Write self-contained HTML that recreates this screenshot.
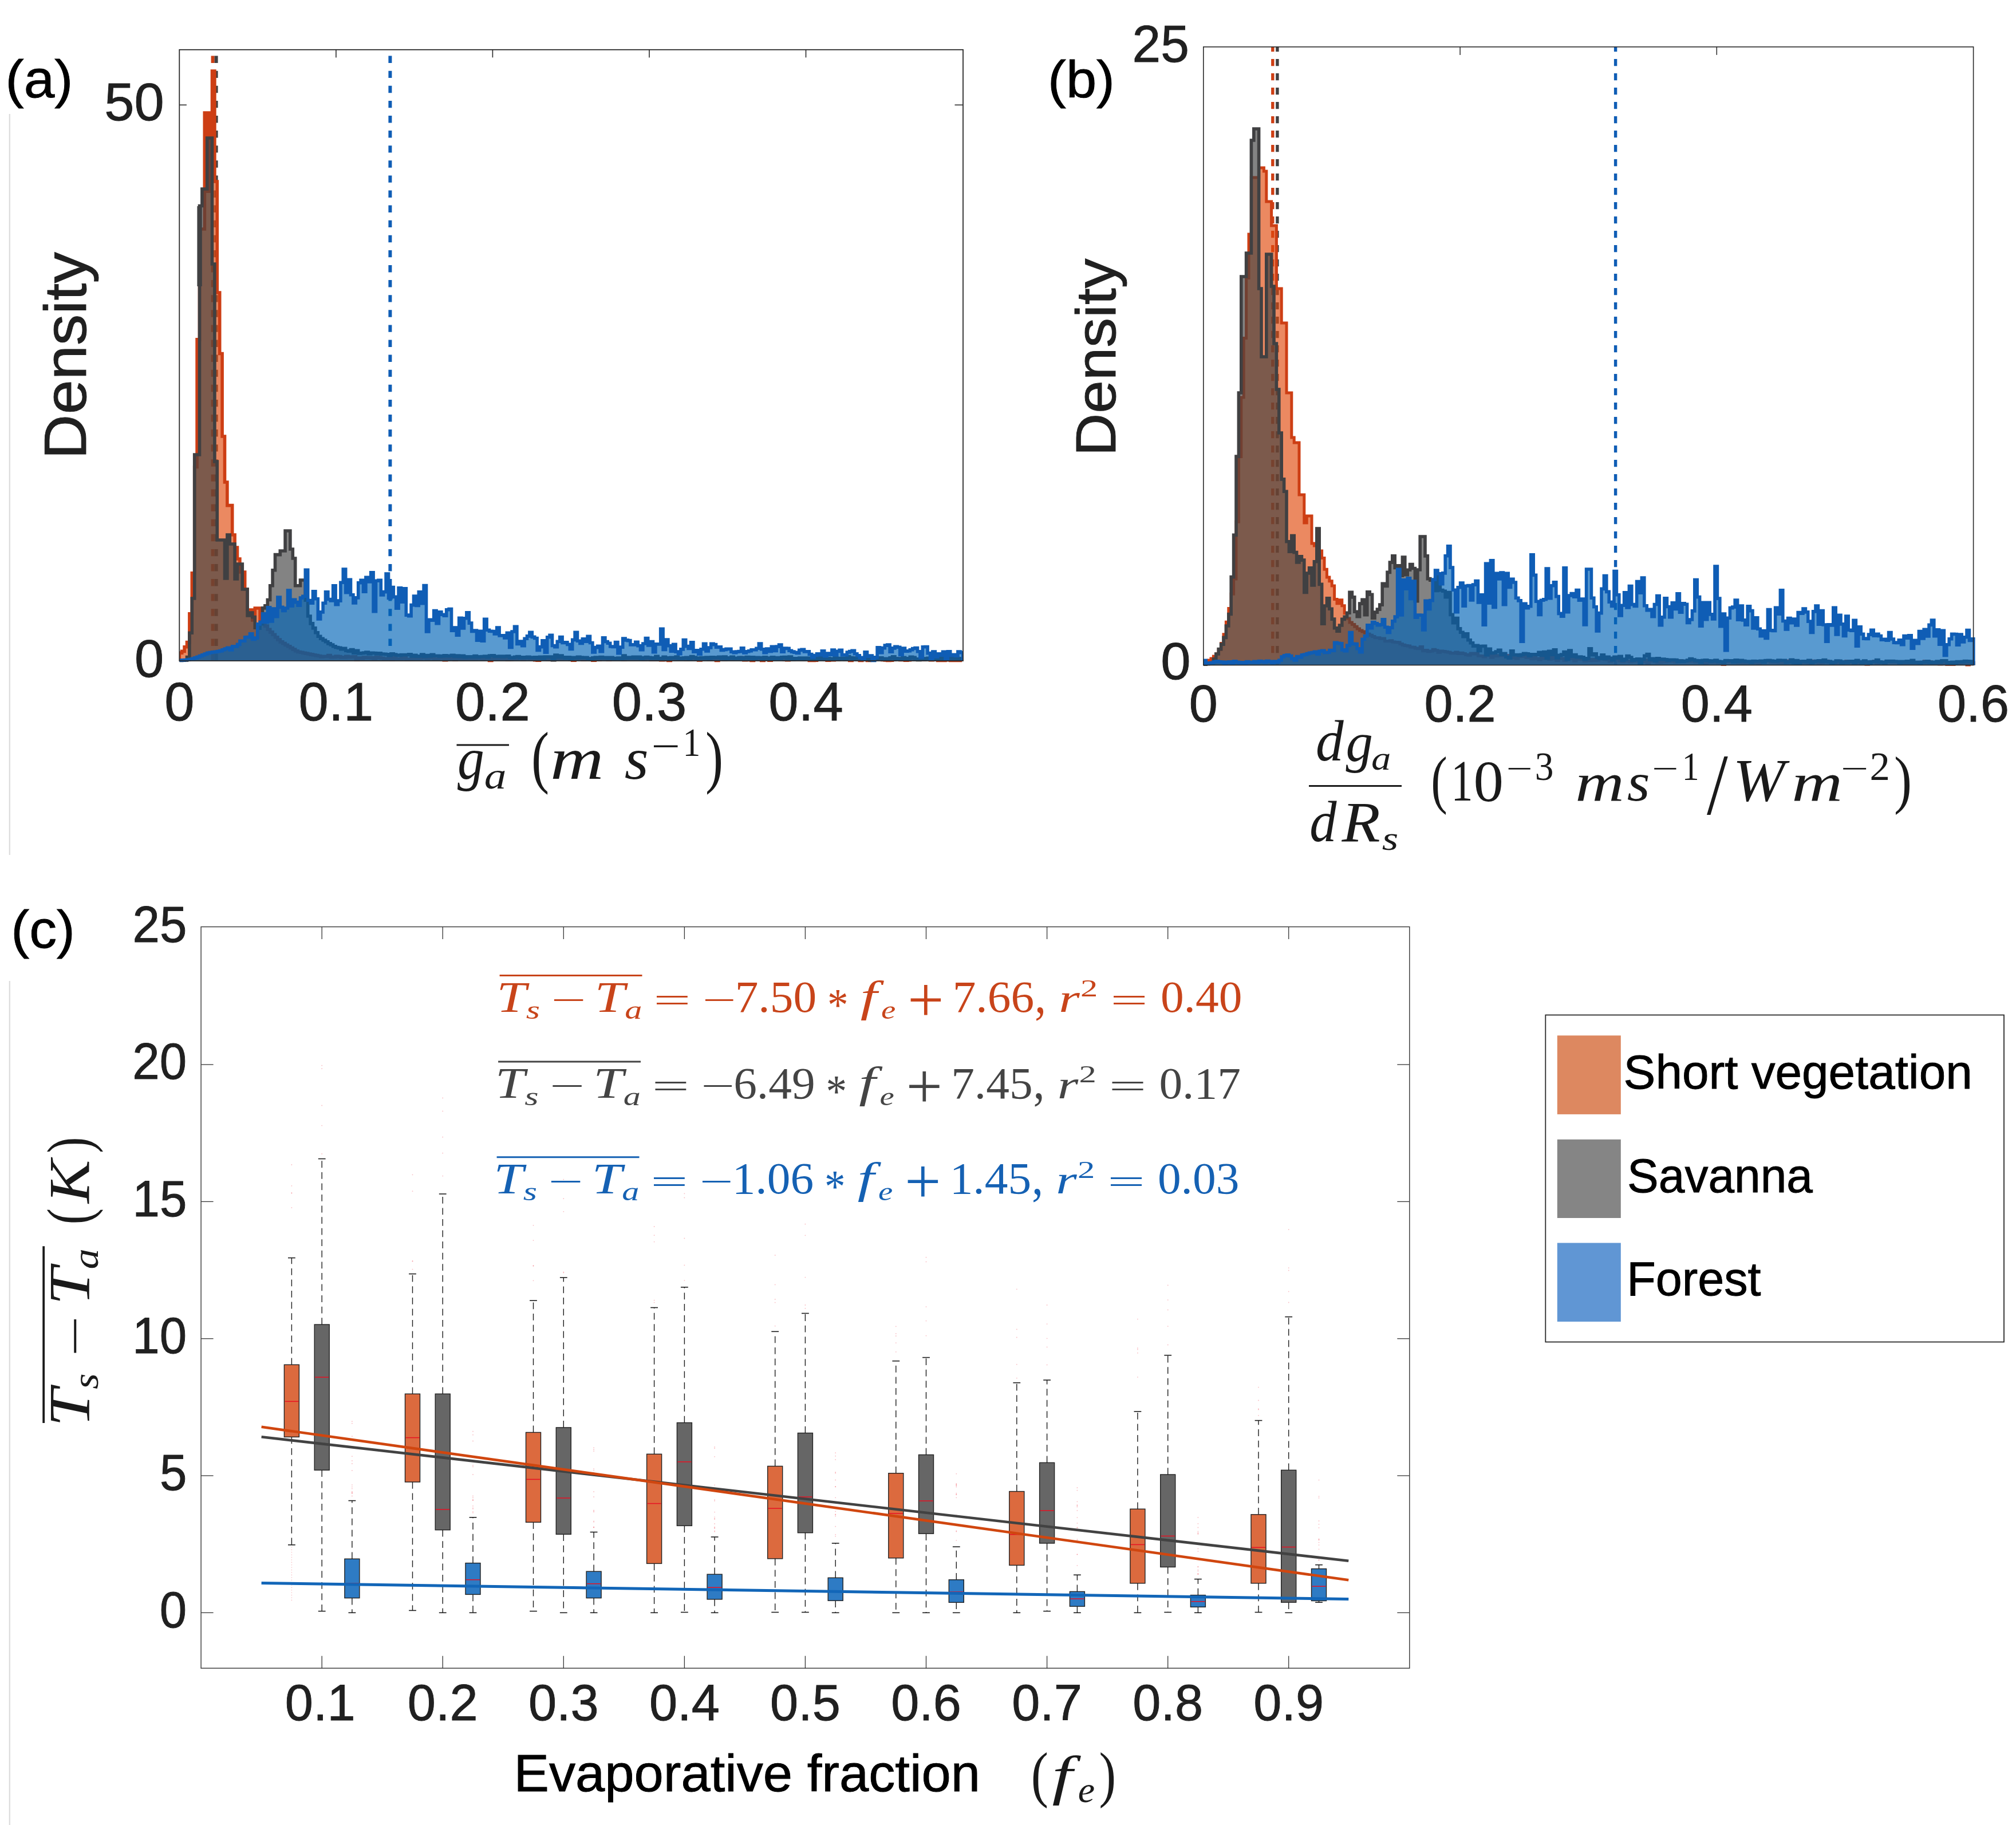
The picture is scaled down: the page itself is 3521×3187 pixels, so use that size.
<!DOCTYPE html>
<html><head><meta charset="utf-8"><title>Figure</title>
<style>
html,body{margin:0;padding:0;background:#fff;}
body{width:3521px;height:3187px;overflow:hidden;}
svg{display:block;}
text{white-space:pre;}
</style></head>
<body>
<svg width="3521" height="3187" viewBox="0 0 3521 3187">
<rect x="0" y="0" width="3521" height="3187" fill="#ffffff"/>
<line x1="16.8" y1="199.0" x2="16.8" y2="1493.0" stroke="#dcdcdc" stroke-width="2.2" />
<line x1="16.8" y1="1713.0" x2="16.8" y2="3187.0" stroke="#dcdcdc" stroke-width="2.2" />
<g id="panel-a">
<clipPath id="clipA"><rect x="313.3" y="86.8" width="1368.7" height="1073.2"/></clipPath>
<g clip-path="url(#clipA)">
<line x1="371.6" y1="1154.0" x2="371.6" y2="66.8" stroke="#CD3E14" stroke-width="6" stroke-dasharray="12.4 13.700000000000001" stroke-dashoffset="0"/>
<line x1="377.6" y1="1154.0" x2="377.6" y2="66.8" stroke="#404042" stroke-width="6" stroke-dasharray="12.4 13.700000000000001" stroke-dashoffset="0"/>
<line x1="681.4" y1="1154.0" x2="681.4" y2="66.8" stroke="#0F5DB5" stroke-width="6" stroke-dasharray="12.4 13.700000000000001" stroke-dashoffset="0"/>
<path d="M313.3,1154.0L313.3,1140.1L317.7,1140.1L317.7,1137.4L322.1,1137.4L322.1,1129.8L326.5,1129.8L326.5,1121.6L330.9,1121.6L330.9,1071.8L335.3,1071.8L335.3,1000.8L339.7,1000.8L339.7,815.5L344.1,815.5L344.1,592.7L348.5,592.7L348.5,400.0L352.9,400.0L352.9,400.0L357.3,400.0L357.3,197.0L361.7,197.0L361.7,197.0L366.1,197.0L366.1,197.0L370.5,197.0L370.5,124.0L374.9,124.0L374.9,317.0L379.3,317.0L379.3,511.0L383.7,511.0L383.7,617.5L388.1,617.5L388.1,762.0L392.5,762.0L392.5,842.0L396.9,842.0L396.9,882.6L401.3,882.6L401.3,882.6L405.7,882.6L405.7,934.0L410.1,934.0L410.1,956.0L414.5,956.0L414.5,976.0L418.9,976.0L418.9,999.0L423.3,999.0L423.3,999.0L427.7,999.0L427.7,1029.0L432.1,1029.0L432.1,1065.0L436.5,1065.0L436.5,1065.0L440.9,1065.0L440.9,1083.0L445.3,1083.0L445.3,1062.0L449.7,1062.0L449.7,1062.0L454.1,1062.0L454.1,1083.0L458.5,1083.0L458.5,1083.0L462.9,1083.0L462.9,1093.1L467.3,1093.1L467.3,1099.3L471.7,1099.3L471.7,1103.9L476.1,1103.9L476.1,1108.3L480.5,1108.3L480.5,1112.7L484.9,1112.7L484.9,1117.1L489.3,1117.1L489.3,1120.9L493.7,1120.9L493.7,1123.5L498.1,1123.5L498.1,1126.2L502.5,1126.2L502.5,1128.8L506.9,1128.8L506.9,1131.5L511.3,1131.5L511.3,1134.1L515.7,1134.1L515.7,1136.7L520.1,1136.7L520.1,1138.5L524.5,1138.5L524.5,1139.3L528.9,1139.3L528.9,1140.2L533.3,1140.2L533.3,1141.1L537.7,1141.1L537.7,1142.0L542.1,1142.0L542.1,1142.9L546.5,1142.9L546.5,1143.7L550.9,1143.7L550.9,1144.6L555.3,1144.6L555.3,1145.5L559.7,1145.5L559.7,1146.8L564.1,1146.8L564.1,1146.2L568.5,1146.2L568.5,1146.2L572.9,1146.2L572.9,1144.6L577.3,1144.6L577.3,1147.4L581.7,1147.4L581.7,1147.3L586.1,1147.3L586.1,1146.0L590.5,1146.0L590.5,1146.6L594.9,1146.6L594.9,1147.8L599.3,1147.8L599.3,1147.8L603.7,1147.8L603.7,1146.4L608.1,1146.4L608.1,1147.3L612.5,1147.3L612.5,1147.0L616.9,1147.0L616.9,1146.7L621.3,1146.7L621.3,1152.0L625.7,1152.0L625.7,1149.0L630.1,1149.0L630.1,1149.6L634.5,1149.6L634.5,1148.0L638.9,1148.0L638.9,1148.3L643.3,1148.3L643.3,1148.2L647.7,1148.2L647.7,1148.6L652.1,1148.6L652.1,1150.2L656.5,1150.2L656.5,1147.5L660.9,1147.5L660.9,1148.3L665.3,1148.3L665.3,1149.2L669.7,1149.2L669.7,1151.1L674.1,1151.1L674.1,1150.4L678.5,1150.4L678.5,1148.0L682.9,1148.0L682.9,1151.4L687.3,1151.4L687.3,1148.6L691.7,1148.6L691.7,1150.7L696.1,1150.7L696.1,1150.8L700.5,1150.8L700.5,1149.6L704.9,1149.6L704.9,1148.6L709.3,1148.6L709.3,1151.4L713.7,1151.4L713.7,1151.2L718.1,1151.2L718.1,1150.7L722.5,1150.7L722.5,1150.0L726.9,1150.0L726.9,1150.4L731.3,1150.4L731.3,1149.8L735.7,1149.8L735.7,1148.2L740.1,1148.2L740.1,1148.7L744.5,1148.7L744.5,1150.7L748.9,1150.7L748.9,1148.4L753.3,1148.4L753.3,1148.7L757.7,1148.7L757.7,1151.1L762.1,1151.1L762.1,1151.0L766.5,1151.0L766.5,1148.6L770.9,1148.6L770.9,1149.2L775.3,1149.2L775.3,1152.7L779.7,1152.7L779.7,1151.1L784.1,1151.1L784.1,1150.7L788.5,1150.7L788.5,1149.0L792.9,1149.0L792.9,1152.3L797.3,1152.3L797.3,1149.5L801.7,1149.5L801.7,1150.3L806.1,1150.3L806.1,1149.4L810.5,1149.4L810.5,1151.3L814.9,1151.3L814.9,1150.8L819.3,1150.8L819.3,1149.8L823.7,1149.8L823.7,1150.5L828.1,1150.5L828.1,1151.2L832.5,1151.2L832.5,1149.6L836.9,1149.6L836.9,1148.7L841.3,1148.7L841.3,1151.1L845.7,1151.1L845.7,1148.7L850.1,1148.7L850.1,1149.8L854.5,1149.8L854.5,1153.5L858.9,1153.5L858.9,1150.6L863.3,1150.6L863.3,1151.1L867.7,1151.1L867.7,1149.0L872.1,1149.0L872.1,1150.3L876.5,1150.3L876.5,1150.5L880.9,1150.5L880.9,1149.3L885.3,1149.3L885.3,1151.9L889.7,1151.9L889.7,1151.7L894.1,1151.7L894.1,1150.0L898.5,1150.0L898.5,1150.7L902.9,1150.7L902.9,1149.5L907.3,1149.5L907.3,1149.5L911.7,1149.5L911.7,1151.5L916.1,1151.5L916.1,1149.4L920.5,1149.4L920.5,1149.2L924.9,1149.2L924.9,1150.9L929.3,1150.9L929.3,1150.9L933.7,1150.9L933.7,1152.7L938.1,1152.7L938.1,1153.2L942.5,1153.2L942.5,1149.0L946.9,1149.0L946.9,1150.7L951.3,1150.7L951.3,1148.5L955.7,1148.5L955.7,1151.8L960.1,1151.8L960.1,1151.9L964.5,1151.9L964.5,1150.0L968.9,1150.0L968.9,1148.4L973.3,1148.4L973.3,1150.2L977.7,1150.2L977.7,1150.1L982.1,1150.1L982.1,1149.6L986.5,1149.6L986.5,1149.7L990.9,1149.7L990.9,1149.4L995.3,1149.4L995.3,1151.7L999.7,1151.7L999.7,1153.3L1004.1,1153.3L1004.1,1149.9L1008.5,1149.9L1008.5,1150.2L1012.9,1150.2L1012.9,1150.9L1017.3,1150.9L1017.3,1152.3L1021.7,1152.3L1021.7,1151.6L1026.1,1151.6L1026.1,1151.1L1030.5,1151.1L1030.5,1150.0L1034.9,1150.0L1034.9,1153.2L1039.3,1153.2L1039.3,1150.9L1043.7,1150.9L1043.7,1152.1L1048.1,1152.1L1048.1,1149.2L1052.5,1149.2L1052.5,1151.0L1056.9,1151.0L1056.9,1150.2L1061.3,1150.2L1061.3,1152.2L1065.7,1152.2L1065.7,1149.4L1070.1,1149.4L1070.1,1151.3L1074.5,1151.3L1074.5,1151.2L1078.9,1151.2L1078.9,1149.9L1083.3,1149.9L1083.3,1149.9L1087.7,1149.9L1087.7,1151.8L1092.1,1151.8L1092.1,1150.6L1096.5,1150.6L1096.5,1150.2L1100.9,1150.2L1100.9,1150.7L1105.3,1150.7L1105.3,1150.0L1109.7,1150.0L1109.7,1151.3L1114.1,1151.3L1114.1,1149.8L1118.5,1149.8L1118.5,1150.9L1122.9,1150.9L1122.9,1151.5L1127.3,1151.5L1127.3,1150.4L1131.7,1150.4L1131.7,1149.5L1136.1,1149.5L1136.1,1152.2L1140.5,1152.2L1140.5,1150.1L1144.9,1150.1L1144.9,1152.1L1149.3,1152.1L1149.3,1152.2L1153.7,1152.2L1153.7,1152.7L1158.1,1152.7L1158.1,1152.5L1162.5,1152.5L1162.5,1150.0L1166.9,1150.0L1166.9,1153.4L1171.3,1153.4L1171.3,1150.7L1175.7,1150.7L1175.7,1150.5L1180.1,1150.5L1180.1,1151.4L1184.5,1151.4L1184.5,1151.0L1188.9,1151.0L1188.9,1150.5L1193.3,1150.5L1193.3,1150.9L1197.7,1150.9L1197.7,1151.6L1202.1,1151.6L1202.1,1150.2L1206.5,1150.2L1206.5,1150.9L1210.9,1150.9L1210.9,1150.5L1215.3,1150.5L1215.3,1151.2L1219.7,1151.2L1219.7,1152.9L1224.1,1152.9L1224.1,1151.1L1228.5,1151.1L1228.5,1150.8L1232.9,1150.8L1232.9,1150.9L1237.3,1150.9L1237.3,1151.7L1241.7,1151.7L1241.7,1151.4L1246.1,1151.4L1246.1,1149.2L1250.5,1149.2L1250.5,1153.5L1254.9,1153.5L1254.9,1148.4L1259.3,1148.4L1259.3,1150.0L1263.7,1150.0L1263.7,1151.8L1268.1,1151.8L1268.1,1150.0L1272.5,1150.0L1272.5,1151.3L1276.9,1151.3L1276.9,1151.3L1281.3,1151.3L1281.3,1150.6L1285.7,1150.6L1285.7,1150.0L1290.1,1150.0L1290.1,1151.0L1294.5,1151.0L1294.5,1148.3L1298.9,1148.3L1298.9,1152.6L1303.3,1152.6L1303.3,1150.1L1307.7,1150.1L1307.7,1152.5L1312.1,1152.5L1312.1,1153.5L1316.5,1153.5L1316.5,1151.4L1320.9,1151.4L1320.9,1149.6L1325.3,1149.6L1325.3,1152.3L1329.7,1152.3L1329.7,1153.4L1334.1,1153.4L1334.1,1149.9L1338.5,1149.9L1338.5,1151.1L1342.9,1151.1L1342.9,1153.3L1347.3,1153.3L1347.3,1150.3L1351.7,1150.3L1351.7,1149.5L1356.1,1149.5L1356.1,1150.0L1360.5,1150.0L1360.5,1151.0L1364.9,1151.0L1364.9,1148.5L1369.3,1148.5L1369.3,1152.2L1373.7,1152.2L1373.7,1152.7L1378.1,1152.7L1378.1,1149.7L1382.5,1149.7L1382.5,1151.4L1386.9,1151.4L1386.9,1151.1L1391.3,1151.1L1391.3,1151.4L1395.7,1151.4L1395.7,1151.5L1400.1,1151.5L1400.1,1150.2L1404.5,1150.2L1404.5,1151.8L1408.9,1151.8L1408.9,1151.1L1413.3,1151.1L1413.3,1153.4L1417.7,1153.4L1417.7,1153.5L1422.1,1153.5L1422.1,1153.1L1426.5,1153.1L1426.5,1150.0L1430.9,1150.0L1430.9,1150.7L1435.3,1150.7L1435.3,1150.9L1439.7,1150.9L1439.7,1151.8L1444.1,1151.8L1444.1,1153.2L1448.5,1153.2L1448.5,1151.5L1452.9,1151.5L1452.9,1152.8L1457.3,1152.8L1457.3,1150.8L1461.7,1150.8L1461.7,1151.9L1466.1,1151.9L1466.1,1149.9L1470.5,1149.9L1470.5,1150.5L1474.9,1150.5L1474.9,1151.6L1479.3,1151.6L1479.3,1151.2L1483.7,1151.2L1483.7,1153.5L1488.1,1153.5L1488.1,1150.0L1492.5,1150.0L1492.5,1148.7L1496.9,1148.7L1496.9,1151.8L1501.3,1151.8L1501.3,1153.5L1505.7,1153.5L1505.7,1151.6L1510.1,1151.6L1510.1,1150.2L1514.5,1150.2L1514.5,1153.5L1518.9,1153.5L1518.9,1151.0L1523.3,1151.0L1523.3,1150.4L1527.7,1150.4L1527.7,1150.6L1532.1,1150.6L1532.1,1150.3L1536.5,1150.3L1536.5,1151.2L1540.9,1151.2L1540.9,1152.4L1545.3,1152.4L1545.3,1152.9L1549.7,1152.9L1549.7,1153.5L1554.1,1153.5L1554.1,1153.2L1558.5,1153.2L1558.5,1152.3L1562.9,1152.3L1562.9,1149.8L1567.3,1149.8L1567.3,1150.1L1571.7,1150.1L1571.7,1152.4L1576.1,1152.4L1576.1,1151.0L1580.5,1151.0L1580.5,1153.2L1584.9,1153.2L1584.9,1152.7L1589.3,1152.7L1589.3,1151.8L1593.7,1151.8L1593.7,1148.5L1598.1,1148.5L1598.1,1151.4L1602.5,1151.4L1602.5,1151.7L1606.9,1151.7L1606.9,1152.3L1611.3,1152.3L1611.3,1152.3L1615.7,1152.3L1615.7,1150.3L1620.1,1150.3L1620.1,1150.9L1624.5,1150.9L1624.5,1152.8L1628.9,1152.8L1628.9,1150.9L1633.3,1150.9L1633.3,1152.0L1637.7,1152.0L1637.7,1153.5L1642.1,1153.5L1642.1,1151.3L1646.5,1151.3L1646.5,1153.5L1650.9,1153.5L1650.9,1152.8L1655.3,1152.8L1655.3,1151.5L1659.7,1151.5L1659.7,1153.5L1664.1,1153.5L1664.1,1153.5L1668.5,1153.5L1668.5,1152.0L1672.9,1152.0L1672.9,1153.5L1677.3,1153.5L1677.3,1150.0L1681.7,1150.0L1681.7,1154.0Z" fill="#E04A0C" fill-opacity="0.65" stroke="none"/>
<path d="M313.3,1154.0L313.3,1140.1L317.7,1140.1L317.7,1137.4L322.1,1137.4L322.1,1129.8L326.5,1129.8L326.5,1121.6L330.9,1121.6L330.9,1071.8L335.3,1071.8L335.3,1000.8L339.7,1000.8L339.7,815.5L344.1,815.5L344.1,592.7L348.5,592.7L348.5,400.0L352.9,400.0L352.9,400.0L357.3,400.0L357.3,197.0L361.7,197.0L361.7,197.0L366.1,197.0L366.1,197.0L370.5,197.0L370.5,124.0L374.9,124.0L374.9,317.0L379.3,317.0L379.3,511.0L383.7,511.0L383.7,617.5L388.1,617.5L388.1,762.0L392.5,762.0L392.5,842.0L396.9,842.0L396.9,882.6L401.3,882.6L401.3,882.6L405.7,882.6L405.7,934.0L410.1,934.0L410.1,956.0L414.5,956.0L414.5,976.0L418.9,976.0L418.9,999.0L423.3,999.0L423.3,999.0L427.7,999.0L427.7,1029.0L432.1,1029.0L432.1,1065.0L436.5,1065.0L436.5,1065.0L440.9,1065.0L440.9,1083.0L445.3,1083.0L445.3,1062.0L449.7,1062.0L449.7,1062.0L454.1,1062.0L454.1,1083.0L458.5,1083.0L458.5,1083.0L462.9,1083.0L462.9,1093.1L467.3,1093.1L467.3,1099.3L471.7,1099.3L471.7,1103.9L476.1,1103.9L476.1,1108.3L480.5,1108.3L480.5,1112.7L484.9,1112.7L484.9,1117.1L489.3,1117.1L489.3,1120.9L493.7,1120.9L493.7,1123.5L498.1,1123.5L498.1,1126.2L502.5,1126.2L502.5,1128.8L506.9,1128.8L506.9,1131.5L511.3,1131.5L511.3,1134.1L515.7,1134.1L515.7,1136.7L520.1,1136.7L520.1,1138.5L524.5,1138.5L524.5,1139.3L528.9,1139.3L528.9,1140.2L533.3,1140.2L533.3,1141.1L537.7,1141.1L537.7,1142.0L542.1,1142.0L542.1,1142.9L546.5,1142.9L546.5,1143.7L550.9,1143.7L550.9,1144.6L555.3,1144.6L555.3,1145.5L559.7,1145.5L559.7,1146.8L564.1,1146.8L564.1,1146.2L568.5,1146.2L568.5,1146.2L572.9,1146.2L572.9,1144.6L577.3,1144.6L577.3,1147.4L581.7,1147.4L581.7,1147.3L586.1,1147.3L586.1,1146.0L590.5,1146.0L590.5,1146.6L594.9,1146.6L594.9,1147.8L599.3,1147.8L599.3,1147.8L603.7,1147.8L603.7,1146.4L608.1,1146.4L608.1,1147.3L612.5,1147.3L612.5,1147.0L616.9,1147.0L616.9,1146.7L621.3,1146.7L621.3,1152.0L625.7,1152.0L625.7,1149.0L630.1,1149.0L630.1,1149.6L634.5,1149.6L634.5,1148.0L638.9,1148.0L638.9,1148.3L643.3,1148.3L643.3,1148.2L647.7,1148.2L647.7,1148.6L652.1,1148.6L652.1,1150.2L656.5,1150.2L656.5,1147.5L660.9,1147.5L660.9,1148.3L665.3,1148.3L665.3,1149.2L669.7,1149.2L669.7,1151.1L674.1,1151.1L674.1,1150.4L678.5,1150.4L678.5,1148.0L682.9,1148.0L682.9,1151.4L687.3,1151.4L687.3,1148.6L691.7,1148.6L691.7,1150.7L696.1,1150.7L696.1,1150.8L700.5,1150.8L700.5,1149.6L704.9,1149.6L704.9,1148.6L709.3,1148.6L709.3,1151.4L713.7,1151.4L713.7,1151.2L718.1,1151.2L718.1,1150.7L722.5,1150.7L722.5,1150.0L726.9,1150.0L726.9,1150.4L731.3,1150.4L731.3,1149.8L735.7,1149.8L735.7,1148.2L740.1,1148.2L740.1,1148.7L744.5,1148.7L744.5,1150.7L748.9,1150.7L748.9,1148.4L753.3,1148.4L753.3,1148.7L757.7,1148.7L757.7,1151.1L762.1,1151.1L762.1,1151.0L766.5,1151.0L766.5,1148.6L770.9,1148.6L770.9,1149.2L775.3,1149.2L775.3,1152.7L779.7,1152.7L779.7,1151.1L784.1,1151.1L784.1,1150.7L788.5,1150.7L788.5,1149.0L792.9,1149.0L792.9,1152.3L797.3,1152.3L797.3,1149.5L801.7,1149.5L801.7,1150.3L806.1,1150.3L806.1,1149.4L810.5,1149.4L810.5,1151.3L814.9,1151.3L814.9,1150.8L819.3,1150.8L819.3,1149.8L823.7,1149.8L823.7,1150.5L828.1,1150.5L828.1,1151.2L832.5,1151.2L832.5,1149.6L836.9,1149.6L836.9,1148.7L841.3,1148.7L841.3,1151.1L845.7,1151.1L845.7,1148.7L850.1,1148.7L850.1,1149.8L854.5,1149.8L854.5,1153.5L858.9,1153.5L858.9,1150.6L863.3,1150.6L863.3,1151.1L867.7,1151.1L867.7,1149.0L872.1,1149.0L872.1,1150.3L876.5,1150.3L876.5,1150.5L880.9,1150.5L880.9,1149.3L885.3,1149.3L885.3,1151.9L889.7,1151.9L889.7,1151.7L894.1,1151.7L894.1,1150.0L898.5,1150.0L898.5,1150.7L902.9,1150.7L902.9,1149.5L907.3,1149.5L907.3,1149.5L911.7,1149.5L911.7,1151.5L916.1,1151.5L916.1,1149.4L920.5,1149.4L920.5,1149.2L924.9,1149.2L924.9,1150.9L929.3,1150.9L929.3,1150.9L933.7,1150.9L933.7,1152.7L938.1,1152.7L938.1,1153.2L942.5,1153.2L942.5,1149.0L946.9,1149.0L946.9,1150.7L951.3,1150.7L951.3,1148.5L955.7,1148.5L955.7,1151.8L960.1,1151.8L960.1,1151.9L964.5,1151.9L964.5,1150.0L968.9,1150.0L968.9,1148.4L973.3,1148.4L973.3,1150.2L977.7,1150.2L977.7,1150.1L982.1,1150.1L982.1,1149.6L986.5,1149.6L986.5,1149.7L990.9,1149.7L990.9,1149.4L995.3,1149.4L995.3,1151.7L999.7,1151.7L999.7,1153.3L1004.1,1153.3L1004.1,1149.9L1008.5,1149.9L1008.5,1150.2L1012.9,1150.2L1012.9,1150.9L1017.3,1150.9L1017.3,1152.3L1021.7,1152.3L1021.7,1151.6L1026.1,1151.6L1026.1,1151.1L1030.5,1151.1L1030.5,1150.0L1034.9,1150.0L1034.9,1153.2L1039.3,1153.2L1039.3,1150.9L1043.7,1150.9L1043.7,1152.1L1048.1,1152.1L1048.1,1149.2L1052.5,1149.2L1052.5,1151.0L1056.9,1151.0L1056.9,1150.2L1061.3,1150.2L1061.3,1152.2L1065.7,1152.2L1065.7,1149.4L1070.1,1149.4L1070.1,1151.3L1074.5,1151.3L1074.5,1151.2L1078.9,1151.2L1078.9,1149.9L1083.3,1149.9L1083.3,1149.9L1087.7,1149.9L1087.7,1151.8L1092.1,1151.8L1092.1,1150.6L1096.5,1150.6L1096.5,1150.2L1100.9,1150.2L1100.9,1150.7L1105.3,1150.7L1105.3,1150.0L1109.7,1150.0L1109.7,1151.3L1114.1,1151.3L1114.1,1149.8L1118.5,1149.8L1118.5,1150.9L1122.9,1150.9L1122.9,1151.5L1127.3,1151.5L1127.3,1150.4L1131.7,1150.4L1131.7,1149.5L1136.1,1149.5L1136.1,1152.2L1140.5,1152.2L1140.5,1150.1L1144.9,1150.1L1144.9,1152.1L1149.3,1152.1L1149.3,1152.2L1153.7,1152.2L1153.7,1152.7L1158.1,1152.7L1158.1,1152.5L1162.5,1152.5L1162.5,1150.0L1166.9,1150.0L1166.9,1153.4L1171.3,1153.4L1171.3,1150.7L1175.7,1150.7L1175.7,1150.5L1180.1,1150.5L1180.1,1151.4L1184.5,1151.4L1184.5,1151.0L1188.9,1151.0L1188.9,1150.5L1193.3,1150.5L1193.3,1150.9L1197.7,1150.9L1197.7,1151.6L1202.1,1151.6L1202.1,1150.2L1206.5,1150.2L1206.5,1150.9L1210.9,1150.9L1210.9,1150.5L1215.3,1150.5L1215.3,1151.2L1219.7,1151.2L1219.7,1152.9L1224.1,1152.9L1224.1,1151.1L1228.5,1151.1L1228.5,1150.8L1232.9,1150.8L1232.9,1150.9L1237.3,1150.9L1237.3,1151.7L1241.7,1151.7L1241.7,1151.4L1246.1,1151.4L1246.1,1149.2L1250.5,1149.2L1250.5,1153.5L1254.9,1153.5L1254.9,1148.4L1259.3,1148.4L1259.3,1150.0L1263.7,1150.0L1263.7,1151.8L1268.1,1151.8L1268.1,1150.0L1272.5,1150.0L1272.5,1151.3L1276.9,1151.3L1276.9,1151.3L1281.3,1151.3L1281.3,1150.6L1285.7,1150.6L1285.7,1150.0L1290.1,1150.0L1290.1,1151.0L1294.5,1151.0L1294.5,1148.3L1298.9,1148.3L1298.9,1152.6L1303.3,1152.6L1303.3,1150.1L1307.7,1150.1L1307.7,1152.5L1312.1,1152.5L1312.1,1153.5L1316.5,1153.5L1316.5,1151.4L1320.9,1151.4L1320.9,1149.6L1325.3,1149.6L1325.3,1152.3L1329.7,1152.3L1329.7,1153.4L1334.1,1153.4L1334.1,1149.9L1338.5,1149.9L1338.5,1151.1L1342.9,1151.1L1342.9,1153.3L1347.3,1153.3L1347.3,1150.3L1351.7,1150.3L1351.7,1149.5L1356.1,1149.5L1356.1,1150.0L1360.5,1150.0L1360.5,1151.0L1364.9,1151.0L1364.9,1148.5L1369.3,1148.5L1369.3,1152.2L1373.7,1152.2L1373.7,1152.7L1378.1,1152.7L1378.1,1149.7L1382.5,1149.7L1382.5,1151.4L1386.9,1151.4L1386.9,1151.1L1391.3,1151.1L1391.3,1151.4L1395.7,1151.4L1395.7,1151.5L1400.1,1151.5L1400.1,1150.2L1404.5,1150.2L1404.5,1151.8L1408.9,1151.8L1408.9,1151.1L1413.3,1151.1L1413.3,1153.4L1417.7,1153.4L1417.7,1153.5L1422.1,1153.5L1422.1,1153.1L1426.5,1153.1L1426.5,1150.0L1430.9,1150.0L1430.9,1150.7L1435.3,1150.7L1435.3,1150.9L1439.7,1150.9L1439.7,1151.8L1444.1,1151.8L1444.1,1153.2L1448.5,1153.2L1448.5,1151.5L1452.9,1151.5L1452.9,1152.8L1457.3,1152.8L1457.3,1150.8L1461.7,1150.8L1461.7,1151.9L1466.1,1151.9L1466.1,1149.9L1470.5,1149.9L1470.5,1150.5L1474.9,1150.5L1474.9,1151.6L1479.3,1151.6L1479.3,1151.2L1483.7,1151.2L1483.7,1153.5L1488.1,1153.5L1488.1,1150.0L1492.5,1150.0L1492.5,1148.7L1496.9,1148.7L1496.9,1151.8L1501.3,1151.8L1501.3,1153.5L1505.7,1153.5L1505.7,1151.6L1510.1,1151.6L1510.1,1150.2L1514.5,1150.2L1514.5,1153.5L1518.9,1153.5L1518.9,1151.0L1523.3,1151.0L1523.3,1150.4L1527.7,1150.4L1527.7,1150.6L1532.1,1150.6L1532.1,1150.3L1536.5,1150.3L1536.5,1151.2L1540.9,1151.2L1540.9,1152.4L1545.3,1152.4L1545.3,1152.9L1549.7,1152.9L1549.7,1153.5L1554.1,1153.5L1554.1,1153.2L1558.5,1153.2L1558.5,1152.3L1562.9,1152.3L1562.9,1149.8L1567.3,1149.8L1567.3,1150.1L1571.7,1150.1L1571.7,1152.4L1576.1,1152.4L1576.1,1151.0L1580.5,1151.0L1580.5,1153.2L1584.9,1153.2L1584.9,1152.7L1589.3,1152.7L1589.3,1151.8L1593.7,1151.8L1593.7,1148.5L1598.1,1148.5L1598.1,1151.4L1602.5,1151.4L1602.5,1151.7L1606.9,1151.7L1606.9,1152.3L1611.3,1152.3L1611.3,1152.3L1615.7,1152.3L1615.7,1150.3L1620.1,1150.3L1620.1,1150.9L1624.5,1150.9L1624.5,1152.8L1628.9,1152.8L1628.9,1150.9L1633.3,1150.9L1633.3,1152.0L1637.7,1152.0L1637.7,1153.5L1642.1,1153.5L1642.1,1151.3L1646.5,1151.3L1646.5,1153.5L1650.9,1153.5L1650.9,1152.8L1655.3,1152.8L1655.3,1151.5L1659.7,1151.5L1659.7,1153.5L1664.1,1153.5L1664.1,1153.5L1668.5,1153.5L1668.5,1152.0L1672.9,1152.0L1672.9,1153.5L1677.3,1153.5L1677.3,1150.0L1681.7,1150.0L1681.7,1154.0" fill="none" stroke="#CD3E14" stroke-width="5.6" stroke-linejoin="miter"/>
<rect x="355" y="197" width="15" height="140" fill="#CD3E14"/>
<rect x="368" y="125" width="9" height="190" fill="#CD3E14"/>
<path d="M313.3,1154.0L313.3,1153.4L317.7,1153.4L317.7,1153.2L322.1,1153.2L322.1,1153.0L326.5,1153.0L326.5,1147.5L330.9,1147.5L330.9,1105.3L335.3,1105.3L335.3,1045.0L339.7,1045.0L339.7,794.0L344.1,794.0L344.1,794.0L348.5,794.0L348.5,359.5L352.9,359.5L352.9,330.0L357.3,330.0L357.3,330.0L361.7,330.0L361.7,241.0L366.1,241.0L366.1,241.0L370.5,241.0L370.5,461.0L374.9,461.0L374.9,806.0L379.3,806.0L379.3,943.0L383.7,943.0L383.7,943.0L388.1,943.0L388.1,943.0L392.5,943.0L392.5,1010.0L396.9,1010.0L396.9,934.0L401.3,934.0L401.3,950.0L405.7,950.0L405.7,950.0L410.1,950.0L410.1,1011.0L414.5,1011.0L414.5,985.0L418.9,985.0L418.9,985.0L423.3,985.0L423.3,1029.0L427.7,1029.0L427.7,1029.0L432.1,1029.0L432.1,1075.0L436.5,1075.0L436.5,1070.0L440.9,1070.0L440.9,1077.6L445.3,1077.6L445.3,1096.1L449.7,1096.1L449.7,1097.2L454.1,1097.2L454.1,1089.8L458.5,1089.8L458.5,1061.9L462.9,1061.9L462.9,1057.7L467.3,1057.7L467.3,1047.5L471.7,1047.5L471.7,1022.8L476.1,1022.8L476.1,995.7L480.5,995.7L480.5,968.6L484.9,968.6L484.9,968.6L489.3,968.6L489.3,962.0L493.7,962.0L493.7,962.0L498.1,962.0L498.1,927.0L502.5,927.0L502.5,927.0L506.9,927.0L506.9,959.0L511.3,959.0L511.3,975.0L515.7,975.0L515.7,1022.7L520.1,1022.7L520.1,1022.7L524.5,1022.7L524.5,1013.0L528.9,1013.0L528.9,1013.0L533.3,1013.0L533.3,1048.2L537.7,1048.2L537.7,1076.0L542.1,1076.0L542.1,1088.9L546.5,1088.9L546.5,1096.9L550.9,1096.9L550.9,1104.8L555.3,1104.8L555.3,1111.2L559.7,1111.2L559.7,1115.2L564.1,1115.2L564.1,1118.0L568.5,1118.0L568.5,1120.8L572.9,1120.8L572.9,1123.9L577.3,1123.9L577.3,1126.0L581.7,1126.0L581.7,1128.8L586.1,1128.8L586.1,1130.5L590.5,1130.5L590.5,1131.4L594.9,1131.4L594.9,1133.7L599.3,1133.7L599.3,1132.4L603.7,1132.4L603.7,1136.2L608.1,1136.2L608.1,1137.2L612.5,1137.2L612.5,1134.5L616.9,1134.5L616.9,1140.1L621.3,1140.1L621.3,1136.4L625.7,1136.4L625.7,1141.0L630.1,1141.0L630.1,1140.5L634.5,1140.5L634.5,1140.0L638.9,1140.0L638.9,1139.0L643.3,1139.0L643.3,1141.7L647.7,1141.7L647.7,1140.2L652.1,1140.2L652.1,1140.5L656.5,1140.5L656.5,1141.8L660.9,1141.8L660.9,1140.9L665.3,1140.9L665.3,1142.1L669.7,1142.1L669.7,1142.3L674.1,1142.3L674.1,1142.8L678.5,1142.8L678.5,1144.8L682.9,1144.8L682.9,1141.8L687.3,1141.8L687.3,1143.0L691.7,1143.0L691.7,1144.0L696.1,1144.0L696.1,1144.5L700.5,1144.5L700.5,1143.5L704.9,1143.5L704.9,1143.8L709.3,1143.8L709.3,1143.5L713.7,1143.5L713.7,1142.7L718.1,1142.7L718.1,1145.9L722.5,1145.9L722.5,1144.2L726.9,1144.2L726.9,1146.1L731.3,1146.1L731.3,1145.8L735.7,1145.8L735.7,1143.1L740.1,1143.1L740.1,1146.4L744.5,1146.4L744.5,1144.6L748.9,1144.6L748.9,1146.0L753.3,1146.0L753.3,1143.4L757.7,1143.4L757.7,1145.3L762.1,1145.3L762.1,1145.2L766.5,1145.2L766.5,1146.3L770.9,1146.3L770.9,1145.6L775.3,1145.6L775.3,1144.8L779.7,1144.8L779.7,1145.6L784.1,1145.6L784.1,1145.3L788.5,1145.3L788.5,1144.3L792.9,1144.3L792.9,1146.5L797.3,1146.5L797.3,1145.1L801.7,1145.1L801.7,1146.7L806.1,1146.7L806.1,1145.2L810.5,1145.2L810.5,1147.5L814.9,1147.5L814.9,1146.9L819.3,1146.9L819.3,1146.8L823.7,1146.8L823.7,1147.2L828.1,1147.2L828.1,1145.5L832.5,1145.5L832.5,1147.2L836.9,1147.2L836.9,1146.8L841.3,1146.8L841.3,1146.5L845.7,1146.5L845.7,1146.0L850.1,1146.0L850.1,1147.5L854.5,1147.5L854.5,1145.0L858.9,1145.0L858.9,1144.8L863.3,1144.8L863.3,1146.5L867.7,1146.5L867.7,1146.4L872.1,1146.4L872.1,1146.1L876.5,1146.1L876.5,1147.0L880.9,1147.0L880.9,1146.1L885.3,1146.1L885.3,1145.8L889.7,1145.8L889.7,1148.2L894.1,1148.2L894.1,1148.2L898.5,1148.2L898.5,1147.3L902.9,1147.3L902.9,1146.6L907.3,1146.6L907.3,1148.4L911.7,1148.4L911.7,1147.9L916.1,1147.9L916.1,1148.1L920.5,1148.1L920.5,1147.4L924.9,1147.4L924.9,1148.2L929.3,1148.2L929.3,1148.1L933.7,1148.1L933.7,1147.9L938.1,1147.9L938.1,1148.6L942.5,1148.6L942.5,1147.4L946.9,1147.4L946.9,1149.8L951.3,1149.8L951.3,1147.1L955.7,1147.1L955.7,1147.3L960.1,1147.3L960.1,1147.0L964.5,1147.0L964.5,1152.7L968.9,1152.7L968.9,1144.0L973.3,1144.0L973.3,1147.4L977.7,1147.4L977.7,1145.1L982.1,1145.1L982.1,1147.8L986.5,1147.8L986.5,1149.1L990.9,1149.1L990.9,1147.9L995.3,1147.9L995.3,1150.1L999.7,1150.1L999.7,1148.2L1004.1,1148.2L1004.1,1148.7L1008.5,1148.7L1008.5,1147.3L1012.9,1147.3L1012.9,1148.1L1017.3,1148.1L1017.3,1148.2L1021.7,1148.2L1021.7,1148.3L1026.1,1148.3L1026.1,1150.3L1030.5,1150.3L1030.5,1152.0L1034.9,1152.0L1034.9,1148.9L1039.3,1148.9L1039.3,1148.0L1043.7,1148.0L1043.7,1148.7L1048.1,1148.7L1048.1,1147.5L1052.5,1147.5L1052.5,1148.5L1056.9,1148.5L1056.9,1148.2L1061.3,1148.2L1061.3,1149.1L1065.7,1149.1L1065.7,1148.3L1070.1,1148.3L1070.1,1149.9L1074.5,1149.9L1074.5,1149.5L1078.9,1149.5L1078.9,1149.1L1083.3,1149.1L1083.3,1150.8L1087.7,1150.8L1087.7,1145.0L1092.1,1145.0L1092.1,1149.0L1096.5,1149.0L1096.5,1148.1L1100.9,1148.1L1100.9,1148.8L1105.3,1148.8L1105.3,1147.3L1109.7,1147.3L1109.7,1148.6L1114.1,1148.6L1114.1,1147.3L1118.5,1147.3L1118.5,1150.1L1122.9,1150.1L1122.9,1148.5L1127.3,1148.5L1127.3,1147.6L1131.7,1147.6L1131.7,1148.3L1136.1,1148.3L1136.1,1149.1L1140.5,1149.1L1140.5,1148.9L1144.9,1148.9L1144.9,1146.2L1149.3,1146.2L1149.3,1149.5L1153.7,1149.5L1153.7,1149.8L1158.1,1149.8L1158.1,1147.2L1162.5,1147.2L1162.5,1148.8L1166.9,1148.8L1166.9,1149.6L1171.3,1149.6L1171.3,1148.3L1175.7,1148.3L1175.7,1148.4L1180.1,1148.4L1180.1,1147.1L1184.5,1147.1L1184.5,1149.4L1188.9,1149.4L1188.9,1150.0L1193.3,1150.0L1193.3,1148.7L1197.7,1148.7L1197.7,1148.3L1202.1,1148.3L1202.1,1151.0L1206.5,1151.0L1206.5,1146.6L1210.9,1146.6L1210.9,1148.0L1215.3,1148.0L1215.3,1149.7L1219.7,1149.7L1219.7,1149.0L1224.1,1149.0L1224.1,1148.5L1228.5,1148.5L1228.5,1148.9L1232.9,1148.9L1232.9,1148.0L1237.3,1148.0L1237.3,1149.7L1241.7,1149.7L1241.7,1147.8L1246.1,1147.8L1246.1,1148.2L1250.5,1148.2L1250.5,1148.1L1254.9,1148.1L1254.9,1147.4L1259.3,1147.4L1259.3,1149.4L1263.7,1149.4L1263.7,1147.1L1268.1,1147.1L1268.1,1149.9L1272.5,1149.9L1272.5,1148.9L1276.9,1148.9L1276.9,1147.3L1281.3,1147.3L1281.3,1149.4L1285.7,1149.4L1285.7,1149.4L1290.1,1149.4L1290.1,1148.3L1294.5,1148.3L1294.5,1150.0L1298.9,1150.0L1298.9,1148.8L1303.3,1148.8L1303.3,1147.6L1307.7,1147.6L1307.7,1149.6L1312.1,1149.6L1312.1,1147.7L1316.5,1147.7L1316.5,1149.9L1320.9,1149.9L1320.9,1148.3L1325.3,1148.3L1325.3,1148.5L1329.7,1148.5L1329.7,1150.7L1334.1,1150.7L1334.1,1147.8L1338.5,1147.8L1338.5,1149.0L1342.9,1149.0L1342.9,1150.5L1347.3,1150.5L1347.3,1147.8L1351.7,1147.8L1351.7,1150.3L1356.1,1150.3L1356.1,1148.5L1360.5,1148.5L1360.5,1150.1L1364.9,1150.1L1364.9,1147.8L1369.3,1147.8L1369.3,1147.6L1373.7,1147.6L1373.7,1149.4L1378.1,1149.4L1378.1,1147.0L1382.5,1147.0L1382.5,1151.7L1386.9,1151.7L1386.9,1149.7L1391.3,1149.7L1391.3,1150.0L1395.7,1150.0L1395.7,1149.1L1400.1,1149.1L1400.1,1151.4L1404.5,1151.4L1404.5,1149.1L1408.9,1149.1L1408.9,1149.4L1413.3,1149.4L1413.3,1150.0L1417.7,1150.0L1417.7,1150.5L1422.1,1150.5L1422.1,1149.2L1426.5,1149.2L1426.5,1151.2L1430.9,1151.2L1430.9,1148.4L1435.3,1148.4L1435.3,1149.9L1439.7,1149.9L1439.7,1148.9L1444.1,1148.9L1444.1,1149.5L1448.5,1149.5L1448.5,1150.3L1452.9,1150.3L1452.9,1150.9L1457.3,1150.9L1457.3,1148.9L1461.7,1148.9L1461.7,1149.5L1466.1,1149.5L1466.1,1150.7L1470.5,1150.7L1470.5,1149.2L1474.9,1149.2L1474.9,1150.7L1479.3,1150.7L1479.3,1146.5L1483.7,1146.5L1483.7,1148.5L1488.1,1148.5L1488.1,1150.2L1492.5,1150.2L1492.5,1149.3L1496.9,1149.3L1496.9,1148.3L1501.3,1148.3L1501.3,1148.7L1505.7,1148.7L1505.7,1151.3L1510.1,1151.3L1510.1,1149.7L1514.5,1149.7L1514.5,1150.5L1518.9,1150.5L1518.9,1152.9L1523.3,1152.9L1523.3,1150.2L1527.7,1150.2L1527.7,1149.9L1532.1,1149.9L1532.1,1149.1L1536.5,1149.1L1536.5,1148.9L1540.9,1148.9L1540.9,1151.3L1545.3,1151.3L1545.3,1150.2L1549.7,1150.2L1549.7,1150.9L1554.1,1150.9L1554.1,1148.7L1558.5,1148.7L1558.5,1146.7L1562.9,1146.7L1562.9,1150.1L1567.3,1150.1L1567.3,1150.2L1571.7,1150.2L1571.7,1150.4L1576.1,1150.4L1576.1,1148.3L1580.5,1148.3L1580.5,1149.9L1584.9,1149.9L1584.9,1151.1L1589.3,1151.1L1589.3,1147.3L1593.7,1147.3L1593.7,1148.3L1598.1,1148.3L1598.1,1150.7L1602.5,1150.7L1602.5,1152.4L1606.9,1152.4L1606.9,1149.7L1611.3,1149.7L1611.3,1150.7L1615.7,1150.7L1615.7,1150.1L1620.1,1150.1L1620.1,1149.2L1624.5,1149.2L1624.5,1149.5L1628.9,1149.5L1628.9,1148.6L1633.3,1148.6L1633.3,1151.1L1637.7,1151.1L1637.7,1149.6L1642.1,1149.6L1642.1,1150.4L1646.5,1150.4L1646.5,1149.4L1650.9,1149.4L1650.9,1150.5L1655.3,1150.5L1655.3,1148.0L1659.7,1148.0L1659.7,1149.8L1664.1,1149.8L1664.1,1149.6L1668.5,1149.6L1668.5,1148.7L1672.9,1148.7L1672.9,1150.5L1677.3,1150.5L1677.3,1150.1L1681.7,1150.1L1681.7,1154.0Z" fill="#404040" fill-opacity="0.65" stroke="none"/>
<path d="M313.3,1154.0L313.3,1153.4L317.7,1153.4L317.7,1153.2L322.1,1153.2L322.1,1153.0L326.5,1153.0L326.5,1147.5L330.9,1147.5L330.9,1105.3L335.3,1105.3L335.3,1045.0L339.7,1045.0L339.7,794.0L344.1,794.0L344.1,794.0L348.5,794.0L348.5,359.5L352.9,359.5L352.9,330.0L357.3,330.0L357.3,330.0L361.7,330.0L361.7,241.0L366.1,241.0L366.1,241.0L370.5,241.0L370.5,461.0L374.9,461.0L374.9,806.0L379.3,806.0L379.3,943.0L383.7,943.0L383.7,943.0L388.1,943.0L388.1,943.0L392.5,943.0L392.5,1010.0L396.9,1010.0L396.9,934.0L401.3,934.0L401.3,950.0L405.7,950.0L405.7,950.0L410.1,950.0L410.1,1011.0L414.5,1011.0L414.5,985.0L418.9,985.0L418.9,985.0L423.3,985.0L423.3,1029.0L427.7,1029.0L427.7,1029.0L432.1,1029.0L432.1,1075.0L436.5,1075.0L436.5,1070.0L440.9,1070.0L440.9,1077.6L445.3,1077.6L445.3,1096.1L449.7,1096.1L449.7,1097.2L454.1,1097.2L454.1,1089.8L458.5,1089.8L458.5,1061.9L462.9,1061.9L462.9,1057.7L467.3,1057.7L467.3,1047.5L471.7,1047.5L471.7,1022.8L476.1,1022.8L476.1,995.7L480.5,995.7L480.5,968.6L484.9,968.6L484.9,968.6L489.3,968.6L489.3,962.0L493.7,962.0L493.7,962.0L498.1,962.0L498.1,927.0L502.5,927.0L502.5,927.0L506.9,927.0L506.9,959.0L511.3,959.0L511.3,975.0L515.7,975.0L515.7,1022.7L520.1,1022.7L520.1,1022.7L524.5,1022.7L524.5,1013.0L528.9,1013.0L528.9,1013.0L533.3,1013.0L533.3,1048.2L537.7,1048.2L537.7,1076.0L542.1,1076.0L542.1,1088.9L546.5,1088.9L546.5,1096.9L550.9,1096.9L550.9,1104.8L555.3,1104.8L555.3,1111.2L559.7,1111.2L559.7,1115.2L564.1,1115.2L564.1,1118.0L568.5,1118.0L568.5,1120.8L572.9,1120.8L572.9,1123.9L577.3,1123.9L577.3,1126.0L581.7,1126.0L581.7,1128.8L586.1,1128.8L586.1,1130.5L590.5,1130.5L590.5,1131.4L594.9,1131.4L594.9,1133.7L599.3,1133.7L599.3,1132.4L603.7,1132.4L603.7,1136.2L608.1,1136.2L608.1,1137.2L612.5,1137.2L612.5,1134.5L616.9,1134.5L616.9,1140.1L621.3,1140.1L621.3,1136.4L625.7,1136.4L625.7,1141.0L630.1,1141.0L630.1,1140.5L634.5,1140.5L634.5,1140.0L638.9,1140.0L638.9,1139.0L643.3,1139.0L643.3,1141.7L647.7,1141.7L647.7,1140.2L652.1,1140.2L652.1,1140.5L656.5,1140.5L656.5,1141.8L660.9,1141.8L660.9,1140.9L665.3,1140.9L665.3,1142.1L669.7,1142.1L669.7,1142.3L674.1,1142.3L674.1,1142.8L678.5,1142.8L678.5,1144.8L682.9,1144.8L682.9,1141.8L687.3,1141.8L687.3,1143.0L691.7,1143.0L691.7,1144.0L696.1,1144.0L696.1,1144.5L700.5,1144.5L700.5,1143.5L704.9,1143.5L704.9,1143.8L709.3,1143.8L709.3,1143.5L713.7,1143.5L713.7,1142.7L718.1,1142.7L718.1,1145.9L722.5,1145.9L722.5,1144.2L726.9,1144.2L726.9,1146.1L731.3,1146.1L731.3,1145.8L735.7,1145.8L735.7,1143.1L740.1,1143.1L740.1,1146.4L744.5,1146.4L744.5,1144.6L748.9,1144.6L748.9,1146.0L753.3,1146.0L753.3,1143.4L757.7,1143.4L757.7,1145.3L762.1,1145.3L762.1,1145.2L766.5,1145.2L766.5,1146.3L770.9,1146.3L770.9,1145.6L775.3,1145.6L775.3,1144.8L779.7,1144.8L779.7,1145.6L784.1,1145.6L784.1,1145.3L788.5,1145.3L788.5,1144.3L792.9,1144.3L792.9,1146.5L797.3,1146.5L797.3,1145.1L801.7,1145.1L801.7,1146.7L806.1,1146.7L806.1,1145.2L810.5,1145.2L810.5,1147.5L814.9,1147.5L814.9,1146.9L819.3,1146.9L819.3,1146.8L823.7,1146.8L823.7,1147.2L828.1,1147.2L828.1,1145.5L832.5,1145.5L832.5,1147.2L836.9,1147.2L836.9,1146.8L841.3,1146.8L841.3,1146.5L845.7,1146.5L845.7,1146.0L850.1,1146.0L850.1,1147.5L854.5,1147.5L854.5,1145.0L858.9,1145.0L858.9,1144.8L863.3,1144.8L863.3,1146.5L867.7,1146.5L867.7,1146.4L872.1,1146.4L872.1,1146.1L876.5,1146.1L876.5,1147.0L880.9,1147.0L880.9,1146.1L885.3,1146.1L885.3,1145.8L889.7,1145.8L889.7,1148.2L894.1,1148.2L894.1,1148.2L898.5,1148.2L898.5,1147.3L902.9,1147.3L902.9,1146.6L907.3,1146.6L907.3,1148.4L911.7,1148.4L911.7,1147.9L916.1,1147.9L916.1,1148.1L920.5,1148.1L920.5,1147.4L924.9,1147.4L924.9,1148.2L929.3,1148.2L929.3,1148.1L933.7,1148.1L933.7,1147.9L938.1,1147.9L938.1,1148.6L942.5,1148.6L942.5,1147.4L946.9,1147.4L946.9,1149.8L951.3,1149.8L951.3,1147.1L955.7,1147.1L955.7,1147.3L960.1,1147.3L960.1,1147.0L964.5,1147.0L964.5,1152.7L968.9,1152.7L968.9,1144.0L973.3,1144.0L973.3,1147.4L977.7,1147.4L977.7,1145.1L982.1,1145.1L982.1,1147.8L986.5,1147.8L986.5,1149.1L990.9,1149.1L990.9,1147.9L995.3,1147.9L995.3,1150.1L999.7,1150.1L999.7,1148.2L1004.1,1148.2L1004.1,1148.7L1008.5,1148.7L1008.5,1147.3L1012.9,1147.3L1012.9,1148.1L1017.3,1148.1L1017.3,1148.2L1021.7,1148.2L1021.7,1148.3L1026.1,1148.3L1026.1,1150.3L1030.5,1150.3L1030.5,1152.0L1034.9,1152.0L1034.9,1148.9L1039.3,1148.9L1039.3,1148.0L1043.7,1148.0L1043.7,1148.7L1048.1,1148.7L1048.1,1147.5L1052.5,1147.5L1052.5,1148.5L1056.9,1148.5L1056.9,1148.2L1061.3,1148.2L1061.3,1149.1L1065.7,1149.1L1065.7,1148.3L1070.1,1148.3L1070.1,1149.9L1074.5,1149.9L1074.5,1149.5L1078.9,1149.5L1078.9,1149.1L1083.3,1149.1L1083.3,1150.8L1087.7,1150.8L1087.7,1145.0L1092.1,1145.0L1092.1,1149.0L1096.5,1149.0L1096.5,1148.1L1100.9,1148.1L1100.9,1148.8L1105.3,1148.8L1105.3,1147.3L1109.7,1147.3L1109.7,1148.6L1114.1,1148.6L1114.1,1147.3L1118.5,1147.3L1118.5,1150.1L1122.9,1150.1L1122.9,1148.5L1127.3,1148.5L1127.3,1147.6L1131.7,1147.6L1131.7,1148.3L1136.1,1148.3L1136.1,1149.1L1140.5,1149.1L1140.5,1148.9L1144.9,1148.9L1144.9,1146.2L1149.3,1146.2L1149.3,1149.5L1153.7,1149.5L1153.7,1149.8L1158.1,1149.8L1158.1,1147.2L1162.5,1147.2L1162.5,1148.8L1166.9,1148.8L1166.9,1149.6L1171.3,1149.6L1171.3,1148.3L1175.7,1148.3L1175.7,1148.4L1180.1,1148.4L1180.1,1147.1L1184.5,1147.1L1184.5,1149.4L1188.9,1149.4L1188.9,1150.0L1193.3,1150.0L1193.3,1148.7L1197.7,1148.7L1197.7,1148.3L1202.1,1148.3L1202.1,1151.0L1206.5,1151.0L1206.5,1146.6L1210.9,1146.6L1210.9,1148.0L1215.3,1148.0L1215.3,1149.7L1219.7,1149.7L1219.7,1149.0L1224.1,1149.0L1224.1,1148.5L1228.5,1148.5L1228.5,1148.9L1232.9,1148.9L1232.9,1148.0L1237.3,1148.0L1237.3,1149.7L1241.7,1149.7L1241.7,1147.8L1246.1,1147.8L1246.1,1148.2L1250.5,1148.2L1250.5,1148.1L1254.9,1148.1L1254.9,1147.4L1259.3,1147.4L1259.3,1149.4L1263.7,1149.4L1263.7,1147.1L1268.1,1147.1L1268.1,1149.9L1272.5,1149.9L1272.5,1148.9L1276.9,1148.9L1276.9,1147.3L1281.3,1147.3L1281.3,1149.4L1285.7,1149.4L1285.7,1149.4L1290.1,1149.4L1290.1,1148.3L1294.5,1148.3L1294.5,1150.0L1298.9,1150.0L1298.9,1148.8L1303.3,1148.8L1303.3,1147.6L1307.7,1147.6L1307.7,1149.6L1312.1,1149.6L1312.1,1147.7L1316.5,1147.7L1316.5,1149.9L1320.9,1149.9L1320.9,1148.3L1325.3,1148.3L1325.3,1148.5L1329.7,1148.5L1329.7,1150.7L1334.1,1150.7L1334.1,1147.8L1338.5,1147.8L1338.5,1149.0L1342.9,1149.0L1342.9,1150.5L1347.3,1150.5L1347.3,1147.8L1351.7,1147.8L1351.7,1150.3L1356.1,1150.3L1356.1,1148.5L1360.5,1148.5L1360.5,1150.1L1364.9,1150.1L1364.9,1147.8L1369.3,1147.8L1369.3,1147.6L1373.7,1147.6L1373.7,1149.4L1378.1,1149.4L1378.1,1147.0L1382.5,1147.0L1382.5,1151.7L1386.9,1151.7L1386.9,1149.7L1391.3,1149.7L1391.3,1150.0L1395.7,1150.0L1395.7,1149.1L1400.1,1149.1L1400.1,1151.4L1404.5,1151.4L1404.5,1149.1L1408.9,1149.1L1408.9,1149.4L1413.3,1149.4L1413.3,1150.0L1417.7,1150.0L1417.7,1150.5L1422.1,1150.5L1422.1,1149.2L1426.5,1149.2L1426.5,1151.2L1430.9,1151.2L1430.9,1148.4L1435.3,1148.4L1435.3,1149.9L1439.7,1149.9L1439.7,1148.9L1444.1,1148.9L1444.1,1149.5L1448.5,1149.5L1448.5,1150.3L1452.9,1150.3L1452.9,1150.9L1457.3,1150.9L1457.3,1148.9L1461.7,1148.9L1461.7,1149.5L1466.1,1149.5L1466.1,1150.7L1470.5,1150.7L1470.5,1149.2L1474.9,1149.2L1474.9,1150.7L1479.3,1150.7L1479.3,1146.5L1483.7,1146.5L1483.7,1148.5L1488.1,1148.5L1488.1,1150.2L1492.5,1150.2L1492.5,1149.3L1496.9,1149.3L1496.9,1148.3L1501.3,1148.3L1501.3,1148.7L1505.7,1148.7L1505.7,1151.3L1510.1,1151.3L1510.1,1149.7L1514.5,1149.7L1514.5,1150.5L1518.9,1150.5L1518.9,1152.9L1523.3,1152.9L1523.3,1150.2L1527.7,1150.2L1527.7,1149.9L1532.1,1149.9L1532.1,1149.1L1536.5,1149.1L1536.5,1148.9L1540.9,1148.9L1540.9,1151.3L1545.3,1151.3L1545.3,1150.2L1549.7,1150.2L1549.7,1150.9L1554.1,1150.9L1554.1,1148.7L1558.5,1148.7L1558.5,1146.7L1562.9,1146.7L1562.9,1150.1L1567.3,1150.1L1567.3,1150.2L1571.7,1150.2L1571.7,1150.4L1576.1,1150.4L1576.1,1148.3L1580.5,1148.3L1580.5,1149.9L1584.9,1149.9L1584.9,1151.1L1589.3,1151.1L1589.3,1147.3L1593.7,1147.3L1593.7,1148.3L1598.1,1148.3L1598.1,1150.7L1602.5,1150.7L1602.5,1152.4L1606.9,1152.4L1606.9,1149.7L1611.3,1149.7L1611.3,1150.7L1615.7,1150.7L1615.7,1150.1L1620.1,1150.1L1620.1,1149.2L1624.5,1149.2L1624.5,1149.5L1628.9,1149.5L1628.9,1148.6L1633.3,1148.6L1633.3,1151.1L1637.7,1151.1L1637.7,1149.6L1642.1,1149.6L1642.1,1150.4L1646.5,1150.4L1646.5,1149.4L1650.9,1149.4L1650.9,1150.5L1655.3,1150.5L1655.3,1148.0L1659.7,1148.0L1659.7,1149.8L1664.1,1149.8L1664.1,1149.6L1668.5,1149.6L1668.5,1148.7L1672.9,1148.7L1672.9,1150.5L1677.3,1150.5L1677.3,1150.1L1681.7,1150.1L1681.7,1154.0" fill="none" stroke="#404042" stroke-width="5.6" stroke-linejoin="miter"/>
<rect x="344.4" y="360" width="8.4" height="140" fill="#404042"/>
<path d="M313.3,1154.0L313.3,1153.3L317.7,1153.3L317.7,1152.9L322.1,1152.9L322.1,1152.5L326.5,1152.5L326.5,1152.1L330.9,1152.1L330.9,1151.3L335.3,1151.3L335.3,1150.2L339.7,1150.2L339.7,1148.9L344.1,1148.9L344.1,1147.2L348.5,1147.2L348.5,1145.5L352.9,1145.5L352.9,1143.8L357.3,1143.8L357.3,1142.1L361.7,1142.1L361.7,1140.4L366.1,1140.4L366.1,1139.5L370.5,1139.5L370.5,1138.8L374.9,1138.8L374.9,1138.2L379.3,1138.2L379.3,1137.5L383.7,1137.5L383.7,1136.6L388.1,1136.6L388.1,1134.8L392.5,1134.8L392.5,1133.0L396.9,1133.0L396.9,1131.2L401.3,1131.2L401.3,1135.0L405.7,1135.0L405.7,1128.9L410.1,1128.9L410.1,1129.0L414.5,1129.0L414.5,1125.4L418.9,1125.4L418.9,1119.2L423.3,1119.2L423.3,1119.2L427.7,1119.2L427.7,1112.7L432.1,1112.7L432.1,1112.5L436.5,1112.5L436.5,1106.7L440.9,1106.7L440.9,1116.4L445.3,1116.4L445.3,1114.1L449.7,1114.1L449.7,1089.9L454.1,1089.9L454.1,1086.3L458.5,1086.3L458.5,1071.9L462.9,1071.9L462.9,1086.5L467.3,1086.5L467.3,1060.7L471.7,1060.7L471.7,1085.0L476.1,1085.0L476.1,1063.1L480.5,1063.1L480.5,1076.6L484.9,1076.6L484.9,1043.0L489.3,1043.0L489.3,1060.4L493.7,1060.4L493.7,1066.5L498.1,1066.5L498.1,1062.0L502.5,1062.0L502.5,1031.0L506.9,1031.0L506.9,1058.2L511.3,1058.2L511.3,1047.3L515.7,1047.3L515.7,1051.6L520.1,1051.6L520.1,1057.2L524.5,1057.2L524.5,1044.1L528.9,1044.1L528.9,1041.3L533.3,1041.3L533.3,995.4L537.7,995.4L537.7,1048.5L542.1,1048.5L542.1,1053.3L546.5,1053.3L546.5,1032.9L550.9,1032.9L550.9,1045.8L555.3,1045.8L555.3,1080.9L559.7,1080.9L559.7,1068.9L564.1,1068.9L564.1,1053.3L568.5,1053.3L568.5,1033.7L572.9,1033.7L572.9,1046.5L577.3,1046.5L577.3,1049.0L581.7,1049.0L581.7,1022.9L586.1,1022.9L586.1,1055.8L590.5,1055.8L590.5,1049.1L594.9,1049.1L594.9,1017.3L599.3,1017.3L599.3,994.0L603.7,994.0L603.7,1034.6L608.1,1034.6L608.1,1012.2L612.5,1012.2L612.5,1038.8L616.9,1038.8L616.9,1053.0L621.3,1053.0L621.3,1043.9L625.7,1043.9L625.7,1017.8L630.1,1017.8L630.1,1013.3L634.5,1013.3L634.5,1033.3L638.9,1033.3L638.9,1008.3L643.3,1008.3L643.3,1016.0L647.7,1016.0L647.7,999.7L652.1,999.7L652.1,1067.7L656.5,1067.7L656.5,1014.3L660.9,1014.3L660.9,1013.2L665.3,1013.2L665.3,1038.9L669.7,1038.9L669.7,1033.6L674.1,1033.6L674.1,1002.0L678.5,1002.0L678.5,1044.4L682.9,1044.4L682.9,1025.6L687.3,1025.6L687.3,1042.4L691.7,1042.4L691.7,1062.1L696.1,1062.1L696.1,1026.8L700.5,1026.8L700.5,1051.1L704.9,1051.1L704.9,1027.9L709.3,1027.9L709.3,1074.1L713.7,1074.1L713.7,1075.6L718.1,1075.6L718.1,1056.6L722.5,1056.6L722.5,1041.0L726.9,1041.0L726.9,1057.5L731.3,1057.5L731.3,1033.7L735.7,1033.7L735.7,1053.8L740.1,1053.8L740.1,1022.6L744.5,1022.6L744.5,1102.9L748.9,1102.9L748.9,1082.2L753.3,1082.2L753.3,1083.2L757.7,1083.2L757.7,1066.5L762.1,1066.5L762.1,1088.8L766.5,1088.8L766.5,1068.8L770.9,1068.8L770.9,1073.2L775.3,1073.2L775.3,1075.1L779.7,1075.1L779.7,1064.8L784.1,1064.8L784.1,1063.6L788.5,1063.6L788.5,1101.2L792.9,1101.2L792.9,1096.0L797.3,1096.0L797.3,1109.2L801.7,1109.2L801.7,1079.3L806.1,1079.3L806.1,1096.9L810.5,1096.9L810.5,1079.7L814.9,1079.7L814.9,1069.9L819.3,1069.9L819.3,1088.1L823.7,1088.1L823.7,1102.5L828.1,1102.5L828.1,1101.1L832.5,1101.1L832.5,1118.3L836.9,1118.3L836.9,1102.4L841.3,1102.4L841.3,1119.2L845.7,1119.2L845.7,1081.3L850.1,1081.3L850.1,1100.2L854.5,1100.2L854.5,1102.2L858.9,1102.2L858.9,1102.5L863.3,1102.5L863.3,1106.9L867.7,1106.9L867.7,1096.1L872.1,1096.1L872.1,1109.9L876.5,1109.9L876.5,1109.9L880.9,1109.9L880.9,1114.0L885.3,1114.0L885.3,1105.3L889.7,1105.3L889.7,1130.4L894.1,1130.4L894.1,1103.0L898.5,1103.0L898.5,1094.2L902.9,1094.2L902.9,1124.4L907.3,1124.4L907.3,1120.1L911.7,1120.1L911.7,1127.7L916.1,1127.7L916.1,1115.3L920.5,1115.3L920.5,1110.9L924.9,1110.9L924.9,1104.3L929.3,1104.3L929.3,1112.4L933.7,1112.4L933.7,1114.5L938.1,1114.5L938.1,1135.4L942.5,1135.4L942.5,1129.6L946.9,1129.6L946.9,1118.8L951.3,1118.8L951.3,1139.1L955.7,1139.1L955.7,1112.7L960.1,1112.7L960.1,1109.4L964.5,1109.4L964.5,1127.5L968.9,1127.5L968.9,1129.6L973.3,1129.6L973.3,1120.2L977.7,1120.2L977.7,1112.5L982.1,1112.5L982.1,1122.5L986.5,1122.5L986.5,1121.9L990.9,1121.9L990.9,1125.4L995.3,1125.4L995.3,1133.4L999.7,1133.4L999.7,1117.4L1004.1,1117.4L1004.1,1104.3L1008.5,1104.3L1008.5,1119.3L1012.9,1119.3L1012.9,1123.5L1017.3,1123.5L1017.3,1115.9L1021.7,1115.9L1021.7,1120.1L1026.1,1120.1L1026.1,1111.2L1030.5,1111.2L1030.5,1122.5L1034.9,1122.5L1034.9,1139.0L1039.3,1139.0L1039.3,1130.6L1043.7,1130.6L1043.7,1128.4L1048.1,1128.4L1048.1,1137.6L1052.5,1137.6L1052.5,1113.7L1056.9,1113.7L1056.9,1120.5L1061.3,1120.5L1061.3,1123.2L1065.7,1123.2L1065.7,1129.0L1070.1,1129.0L1070.1,1129.5L1074.5,1129.5L1074.5,1121.5L1078.9,1121.5L1078.9,1140.6L1083.3,1140.6L1083.3,1130.1L1087.7,1130.1L1087.7,1115.1L1092.1,1115.1L1092.1,1117.9L1096.5,1117.9L1096.5,1118.6L1100.9,1118.6L1100.9,1125.9L1105.3,1125.9L1105.3,1125.9L1109.7,1125.9L1109.7,1121.2L1114.1,1121.2L1114.1,1127.6L1118.5,1127.6L1118.5,1134.6L1122.9,1134.6L1122.9,1124.0L1127.3,1124.0L1127.3,1114.5L1131.7,1114.5L1131.7,1127.0L1136.1,1127.0L1136.1,1120.6L1140.5,1120.6L1140.5,1138.7L1144.9,1138.7L1144.9,1124.7L1149.3,1124.7L1149.3,1124.9L1153.7,1124.9L1153.7,1098.2L1158.1,1098.2L1158.1,1134.4L1162.5,1134.4L1162.5,1117.0L1166.9,1117.0L1166.9,1127.6L1171.3,1127.6L1171.3,1137.2L1175.7,1137.2L1175.7,1125.2L1180.1,1125.2L1180.1,1138.1L1184.5,1138.1L1184.5,1141.8L1188.9,1141.8L1188.9,1133.9L1193.3,1133.9L1193.3,1117.6L1197.7,1117.6L1197.7,1128.6L1202.1,1128.6L1202.1,1132.4L1206.5,1132.4L1206.5,1121.8L1210.9,1121.8L1210.9,1138.1L1215.3,1138.1L1215.3,1135.7L1219.7,1135.7L1219.7,1142.2L1224.1,1142.2L1224.1,1133.7L1228.5,1133.7L1228.5,1124.3L1232.9,1124.3L1232.9,1136.9L1237.3,1136.9L1237.3,1131.0L1241.7,1131.0L1241.7,1124.3L1246.1,1124.3L1246.1,1125.6L1250.5,1125.6L1250.5,1130.2L1254.9,1130.2L1254.9,1129.7L1259.3,1129.7L1259.3,1135.4L1263.7,1135.4L1263.7,1134.4L1268.1,1134.4L1268.1,1133.4L1272.5,1133.4L1272.5,1133.4L1276.9,1133.4L1276.9,1138.3L1281.3,1138.3L1281.3,1139.7L1285.7,1139.7L1285.7,1138.1L1290.1,1138.1L1290.1,1137.6L1294.5,1137.6L1294.5,1131.8L1298.9,1131.8L1298.9,1139.9L1303.3,1139.9L1303.3,1137.8L1307.7,1137.8L1307.7,1136.7L1312.1,1136.7L1312.1,1134.8L1316.5,1134.8L1316.5,1134.8L1320.9,1134.8L1320.9,1132.2L1325.3,1132.2L1325.3,1124.1L1329.7,1124.1L1329.7,1133.8L1334.1,1133.8L1334.1,1139.7L1338.5,1139.7L1338.5,1133.0L1342.9,1133.0L1342.9,1137.4L1347.3,1137.4L1347.3,1129.3L1351.7,1129.3L1351.7,1136.4L1356.1,1136.4L1356.1,1129.1L1360.5,1129.1L1360.5,1126.0L1364.9,1126.0L1364.9,1138.1L1369.3,1138.1L1369.3,1132.0L1373.7,1132.0L1373.7,1132.4L1378.1,1132.4L1378.1,1136.3L1382.5,1136.3L1382.5,1138.1L1386.9,1138.1L1386.9,1139.2L1391.3,1139.2L1391.3,1140.5L1395.7,1140.5L1395.7,1135.4L1400.1,1135.4L1400.1,1134.4L1404.5,1134.4L1404.5,1138.0L1408.9,1138.0L1408.9,1137.7L1413.3,1137.7L1413.3,1142.6L1417.7,1142.6L1417.7,1147.7L1422.1,1147.7L1422.1,1144.5L1426.5,1144.5L1426.5,1141.8L1430.9,1141.8L1430.9,1143.8L1435.3,1143.8L1435.3,1136.9L1439.7,1136.9L1439.7,1145.6L1444.1,1145.6L1444.1,1141.1L1448.5,1141.1L1448.5,1143.3L1452.9,1143.3L1452.9,1135.1L1457.3,1135.1L1457.3,1144.0L1461.7,1144.0L1461.7,1137.4L1466.1,1137.4L1466.1,1135.2L1470.5,1135.2L1470.5,1143.6L1474.9,1143.6L1474.9,1143.6L1479.3,1143.6L1479.3,1139.0L1483.7,1139.0L1483.7,1137.6L1488.1,1137.6L1488.1,1136.2L1492.5,1136.2L1492.5,1141.7L1496.9,1141.7L1496.9,1144.7L1501.3,1144.7L1501.3,1148.3L1505.7,1148.3L1505.7,1151.8L1510.1,1151.8L1510.1,1138.7L1514.5,1138.7L1514.5,1146.3L1518.9,1146.3L1518.9,1145.0L1523.3,1145.0L1523.3,1153.5L1527.7,1153.5L1527.7,1147.9L1532.1,1147.9L1532.1,1130.7L1536.5,1130.7L1536.5,1139.8L1540.9,1139.8L1540.9,1131.6L1545.3,1131.6L1545.3,1127.1L1549.7,1127.1L1549.7,1126.0L1554.1,1126.0L1554.1,1138.2L1558.5,1138.2L1558.5,1131.9L1562.9,1131.9L1562.9,1129.3L1567.3,1129.3L1567.3,1130.2L1571.7,1130.2L1571.7,1143.4L1576.1,1143.4L1576.1,1132.0L1580.5,1132.0L1580.5,1137.2L1584.9,1137.2L1584.9,1136.8L1589.3,1136.8L1589.3,1134.8L1593.7,1134.8L1593.7,1132.5L1598.1,1132.5L1598.1,1131.6L1602.5,1131.6L1602.5,1137.8L1606.9,1137.8L1606.9,1147.8L1611.3,1147.8L1611.3,1129.8L1615.7,1129.8L1615.7,1129.6L1620.1,1129.6L1620.1,1140.6L1624.5,1140.6L1624.5,1150.2L1628.9,1150.2L1628.9,1138.0L1633.3,1138.0L1633.3,1147.1L1637.7,1147.1L1637.7,1141.8L1642.1,1141.8L1642.1,1144.2L1646.5,1144.2L1646.5,1138.3L1650.9,1138.3L1650.9,1150.1L1655.3,1150.1L1655.3,1137.9L1659.7,1137.9L1659.7,1144.5L1664.1,1144.5L1664.1,1143.4L1668.5,1143.4L1668.5,1145.3L1672.9,1145.3L1672.9,1138.0L1677.3,1138.0L1677.3,1139.6L1681.7,1139.6L1681.7,1154.0Z" fill="#0064B7" fill-opacity="0.65" stroke="none"/>
<path d="M313.3,1154.0L313.3,1153.3L317.7,1153.3L317.7,1152.9L322.1,1152.9L322.1,1152.5L326.5,1152.5L326.5,1152.1L330.9,1152.1L330.9,1151.3L335.3,1151.3L335.3,1150.2L339.7,1150.2L339.7,1148.9L344.1,1148.9L344.1,1147.2L348.5,1147.2L348.5,1145.5L352.9,1145.5L352.9,1143.8L357.3,1143.8L357.3,1142.1L361.7,1142.1L361.7,1140.4L366.1,1140.4L366.1,1139.5L370.5,1139.5L370.5,1138.8L374.9,1138.8L374.9,1138.2L379.3,1138.2L379.3,1137.5L383.7,1137.5L383.7,1136.6L388.1,1136.6L388.1,1134.8L392.5,1134.8L392.5,1133.0L396.9,1133.0L396.9,1131.2L401.3,1131.2L401.3,1135.0L405.7,1135.0L405.7,1128.9L410.1,1128.9L410.1,1129.0L414.5,1129.0L414.5,1125.4L418.9,1125.4L418.9,1119.2L423.3,1119.2L423.3,1119.2L427.7,1119.2L427.7,1112.7L432.1,1112.7L432.1,1112.5L436.5,1112.5L436.5,1106.7L440.9,1106.7L440.9,1116.4L445.3,1116.4L445.3,1114.1L449.7,1114.1L449.7,1089.9L454.1,1089.9L454.1,1086.3L458.5,1086.3L458.5,1071.9L462.9,1071.9L462.9,1086.5L467.3,1086.5L467.3,1060.7L471.7,1060.7L471.7,1085.0L476.1,1085.0L476.1,1063.1L480.5,1063.1L480.5,1076.6L484.9,1076.6L484.9,1043.0L489.3,1043.0L489.3,1060.4L493.7,1060.4L493.7,1066.5L498.1,1066.5L498.1,1062.0L502.5,1062.0L502.5,1031.0L506.9,1031.0L506.9,1058.2L511.3,1058.2L511.3,1047.3L515.7,1047.3L515.7,1051.6L520.1,1051.6L520.1,1057.2L524.5,1057.2L524.5,1044.1L528.9,1044.1L528.9,1041.3L533.3,1041.3L533.3,995.4L537.7,995.4L537.7,1048.5L542.1,1048.5L542.1,1053.3L546.5,1053.3L546.5,1032.9L550.9,1032.9L550.9,1045.8L555.3,1045.8L555.3,1080.9L559.7,1080.9L559.7,1068.9L564.1,1068.9L564.1,1053.3L568.5,1053.3L568.5,1033.7L572.9,1033.7L572.9,1046.5L577.3,1046.5L577.3,1049.0L581.7,1049.0L581.7,1022.9L586.1,1022.9L586.1,1055.8L590.5,1055.8L590.5,1049.1L594.9,1049.1L594.9,1017.3L599.3,1017.3L599.3,994.0L603.7,994.0L603.7,1034.6L608.1,1034.6L608.1,1012.2L612.5,1012.2L612.5,1038.8L616.9,1038.8L616.9,1053.0L621.3,1053.0L621.3,1043.9L625.7,1043.9L625.7,1017.8L630.1,1017.8L630.1,1013.3L634.5,1013.3L634.5,1033.3L638.9,1033.3L638.9,1008.3L643.3,1008.3L643.3,1016.0L647.7,1016.0L647.7,999.7L652.1,999.7L652.1,1067.7L656.5,1067.7L656.5,1014.3L660.9,1014.3L660.9,1013.2L665.3,1013.2L665.3,1038.9L669.7,1038.9L669.7,1033.6L674.1,1033.6L674.1,1002.0L678.5,1002.0L678.5,1044.4L682.9,1044.4L682.9,1025.6L687.3,1025.6L687.3,1042.4L691.7,1042.4L691.7,1062.1L696.1,1062.1L696.1,1026.8L700.5,1026.8L700.5,1051.1L704.9,1051.1L704.9,1027.9L709.3,1027.9L709.3,1074.1L713.7,1074.1L713.7,1075.6L718.1,1075.6L718.1,1056.6L722.5,1056.6L722.5,1041.0L726.9,1041.0L726.9,1057.5L731.3,1057.5L731.3,1033.7L735.7,1033.7L735.7,1053.8L740.1,1053.8L740.1,1022.6L744.5,1022.6L744.5,1102.9L748.9,1102.9L748.9,1082.2L753.3,1082.2L753.3,1083.2L757.7,1083.2L757.7,1066.5L762.1,1066.5L762.1,1088.8L766.5,1088.8L766.5,1068.8L770.9,1068.8L770.9,1073.2L775.3,1073.2L775.3,1075.1L779.7,1075.1L779.7,1064.8L784.1,1064.8L784.1,1063.6L788.5,1063.6L788.5,1101.2L792.9,1101.2L792.9,1096.0L797.3,1096.0L797.3,1109.2L801.7,1109.2L801.7,1079.3L806.1,1079.3L806.1,1096.9L810.5,1096.9L810.5,1079.7L814.9,1079.7L814.9,1069.9L819.3,1069.9L819.3,1088.1L823.7,1088.1L823.7,1102.5L828.1,1102.5L828.1,1101.1L832.5,1101.1L832.5,1118.3L836.9,1118.3L836.9,1102.4L841.3,1102.4L841.3,1119.2L845.7,1119.2L845.7,1081.3L850.1,1081.3L850.1,1100.2L854.5,1100.2L854.5,1102.2L858.9,1102.2L858.9,1102.5L863.3,1102.5L863.3,1106.9L867.7,1106.9L867.7,1096.1L872.1,1096.1L872.1,1109.9L876.5,1109.9L876.5,1109.9L880.9,1109.9L880.9,1114.0L885.3,1114.0L885.3,1105.3L889.7,1105.3L889.7,1130.4L894.1,1130.4L894.1,1103.0L898.5,1103.0L898.5,1094.2L902.9,1094.2L902.9,1124.4L907.3,1124.4L907.3,1120.1L911.7,1120.1L911.7,1127.7L916.1,1127.7L916.1,1115.3L920.5,1115.3L920.5,1110.9L924.9,1110.9L924.9,1104.3L929.3,1104.3L929.3,1112.4L933.7,1112.4L933.7,1114.5L938.1,1114.5L938.1,1135.4L942.5,1135.4L942.5,1129.6L946.9,1129.6L946.9,1118.8L951.3,1118.8L951.3,1139.1L955.7,1139.1L955.7,1112.7L960.1,1112.7L960.1,1109.4L964.5,1109.4L964.5,1127.5L968.9,1127.5L968.9,1129.6L973.3,1129.6L973.3,1120.2L977.7,1120.2L977.7,1112.5L982.1,1112.5L982.1,1122.5L986.5,1122.5L986.5,1121.9L990.9,1121.9L990.9,1125.4L995.3,1125.4L995.3,1133.4L999.7,1133.4L999.7,1117.4L1004.1,1117.4L1004.1,1104.3L1008.5,1104.3L1008.5,1119.3L1012.9,1119.3L1012.9,1123.5L1017.3,1123.5L1017.3,1115.9L1021.7,1115.9L1021.7,1120.1L1026.1,1120.1L1026.1,1111.2L1030.5,1111.2L1030.5,1122.5L1034.9,1122.5L1034.9,1139.0L1039.3,1139.0L1039.3,1130.6L1043.7,1130.6L1043.7,1128.4L1048.1,1128.4L1048.1,1137.6L1052.5,1137.6L1052.5,1113.7L1056.9,1113.7L1056.9,1120.5L1061.3,1120.5L1061.3,1123.2L1065.7,1123.2L1065.7,1129.0L1070.1,1129.0L1070.1,1129.5L1074.5,1129.5L1074.5,1121.5L1078.9,1121.5L1078.9,1140.6L1083.3,1140.6L1083.3,1130.1L1087.7,1130.1L1087.7,1115.1L1092.1,1115.1L1092.1,1117.9L1096.5,1117.9L1096.5,1118.6L1100.9,1118.6L1100.9,1125.9L1105.3,1125.9L1105.3,1125.9L1109.7,1125.9L1109.7,1121.2L1114.1,1121.2L1114.1,1127.6L1118.5,1127.6L1118.5,1134.6L1122.9,1134.6L1122.9,1124.0L1127.3,1124.0L1127.3,1114.5L1131.7,1114.5L1131.7,1127.0L1136.1,1127.0L1136.1,1120.6L1140.5,1120.6L1140.5,1138.7L1144.9,1138.7L1144.9,1124.7L1149.3,1124.7L1149.3,1124.9L1153.7,1124.9L1153.7,1098.2L1158.1,1098.2L1158.1,1134.4L1162.5,1134.4L1162.5,1117.0L1166.9,1117.0L1166.9,1127.6L1171.3,1127.6L1171.3,1137.2L1175.7,1137.2L1175.7,1125.2L1180.1,1125.2L1180.1,1138.1L1184.5,1138.1L1184.5,1141.8L1188.9,1141.8L1188.9,1133.9L1193.3,1133.9L1193.3,1117.6L1197.7,1117.6L1197.7,1128.6L1202.1,1128.6L1202.1,1132.4L1206.5,1132.4L1206.5,1121.8L1210.9,1121.8L1210.9,1138.1L1215.3,1138.1L1215.3,1135.7L1219.7,1135.7L1219.7,1142.2L1224.1,1142.2L1224.1,1133.7L1228.5,1133.7L1228.5,1124.3L1232.9,1124.3L1232.9,1136.9L1237.3,1136.9L1237.3,1131.0L1241.7,1131.0L1241.7,1124.3L1246.1,1124.3L1246.1,1125.6L1250.5,1125.6L1250.5,1130.2L1254.9,1130.2L1254.9,1129.7L1259.3,1129.7L1259.3,1135.4L1263.7,1135.4L1263.7,1134.4L1268.1,1134.4L1268.1,1133.4L1272.5,1133.4L1272.5,1133.4L1276.9,1133.4L1276.9,1138.3L1281.3,1138.3L1281.3,1139.7L1285.7,1139.7L1285.7,1138.1L1290.1,1138.1L1290.1,1137.6L1294.5,1137.6L1294.5,1131.8L1298.9,1131.8L1298.9,1139.9L1303.3,1139.9L1303.3,1137.8L1307.7,1137.8L1307.7,1136.7L1312.1,1136.7L1312.1,1134.8L1316.5,1134.8L1316.5,1134.8L1320.9,1134.8L1320.9,1132.2L1325.3,1132.2L1325.3,1124.1L1329.7,1124.1L1329.7,1133.8L1334.1,1133.8L1334.1,1139.7L1338.5,1139.7L1338.5,1133.0L1342.9,1133.0L1342.9,1137.4L1347.3,1137.4L1347.3,1129.3L1351.7,1129.3L1351.7,1136.4L1356.1,1136.4L1356.1,1129.1L1360.5,1129.1L1360.5,1126.0L1364.9,1126.0L1364.9,1138.1L1369.3,1138.1L1369.3,1132.0L1373.7,1132.0L1373.7,1132.4L1378.1,1132.4L1378.1,1136.3L1382.5,1136.3L1382.5,1138.1L1386.9,1138.1L1386.9,1139.2L1391.3,1139.2L1391.3,1140.5L1395.7,1140.5L1395.7,1135.4L1400.1,1135.4L1400.1,1134.4L1404.5,1134.4L1404.5,1138.0L1408.9,1138.0L1408.9,1137.7L1413.3,1137.7L1413.3,1142.6L1417.7,1142.6L1417.7,1147.7L1422.1,1147.7L1422.1,1144.5L1426.5,1144.5L1426.5,1141.8L1430.9,1141.8L1430.9,1143.8L1435.3,1143.8L1435.3,1136.9L1439.7,1136.9L1439.7,1145.6L1444.1,1145.6L1444.1,1141.1L1448.5,1141.1L1448.5,1143.3L1452.9,1143.3L1452.9,1135.1L1457.3,1135.1L1457.3,1144.0L1461.7,1144.0L1461.7,1137.4L1466.1,1137.4L1466.1,1135.2L1470.5,1135.2L1470.5,1143.6L1474.9,1143.6L1474.9,1143.6L1479.3,1143.6L1479.3,1139.0L1483.7,1139.0L1483.7,1137.6L1488.1,1137.6L1488.1,1136.2L1492.5,1136.2L1492.5,1141.7L1496.9,1141.7L1496.9,1144.7L1501.3,1144.7L1501.3,1148.3L1505.7,1148.3L1505.7,1151.8L1510.1,1151.8L1510.1,1138.7L1514.5,1138.7L1514.5,1146.3L1518.9,1146.3L1518.9,1145.0L1523.3,1145.0L1523.3,1153.5L1527.7,1153.5L1527.7,1147.9L1532.1,1147.9L1532.1,1130.7L1536.5,1130.7L1536.5,1139.8L1540.9,1139.8L1540.9,1131.6L1545.3,1131.6L1545.3,1127.1L1549.7,1127.1L1549.7,1126.0L1554.1,1126.0L1554.1,1138.2L1558.5,1138.2L1558.5,1131.9L1562.9,1131.9L1562.9,1129.3L1567.3,1129.3L1567.3,1130.2L1571.7,1130.2L1571.7,1143.4L1576.1,1143.4L1576.1,1132.0L1580.5,1132.0L1580.5,1137.2L1584.9,1137.2L1584.9,1136.8L1589.3,1136.8L1589.3,1134.8L1593.7,1134.8L1593.7,1132.5L1598.1,1132.5L1598.1,1131.6L1602.5,1131.6L1602.5,1137.8L1606.9,1137.8L1606.9,1147.8L1611.3,1147.8L1611.3,1129.8L1615.7,1129.8L1615.7,1129.6L1620.1,1129.6L1620.1,1140.6L1624.5,1140.6L1624.5,1150.2L1628.9,1150.2L1628.9,1138.0L1633.3,1138.0L1633.3,1147.1L1637.7,1147.1L1637.7,1141.8L1642.1,1141.8L1642.1,1144.2L1646.5,1144.2L1646.5,1138.3L1650.9,1138.3L1650.9,1150.1L1655.3,1150.1L1655.3,1137.9L1659.7,1137.9L1659.7,1144.5L1664.1,1144.5L1664.1,1143.4L1668.5,1143.4L1668.5,1145.3L1672.9,1145.3L1672.9,1138.0L1677.3,1138.0L1677.3,1139.6L1681.7,1139.6L1681.7,1154.0" fill="none" stroke="#0F5DB5" stroke-width="5.6" stroke-linejoin="miter"/>
</g>
<rect x="313.3" y="86.8" width="1368.7" height="1067.2" fill="none" stroke="#2a2a2a" stroke-width="1.8"/>
<line x1="586.9" y1="86.8" x2="586.9" y2="100.4" stroke="#2a2a2a" stroke-width="1.6" />
<line x1="860.4" y1="86.8" x2="860.4" y2="100.4" stroke="#2a2a2a" stroke-width="1.6" />
<line x1="1134.0" y1="86.8" x2="1134.0" y2="100.4" stroke="#2a2a2a" stroke-width="1.6" />
<line x1="1407.5" y1="86.8" x2="1407.5" y2="100.4" stroke="#2a2a2a" stroke-width="1.6" />
<line x1="313.3" y1="183.3" x2="325.9" y2="183.3" stroke="#2a2a2a" stroke-width="1.6" />
<line x1="1682.0" y1="183.3" x2="1667.5" y2="183.3" stroke="#2a2a2a" stroke-width="1.6" />
<text transform="translate(15.60,170.00) scale(1.0369,1.0000)" x="-5.77" y="0" fill="#000" stroke="#000" stroke-width="0.9" style='font-family:"Liberation Sans", sans-serif;font-size:93px;font-kerning:none;'>(a)</text>
<text transform="translate(186.00,209.50) scale(1.0205,1.0000)" x="-3.68" y="0" fill="#202020" stroke="#202020" stroke-width="0.9" style='font-family:"Liberation Sans", sans-serif;font-size:92px;font-kerning:none;'>50</text>
<text transform="translate(238.50,1182.00) scale(1.0005,1.0000)" x="-3.59" y="0" fill="#202020" stroke="#202020" stroke-width="0.9" style='font-family:"Liberation Sans", sans-serif;font-size:92px;font-kerning:none;'>0</text>
<text transform="translate(290.83,1257.50) scale(1.0000,1.0000)" x="-3.67" y="0" fill="#202020" stroke="#202020" stroke-width="0.9" style='font-family:"Liberation Sans", sans-serif;font-size:94px;font-kerning:none;'>0</text>
<text transform="translate(525.19,1257.50) scale(1.0000,1.0000)" x="-3.67" y="0" fill="#202020" stroke="#202020" stroke-width="0.9" style='font-family:"Liberation Sans", sans-serif;font-size:94px;font-kerning:none;'>0.1</text>
<text transform="translate(798.74,1257.50) scale(1.0000,1.0000)" x="-3.67" y="0" fill="#202020" stroke="#202020" stroke-width="0.9" style='font-family:"Liberation Sans", sans-serif;font-size:94px;font-kerning:none;'>0.2</text>
<text transform="translate(1072.29,1257.50) scale(1.0000,1.0000)" x="-3.67" y="0" fill="#202020" stroke="#202020" stroke-width="0.9" style='font-family:"Liberation Sans", sans-serif;font-size:94px;font-kerning:none;'>0.3</text>
<text transform="translate(1345.84,1257.50) scale(1.0000,1.0000)" x="-3.67" y="0" fill="#202020" stroke="#202020" stroke-width="0.9" style='font-family:"Liberation Sans", sans-serif;font-size:94px;font-kerning:none;'>0.4</text>
<text transform="translate(150,793) rotate(-90) translate(0.00,0.00) scale(1.0427,1.0000)" x="-8.53" y="0" fill="#202020" stroke="#202020" stroke-width="0.9" style='font-family:"Liberation Sans", sans-serif;font-size:104px;font-kerning:none;'>Density</text>
<line x1="797.5" y1="1301.0" x2="889.0" y2="1301.0" stroke="#1a1a1a" stroke-width="3" />
<text transform="translate(799.00,1360.00) scale(0.8998,1.0000)" x="-0.05" y="0" fill="#1a1a1a" style='font-family:"Liberation Serif", serif;font-size:104px;font-kerning:none;font-style:italic;'>g</text>
<text transform="translate(848.00,1376.50) scale(1.1733,1.0000)" x="-1.97" y="0" fill="#1a1a1a" style='font-family:"Liberation Serif", serif;font-size:66px;font-kerning:none;font-style:italic;'>a</text>
<text transform="translate(932.00,1362.00) scale(0.7787,1.0000)" x="-5.27" y="0" fill="#1a1a1a" style='font-family:"Liberation Serif", serif;font-size:120px;font-kerning:none;'>(</text>
<text transform="translate(965.60,1360.00) scale(1.2436,1.0000)" x="-3.76" y="0" fill="#1a1a1a" style='font-family:"Liberation Serif", serif;font-size:104px;font-kerning:none;font-style:italic;'>m</text>
<text transform="translate(1092.00,1360.00) scale(1.0373,1.0000)" x="-1.27" y="0" fill="#1a1a1a" style='font-family:"Liberation Serif", serif;font-size:104px;font-kerning:none;font-style:italic;'>s</text>
<text transform="translate(1142.00,1327.57) scale(1.2081,1.0000)" x="-3.69" y="0" fill="#1a1a1a" style='font-family:"Liberation Serif", serif;font-size:74px;font-kerning:none;'>−</text>
<text transform="translate(1198.00,1319.70) scale(0.8933,1.0000)" x="-6.06" y="0" fill="#1a1a1a" style='font-family:"Liberation Serif", serif;font-size:69px;font-kerning:none;'>1</text>
<text transform="translate(1235.00,1362.00) scale(0.7787,1.0000)" x="-3.87" y="0" fill="#1a1a1a" style='font-family:"Liberation Serif", serif;font-size:120px;font-kerning:none;'>)</text>
</g>
<g id="panel-b">
<clipPath id="clipB"><rect x="2101.8" y="81.9" width="1347.7999999999997" height="1085.6"/></clipPath>
<g clip-path="url(#clipB)">
<line x1="2222.8" y1="78.1" x2="2222.8" y2="1161.5" stroke="#CD3E14" stroke-width="5.4" stroke-dasharray="12.2 12.8"/>
<line x1="2230.9" y1="78.1" x2="2230.9" y2="1161.5" stroke="#404042" stroke-width="5.4" stroke-dasharray="12.2 12.8"/>
<line x1="2821.6" y1="78.1" x2="2821.6" y2="1161.5" stroke="#0F5DB5" stroke-width="5.4" stroke-dasharray="12.2 12.8"/>
<path d="M2101.8,1161.5L2101.8,1157.1L2106.2,1157.1L2106.2,1155.0L2110.6,1155.0L2110.6,1153.0L2115.0,1153.0L2115.0,1150.0L2119.4,1150.0L2119.4,1145.9L2123.8,1145.9L2123.8,1141.8L2128.2,1141.8L2128.2,1134.2L2132.6,1134.2L2132.6,1123.6L2137.0,1123.6L2137.0,1107.7L2141.4,1107.7L2141.4,1086.3L2145.8,1086.3L2145.8,1062.5L2150.2,1062.5L2150.2,1037.2L2154.6,1037.2L2154.6,1011.1L2159.0,1011.1L2159.0,911.3L2163.4,911.3L2163.4,797.6L2167.8,797.6L2167.8,694.1L2172.2,694.1L2172.2,590.4L2176.6,590.4L2176.6,485.4L2181.0,485.4L2181.0,409.0L2185.4,409.0L2185.4,310.0L2189.8,310.0L2189.8,310.0L2194.2,310.0L2194.2,310.0L2198.6,310.0L2198.6,293.0L2203.0,293.0L2203.0,293.0L2207.4,293.0L2207.4,299.0L2211.8,299.0L2211.8,352.0L2216.2,352.0L2216.2,352.0L2220.6,352.0L2220.6,394.0L2225.0,394.0L2225.0,394.0L2229.4,394.0L2229.4,504.0L2233.8,504.0L2233.8,504.0L2238.2,504.0L2238.2,564.0L2242.6,564.0L2242.6,564.0L2247.0,564.0L2247.0,686.0L2251.4,686.0L2251.4,686.0L2255.8,686.0L2255.8,764.0L2260.2,764.0L2260.2,773.0L2264.6,773.0L2264.6,773.0L2269.0,773.0L2269.0,864.0L2273.4,864.0L2273.4,864.0L2277.8,864.0L2277.8,913.0L2282.2,913.0L2282.2,901.0L2286.6,901.0L2286.6,901.0L2291.0,901.0L2291.0,949.0L2295.4,949.0L2295.4,953.0L2299.8,953.0L2299.8,957.9L2304.2,957.9L2304.2,962.0L2308.6,962.0L2308.6,974.4L2313.0,974.4L2313.0,994.3L2317.4,994.3L2317.4,1008.0L2321.8,1008.0L2321.8,1014.8L2326.2,1014.8L2326.2,1023.1L2330.6,1023.1L2330.6,1046.4L2335.0,1046.4L2335.0,1053.8L2339.4,1053.8L2339.4,1047.8L2343.8,1047.8L2343.8,1057.8L2348.2,1057.8L2348.2,1070.8L2352.6,1070.8L2352.6,1080.1L2357.0,1080.1L2357.0,1087.0L2361.4,1087.0L2361.4,1090.6L2365.8,1090.6L2365.8,1094.2L2370.2,1094.2L2370.2,1097.9L2374.6,1097.9L2374.6,1100.9L2379.0,1100.9L2379.0,1103.0L2383.4,1103.0L2383.4,1105.1L2387.8,1105.1L2387.8,1107.2L2392.2,1107.2L2392.2,1109.3L2396.6,1109.3L2396.6,1111.4L2401.0,1111.4L2401.0,1113.7L2405.4,1113.7L2405.4,1113.8L2409.8,1113.8L2409.8,1115.2L2414.2,1115.2L2414.2,1115.1L2418.6,1115.1L2418.6,1119.4L2423.0,1119.4L2423.0,1119.8L2427.4,1119.8L2427.4,1118.7L2431.8,1118.7L2431.8,1120.9L2436.2,1120.9L2436.2,1121.4L2440.6,1121.4L2440.6,1121.7L2445.0,1121.7L2445.0,1124.5L2449.4,1124.5L2449.4,1126.3L2453.8,1126.3L2453.8,1127.4L2458.2,1127.4L2458.2,1128.0L2462.6,1128.0L2462.6,1129.9L2467.0,1129.9L2467.0,1130.3L2471.4,1130.3L2471.4,1131.9L2475.8,1131.9L2475.8,1132.8L2480.2,1132.8L2480.2,1129.5L2484.6,1129.5L2484.6,1136.8L2489.0,1136.8L2489.0,1135.4L2493.4,1135.4L2493.4,1137.7L2497.8,1137.7L2497.8,1136.9L2502.2,1136.9L2502.2,1134.2L2506.6,1134.2L2506.6,1135.7L2511.0,1135.7L2511.0,1139.3L2515.4,1139.3L2515.4,1137.1L2519.8,1137.1L2519.8,1137.6L2524.2,1137.6L2524.2,1138.3L2528.6,1138.3L2528.6,1139.1L2533.0,1139.1L2533.0,1140.4L2537.4,1140.4L2537.4,1140.7L2541.8,1140.7L2541.8,1139.0L2546.2,1139.0L2546.2,1141.4L2550.6,1141.4L2550.6,1140.3L2555.0,1140.3L2555.0,1141.4L2559.4,1141.4L2559.4,1143.2L2563.8,1143.2L2563.8,1144.3L2568.2,1144.3L2568.2,1140.9L2572.6,1140.9L2572.6,1141.9L2577.0,1141.9L2577.0,1141.1L2581.4,1141.1L2581.4,1145.2L2585.8,1145.2L2585.8,1145.4L2590.2,1145.4L2590.2,1146.9L2594.6,1146.9L2594.6,1144.6L2599.0,1144.6L2599.0,1141.7L2603.4,1141.7L2603.4,1148.0L2607.8,1148.0L2607.8,1144.2L2612.2,1144.2L2612.2,1145.7L2616.6,1145.7L2616.6,1144.8L2621.0,1144.8L2621.0,1144.7L2625.4,1144.7L2625.4,1144.1L2629.8,1144.1L2629.8,1147.5L2634.2,1147.5L2634.2,1144.6L2638.6,1144.6L2638.6,1147.7L2643.0,1147.7L2643.0,1148.7L2647.4,1148.7L2647.4,1149.9L2651.8,1149.9L2651.8,1146.7L2656.2,1146.7L2656.2,1146.6L2660.6,1146.6L2660.6,1146.3L2665.0,1146.3L2665.0,1148.6L2669.4,1148.6L2669.4,1147.1L2673.8,1147.1L2673.8,1150.7L2678.2,1150.7L2678.2,1148.2L2682.6,1148.2L2682.6,1150.1L2687.0,1150.1L2687.0,1152.1L2691.4,1152.1L2691.4,1149.1L2695.8,1149.1L2695.8,1150.0L2700.2,1150.0L2700.2,1148.0L2704.6,1148.0L2704.6,1151.6L2709.0,1151.6L2709.0,1148.4L2713.4,1148.4L2713.4,1150.3L2717.8,1150.3L2717.8,1153.5L2722.2,1153.5L2722.2,1149.7L2726.6,1149.7L2726.6,1150.0L2731.0,1150.0L2731.0,1153.5L2735.4,1153.5L2735.4,1150.4L2739.8,1150.4L2739.8,1149.6L2744.2,1149.6L2744.2,1150.2L2748.6,1150.2L2748.6,1154.0L2753.0,1154.0L2753.0,1149.4L2757.4,1149.4L2757.4,1151.3L2761.8,1151.3L2761.8,1151.6L2766.2,1151.6L2766.2,1154.2L2770.6,1154.2L2770.6,1151.0L2775.0,1151.0L2775.0,1153.8L2779.4,1153.8L2779.4,1151.6L2783.8,1151.6L2783.8,1153.4L2788.2,1153.4L2788.2,1152.9L2792.6,1152.9L2792.6,1150.4L2797.0,1150.4L2797.0,1150.8L2801.4,1150.8L2801.4,1151.8L2805.8,1151.8L2805.8,1152.1L2810.2,1152.1L2810.2,1155.1L2814.6,1155.1L2814.6,1152.8L2819.0,1152.8L2819.0,1150.3L2823.4,1150.3L2823.4,1151.0L2827.8,1151.0L2827.8,1154.1L2832.2,1154.1L2832.2,1155.6L2836.6,1155.6L2836.6,1153.0L2841.0,1153.0L2841.0,1154.5L2845.4,1154.5L2845.4,1155.8L2849.8,1155.8L2849.8,1154.2L2854.2,1154.2L2854.2,1154.8L2858.6,1154.8L2858.6,1154.0L2863.0,1154.0L2863.0,1152.2L2867.4,1152.2L2867.4,1155.5L2871.8,1155.5L2871.8,1152.8L2876.2,1152.8L2876.2,1159.1L2880.6,1159.1L2880.6,1152.3L2885.0,1152.3L2885.0,1154.6L2889.4,1154.6L2889.4,1155.0L2893.8,1155.0L2893.8,1156.9L2898.2,1156.9L2898.2,1156.6L2902.6,1156.6L2902.6,1153.3L2907.0,1153.3L2907.0,1155.8L2911.4,1155.8L2911.4,1153.2L2915.8,1153.2L2915.8,1155.1L2920.2,1155.1L2920.2,1154.1L2924.6,1154.1L2924.6,1156.1L2929.0,1156.1L2929.0,1154.4L2933.4,1154.4L2933.4,1153.5L2937.8,1153.5L2937.8,1155.0L2942.2,1155.0L2942.2,1155.0L2946.6,1155.0L2946.6,1153.1L2951.0,1153.1L2951.0,1154.9L2955.4,1154.9L2955.4,1153.7L2959.8,1153.7L2959.8,1156.1L2964.2,1156.1L2964.2,1154.6L2968.6,1154.6L2968.6,1154.6L2973.0,1154.6L2973.0,1155.1L2977.4,1155.1L2977.4,1157.9L2981.8,1157.9L2981.8,1156.8L2986.2,1156.8L2986.2,1154.9L2990.6,1154.9L2990.6,1156.6L2995.0,1156.6L2995.0,1154.7L2999.4,1154.7L2999.4,1157.3L3003.8,1157.3L3003.8,1156.2L3008.2,1156.2L3008.2,1160.3L3012.6,1160.3L3012.6,1153.4L3017.0,1153.4L3017.0,1155.6L3021.4,1155.6L3021.4,1154.7L3025.8,1154.7L3025.8,1155.7L3030.2,1155.7L3030.2,1155.1L3034.6,1155.1L3034.6,1157.3L3039.0,1157.3L3039.0,1155.0L3043.4,1155.0L3043.4,1157.4L3047.8,1157.4L3047.8,1157.2L3052.2,1157.2L3052.2,1157.3L3056.6,1157.3L3056.6,1155.9L3061.0,1155.9L3061.0,1157.4L3065.4,1157.4L3065.4,1155.0L3069.8,1155.0L3069.8,1159.3L3074.2,1159.3L3074.2,1155.5L3078.6,1155.5L3078.6,1156.4L3083.0,1156.4L3083.0,1154.3L3087.4,1154.3L3087.4,1153.8L3091.8,1153.8L3091.8,1156.4L3096.2,1156.4L3096.2,1155.1L3100.6,1155.1L3100.6,1156.4L3105.0,1156.4L3105.0,1157.2L3109.4,1157.2L3109.4,1157.0L3113.8,1157.0L3113.8,1157.3L3118.2,1157.3L3118.2,1154.0L3122.6,1154.0L3122.6,1155.4L3127.0,1155.4L3127.0,1152.7L3131.4,1152.7L3131.4,1156.6L3135.8,1156.6L3135.8,1158.3L3140.2,1158.3L3140.2,1154.9L3144.6,1154.9L3144.6,1156.7L3149.0,1156.7L3149.0,1157.3L3153.4,1157.3L3153.4,1155.4L3157.8,1155.4L3157.8,1158.2L3162.2,1158.2L3162.2,1156.0L3166.6,1156.0L3166.6,1154.3L3171.0,1154.3L3171.0,1156.2L3175.4,1156.2L3175.4,1158.2L3179.8,1158.2L3179.8,1157.6L3184.2,1157.6L3184.2,1155.2L3188.6,1155.2L3188.6,1154.3L3193.0,1154.3L3193.0,1156.5L3197.4,1156.5L3197.4,1156.2L3201.8,1156.2L3201.8,1158.7L3206.2,1158.7L3206.2,1158.7L3210.6,1158.7L3210.6,1157.4L3215.0,1157.4L3215.0,1156.9L3219.4,1156.9L3219.4,1156.1L3223.8,1156.1L3223.8,1154.6L3228.2,1154.6L3228.2,1156.7L3232.6,1156.7L3232.6,1154.8L3237.0,1154.8L3237.0,1159.3L3241.4,1159.3L3241.4,1158.2L3245.8,1158.2L3245.8,1155.6L3250.2,1155.6L3250.2,1156.9L3254.6,1156.9L3254.6,1155.9L3259.0,1155.9L3259.0,1160.1L3263.4,1160.1L3263.4,1157.0L3267.8,1157.0L3267.8,1155.6L3272.2,1155.6L3272.2,1154.4L3276.6,1154.4L3276.6,1159.4L3281.0,1159.4L3281.0,1156.4L3285.4,1156.4L3285.4,1156.0L3289.8,1156.0L3289.8,1159.2L3294.2,1159.2L3294.2,1155.5L3298.6,1155.5L3298.6,1156.1L3303.0,1156.1L3303.0,1156.5L3307.4,1156.5L3307.4,1156.5L3311.8,1156.5L3311.8,1156.2L3316.2,1156.2L3316.2,1158.3L3320.6,1158.3L3320.6,1156.9L3325.0,1156.9L3325.0,1159.4L3329.4,1159.4L3329.4,1156.3L3333.8,1156.3L3333.8,1158.7L3338.2,1158.7L3338.2,1157.9L3342.6,1157.9L3342.6,1157.9L3347.0,1157.9L3347.0,1156.2L3351.4,1156.2L3351.4,1157.8L3355.8,1157.8L3355.8,1156.8L3360.2,1156.8L3360.2,1154.6L3364.6,1154.6L3364.6,1157.3L3369.0,1157.3L3369.0,1155.4L3373.4,1155.4L3373.4,1159.0L3377.8,1159.0L3377.8,1157.9L3382.2,1157.9L3382.2,1156.5L3386.6,1156.5L3386.6,1159.7L3391.0,1159.7L3391.0,1155.5L3395.4,1155.5L3395.4,1159.6L3399.8,1159.6L3399.8,1160.3L3404.2,1160.3L3404.2,1158.0L3408.6,1158.0L3408.6,1160.2L3413.0,1160.2L3413.0,1157.1L3417.4,1157.1L3417.4,1156.5L3421.8,1156.5L3421.8,1158.2L3426.2,1158.2L3426.2,1155.3L3430.6,1155.3L3430.6,1157.2L3435.0,1157.2L3435.0,1160.9L3439.4,1160.9L3439.4,1156.2L3443.8,1156.2L3443.8,1158.2L3448.2,1158.2L3448.2,1161.5Z" fill="#E04A0C" fill-opacity="0.65" stroke="none"/>
<path d="M2101.8,1161.5L2101.8,1157.1L2106.2,1157.1L2106.2,1155.0L2110.6,1155.0L2110.6,1153.0L2115.0,1153.0L2115.0,1150.0L2119.4,1150.0L2119.4,1145.9L2123.8,1145.9L2123.8,1141.8L2128.2,1141.8L2128.2,1134.2L2132.6,1134.2L2132.6,1123.6L2137.0,1123.6L2137.0,1107.7L2141.4,1107.7L2141.4,1086.3L2145.8,1086.3L2145.8,1062.5L2150.2,1062.5L2150.2,1037.2L2154.6,1037.2L2154.6,1011.1L2159.0,1011.1L2159.0,911.3L2163.4,911.3L2163.4,797.6L2167.8,797.6L2167.8,694.1L2172.2,694.1L2172.2,590.4L2176.6,590.4L2176.6,485.4L2181.0,485.4L2181.0,409.0L2185.4,409.0L2185.4,310.0L2189.8,310.0L2189.8,310.0L2194.2,310.0L2194.2,310.0L2198.6,310.0L2198.6,293.0L2203.0,293.0L2203.0,293.0L2207.4,293.0L2207.4,299.0L2211.8,299.0L2211.8,352.0L2216.2,352.0L2216.2,352.0L2220.6,352.0L2220.6,394.0L2225.0,394.0L2225.0,394.0L2229.4,394.0L2229.4,504.0L2233.8,504.0L2233.8,504.0L2238.2,504.0L2238.2,564.0L2242.6,564.0L2242.6,564.0L2247.0,564.0L2247.0,686.0L2251.4,686.0L2251.4,686.0L2255.8,686.0L2255.8,764.0L2260.2,764.0L2260.2,773.0L2264.6,773.0L2264.6,773.0L2269.0,773.0L2269.0,864.0L2273.4,864.0L2273.4,864.0L2277.8,864.0L2277.8,913.0L2282.2,913.0L2282.2,901.0L2286.6,901.0L2286.6,901.0L2291.0,901.0L2291.0,949.0L2295.4,949.0L2295.4,953.0L2299.8,953.0L2299.8,957.9L2304.2,957.9L2304.2,962.0L2308.6,962.0L2308.6,974.4L2313.0,974.4L2313.0,994.3L2317.4,994.3L2317.4,1008.0L2321.8,1008.0L2321.8,1014.8L2326.2,1014.8L2326.2,1023.1L2330.6,1023.1L2330.6,1046.4L2335.0,1046.4L2335.0,1053.8L2339.4,1053.8L2339.4,1047.8L2343.8,1047.8L2343.8,1057.8L2348.2,1057.8L2348.2,1070.8L2352.6,1070.8L2352.6,1080.1L2357.0,1080.1L2357.0,1087.0L2361.4,1087.0L2361.4,1090.6L2365.8,1090.6L2365.8,1094.2L2370.2,1094.2L2370.2,1097.9L2374.6,1097.9L2374.6,1100.9L2379.0,1100.9L2379.0,1103.0L2383.4,1103.0L2383.4,1105.1L2387.8,1105.1L2387.8,1107.2L2392.2,1107.2L2392.2,1109.3L2396.6,1109.3L2396.6,1111.4L2401.0,1111.4L2401.0,1113.7L2405.4,1113.7L2405.4,1113.8L2409.8,1113.8L2409.8,1115.2L2414.2,1115.2L2414.2,1115.1L2418.6,1115.1L2418.6,1119.4L2423.0,1119.4L2423.0,1119.8L2427.4,1119.8L2427.4,1118.7L2431.8,1118.7L2431.8,1120.9L2436.2,1120.9L2436.2,1121.4L2440.6,1121.4L2440.6,1121.7L2445.0,1121.7L2445.0,1124.5L2449.4,1124.5L2449.4,1126.3L2453.8,1126.3L2453.8,1127.4L2458.2,1127.4L2458.2,1128.0L2462.6,1128.0L2462.6,1129.9L2467.0,1129.9L2467.0,1130.3L2471.4,1130.3L2471.4,1131.9L2475.8,1131.9L2475.8,1132.8L2480.2,1132.8L2480.2,1129.5L2484.6,1129.5L2484.6,1136.8L2489.0,1136.8L2489.0,1135.4L2493.4,1135.4L2493.4,1137.7L2497.8,1137.7L2497.8,1136.9L2502.2,1136.9L2502.2,1134.2L2506.6,1134.2L2506.6,1135.7L2511.0,1135.7L2511.0,1139.3L2515.4,1139.3L2515.4,1137.1L2519.8,1137.1L2519.8,1137.6L2524.2,1137.6L2524.2,1138.3L2528.6,1138.3L2528.6,1139.1L2533.0,1139.1L2533.0,1140.4L2537.4,1140.4L2537.4,1140.7L2541.8,1140.7L2541.8,1139.0L2546.2,1139.0L2546.2,1141.4L2550.6,1141.4L2550.6,1140.3L2555.0,1140.3L2555.0,1141.4L2559.4,1141.4L2559.4,1143.2L2563.8,1143.2L2563.8,1144.3L2568.2,1144.3L2568.2,1140.9L2572.6,1140.9L2572.6,1141.9L2577.0,1141.9L2577.0,1141.1L2581.4,1141.1L2581.4,1145.2L2585.8,1145.2L2585.8,1145.4L2590.2,1145.4L2590.2,1146.9L2594.6,1146.9L2594.6,1144.6L2599.0,1144.6L2599.0,1141.7L2603.4,1141.7L2603.4,1148.0L2607.8,1148.0L2607.8,1144.2L2612.2,1144.2L2612.2,1145.7L2616.6,1145.7L2616.6,1144.8L2621.0,1144.8L2621.0,1144.7L2625.4,1144.7L2625.4,1144.1L2629.8,1144.1L2629.8,1147.5L2634.2,1147.5L2634.2,1144.6L2638.6,1144.6L2638.6,1147.7L2643.0,1147.7L2643.0,1148.7L2647.4,1148.7L2647.4,1149.9L2651.8,1149.9L2651.8,1146.7L2656.2,1146.7L2656.2,1146.6L2660.6,1146.6L2660.6,1146.3L2665.0,1146.3L2665.0,1148.6L2669.4,1148.6L2669.4,1147.1L2673.8,1147.1L2673.8,1150.7L2678.2,1150.7L2678.2,1148.2L2682.6,1148.2L2682.6,1150.1L2687.0,1150.1L2687.0,1152.1L2691.4,1152.1L2691.4,1149.1L2695.8,1149.1L2695.8,1150.0L2700.2,1150.0L2700.2,1148.0L2704.6,1148.0L2704.6,1151.6L2709.0,1151.6L2709.0,1148.4L2713.4,1148.4L2713.4,1150.3L2717.8,1150.3L2717.8,1153.5L2722.2,1153.5L2722.2,1149.7L2726.6,1149.7L2726.6,1150.0L2731.0,1150.0L2731.0,1153.5L2735.4,1153.5L2735.4,1150.4L2739.8,1150.4L2739.8,1149.6L2744.2,1149.6L2744.2,1150.2L2748.6,1150.2L2748.6,1154.0L2753.0,1154.0L2753.0,1149.4L2757.4,1149.4L2757.4,1151.3L2761.8,1151.3L2761.8,1151.6L2766.2,1151.6L2766.2,1154.2L2770.6,1154.2L2770.6,1151.0L2775.0,1151.0L2775.0,1153.8L2779.4,1153.8L2779.4,1151.6L2783.8,1151.6L2783.8,1153.4L2788.2,1153.4L2788.2,1152.9L2792.6,1152.9L2792.6,1150.4L2797.0,1150.4L2797.0,1150.8L2801.4,1150.8L2801.4,1151.8L2805.8,1151.8L2805.8,1152.1L2810.2,1152.1L2810.2,1155.1L2814.6,1155.1L2814.6,1152.8L2819.0,1152.8L2819.0,1150.3L2823.4,1150.3L2823.4,1151.0L2827.8,1151.0L2827.8,1154.1L2832.2,1154.1L2832.2,1155.6L2836.6,1155.6L2836.6,1153.0L2841.0,1153.0L2841.0,1154.5L2845.4,1154.5L2845.4,1155.8L2849.8,1155.8L2849.8,1154.2L2854.2,1154.2L2854.2,1154.8L2858.6,1154.8L2858.6,1154.0L2863.0,1154.0L2863.0,1152.2L2867.4,1152.2L2867.4,1155.5L2871.8,1155.5L2871.8,1152.8L2876.2,1152.8L2876.2,1159.1L2880.6,1159.1L2880.6,1152.3L2885.0,1152.3L2885.0,1154.6L2889.4,1154.6L2889.4,1155.0L2893.8,1155.0L2893.8,1156.9L2898.2,1156.9L2898.2,1156.6L2902.6,1156.6L2902.6,1153.3L2907.0,1153.3L2907.0,1155.8L2911.4,1155.8L2911.4,1153.2L2915.8,1153.2L2915.8,1155.1L2920.2,1155.1L2920.2,1154.1L2924.6,1154.1L2924.6,1156.1L2929.0,1156.1L2929.0,1154.4L2933.4,1154.4L2933.4,1153.5L2937.8,1153.5L2937.8,1155.0L2942.2,1155.0L2942.2,1155.0L2946.6,1155.0L2946.6,1153.1L2951.0,1153.1L2951.0,1154.9L2955.4,1154.9L2955.4,1153.7L2959.8,1153.7L2959.8,1156.1L2964.2,1156.1L2964.2,1154.6L2968.6,1154.6L2968.6,1154.6L2973.0,1154.6L2973.0,1155.1L2977.4,1155.1L2977.4,1157.9L2981.8,1157.9L2981.8,1156.8L2986.2,1156.8L2986.2,1154.9L2990.6,1154.9L2990.6,1156.6L2995.0,1156.6L2995.0,1154.7L2999.4,1154.7L2999.4,1157.3L3003.8,1157.3L3003.8,1156.2L3008.2,1156.2L3008.2,1160.3L3012.6,1160.3L3012.6,1153.4L3017.0,1153.4L3017.0,1155.6L3021.4,1155.6L3021.4,1154.7L3025.8,1154.7L3025.8,1155.7L3030.2,1155.7L3030.2,1155.1L3034.6,1155.1L3034.6,1157.3L3039.0,1157.3L3039.0,1155.0L3043.4,1155.0L3043.4,1157.4L3047.8,1157.4L3047.8,1157.2L3052.2,1157.2L3052.2,1157.3L3056.6,1157.3L3056.6,1155.9L3061.0,1155.9L3061.0,1157.4L3065.4,1157.4L3065.4,1155.0L3069.8,1155.0L3069.8,1159.3L3074.2,1159.3L3074.2,1155.5L3078.6,1155.5L3078.6,1156.4L3083.0,1156.4L3083.0,1154.3L3087.4,1154.3L3087.4,1153.8L3091.8,1153.8L3091.8,1156.4L3096.2,1156.4L3096.2,1155.1L3100.6,1155.1L3100.6,1156.4L3105.0,1156.4L3105.0,1157.2L3109.4,1157.2L3109.4,1157.0L3113.8,1157.0L3113.8,1157.3L3118.2,1157.3L3118.2,1154.0L3122.6,1154.0L3122.6,1155.4L3127.0,1155.4L3127.0,1152.7L3131.4,1152.7L3131.4,1156.6L3135.8,1156.6L3135.8,1158.3L3140.2,1158.3L3140.2,1154.9L3144.6,1154.9L3144.6,1156.7L3149.0,1156.7L3149.0,1157.3L3153.4,1157.3L3153.4,1155.4L3157.8,1155.4L3157.8,1158.2L3162.2,1158.2L3162.2,1156.0L3166.6,1156.0L3166.6,1154.3L3171.0,1154.3L3171.0,1156.2L3175.4,1156.2L3175.4,1158.2L3179.8,1158.2L3179.8,1157.6L3184.2,1157.6L3184.2,1155.2L3188.6,1155.2L3188.6,1154.3L3193.0,1154.3L3193.0,1156.5L3197.4,1156.5L3197.4,1156.2L3201.8,1156.2L3201.8,1158.7L3206.2,1158.7L3206.2,1158.7L3210.6,1158.7L3210.6,1157.4L3215.0,1157.4L3215.0,1156.9L3219.4,1156.9L3219.4,1156.1L3223.8,1156.1L3223.8,1154.6L3228.2,1154.6L3228.2,1156.7L3232.6,1156.7L3232.6,1154.8L3237.0,1154.8L3237.0,1159.3L3241.4,1159.3L3241.4,1158.2L3245.8,1158.2L3245.8,1155.6L3250.2,1155.6L3250.2,1156.9L3254.6,1156.9L3254.6,1155.9L3259.0,1155.9L3259.0,1160.1L3263.4,1160.1L3263.4,1157.0L3267.8,1157.0L3267.8,1155.6L3272.2,1155.6L3272.2,1154.4L3276.6,1154.4L3276.6,1159.4L3281.0,1159.4L3281.0,1156.4L3285.4,1156.4L3285.4,1156.0L3289.8,1156.0L3289.8,1159.2L3294.2,1159.2L3294.2,1155.5L3298.6,1155.5L3298.6,1156.1L3303.0,1156.1L3303.0,1156.5L3307.4,1156.5L3307.4,1156.5L3311.8,1156.5L3311.8,1156.2L3316.2,1156.2L3316.2,1158.3L3320.6,1158.3L3320.6,1156.9L3325.0,1156.9L3325.0,1159.4L3329.4,1159.4L3329.4,1156.3L3333.8,1156.3L3333.8,1158.7L3338.2,1158.7L3338.2,1157.9L3342.6,1157.9L3342.6,1157.9L3347.0,1157.9L3347.0,1156.2L3351.4,1156.2L3351.4,1157.8L3355.8,1157.8L3355.8,1156.8L3360.2,1156.8L3360.2,1154.6L3364.6,1154.6L3364.6,1157.3L3369.0,1157.3L3369.0,1155.4L3373.4,1155.4L3373.4,1159.0L3377.8,1159.0L3377.8,1157.9L3382.2,1157.9L3382.2,1156.5L3386.6,1156.5L3386.6,1159.7L3391.0,1159.7L3391.0,1155.5L3395.4,1155.5L3395.4,1159.6L3399.8,1159.6L3399.8,1160.3L3404.2,1160.3L3404.2,1158.0L3408.6,1158.0L3408.6,1160.2L3413.0,1160.2L3413.0,1157.1L3417.4,1157.1L3417.4,1156.5L3421.8,1156.5L3421.8,1158.2L3426.2,1158.2L3426.2,1155.3L3430.6,1155.3L3430.6,1157.2L3435.0,1157.2L3435.0,1160.9L3439.4,1160.9L3439.4,1156.2L3443.8,1156.2L3443.8,1158.2L3448.2,1158.2L3448.2,1161.5" fill="none" stroke="#CD3E14" stroke-width="5.0" stroke-linejoin="miter"/>
<path d="M2101.8,1161.5L2101.8,1160.2L2106.2,1160.2L2106.2,1159.5L2110.6,1159.5L2110.6,1158.8L2115.0,1158.8L2115.0,1158.1L2119.4,1158.1L2119.4,1150.8L2123.8,1150.8L2123.8,1142.0L2128.2,1142.0L2128.2,1133.5L2132.6,1133.5L2132.6,1125.1L2137.0,1125.1L2137.0,1113.4L2141.4,1113.4L2141.4,1093.0L2145.8,1093.0L2145.8,1072.5L2150.2,1072.5L2150.2,1007.6L2154.6,1007.6L2154.6,934.4L2159.0,934.4L2159.0,797.1L2163.4,797.1L2163.4,686.0L2167.8,686.0L2167.8,483.0L2172.2,483.0L2172.2,483.0L2176.6,483.0L2176.6,442.0L2181.0,442.0L2181.0,442.0L2185.4,442.0L2185.4,245.0L2189.8,245.0L2189.8,225.0L2194.2,225.0L2194.2,225.0L2198.6,225.0L2198.6,504.0L2203.0,504.0L2203.0,623.0L2207.4,623.0L2207.4,623.0L2211.8,623.0L2211.8,444.0L2216.2,444.0L2216.2,444.0L2220.6,444.0L2220.6,500.0L2225.0,500.0L2225.0,600.0L2229.4,600.0L2229.4,680.0L2233.8,680.0L2233.8,756.0L2238.2,756.0L2238.2,836.9L2242.6,836.9L2242.6,858.2L2247.0,858.2L2247.0,945.8L2251.4,945.8L2251.4,963.3L2255.8,963.3L2255.8,935.6L2260.2,935.6L2260.2,964.6L2264.6,964.6L2264.6,982.0L2269.0,982.0L2269.0,971.7L2273.4,971.7L2273.4,978.1L2277.8,978.1L2277.8,1034.4L2282.2,1034.4L2282.2,1001.0L2286.6,1001.0L2286.6,991.9L2291.0,991.9L2291.0,1022.0L2295.4,1022.0L2295.4,980.8L2299.8,980.8L2299.8,923.0L2304.2,923.0L2304.2,1020.4L2308.6,1020.4L2308.6,1089.3L2313.0,1089.3L2313.0,1058.0L2317.4,1058.0L2317.4,1044.7L2321.8,1044.7L2321.8,1063.2L2326.2,1063.2L2326.2,1081.1L2330.6,1081.1L2330.6,1096.7L2335.0,1096.7L2335.0,1102.3L2339.4,1102.3L2339.4,1092.0L2343.8,1092.0L2343.8,1081.4L2348.2,1081.4L2348.2,1077.3L2352.6,1077.3L2352.6,1070.3L2357.0,1070.3L2357.0,1034.2L2361.4,1034.2L2361.4,1042.9L2365.8,1042.9L2365.8,1068.3L2370.2,1068.3L2370.2,1076.6L2374.6,1076.6L2374.6,1054.1L2379.0,1054.1L2379.0,1047.3L2383.4,1047.3L2383.4,1073.6L2387.8,1073.6L2387.8,1033.8L2392.2,1033.8L2392.2,1038.2L2396.6,1038.2L2396.6,1079.3L2401.0,1079.3L2401.0,1069.1L2405.4,1069.1L2405.4,1064.1L2409.8,1064.1L2409.8,1056.1L2414.2,1056.1L2414.2,1019.2L2418.6,1019.2L2418.6,1023.5L2423.0,1023.5L2423.0,999.4L2427.4,999.4L2427.4,982.1L2431.8,982.1L2431.8,970.8L2436.2,970.8L2436.2,991.4L2440.6,991.4L2440.6,987.9L2445.0,987.9L2445.0,1005.3L2449.4,1005.3L2449.4,973.1L2453.8,973.1L2453.8,1003.7L2458.2,1003.7L2458.2,995.2L2462.6,995.2L2462.6,985.6L2467.0,985.6L2467.0,992.5L2471.4,992.5L2471.4,1049.8L2475.8,1049.8L2475.8,995.0L2480.2,995.0L2480.2,937.0L2484.6,937.0L2484.6,937.0L2489.0,937.0L2489.0,970.9L2493.4,970.9L2493.4,1010.6L2497.8,1010.6L2497.8,1013.1L2502.2,1013.1L2502.2,1014.2L2506.6,1014.2L2506.6,1031.4L2511.0,1031.4L2511.0,1001.8L2515.4,1001.8L2515.4,1030.6L2519.8,1030.6L2519.8,1032.2L2524.2,1032.2L2524.2,1042.6L2528.6,1042.6L2528.6,1034.6L2533.0,1034.6L2533.0,1073.4L2537.4,1073.4L2537.4,1087.6L2541.8,1087.6L2541.8,1079.6L2546.2,1079.6L2546.2,1097.9L2550.6,1097.9L2550.6,1104.2L2555.0,1104.2L2555.0,1111.7L2559.4,1111.7L2559.4,1106.9L2563.8,1106.9L2563.8,1117.8L2568.2,1117.8L2568.2,1122.8L2572.6,1122.8L2572.6,1128.3L2577.0,1128.3L2577.0,1127.4L2581.4,1127.4L2581.4,1136.5L2585.8,1136.5L2585.8,1128.5L2590.2,1128.5L2590.2,1128.2L2594.6,1128.2L2594.6,1143.7L2599.0,1143.7L2599.0,1133.3L2603.4,1133.3L2603.4,1140.5L2607.8,1140.5L2607.8,1140.0L2612.2,1140.0L2612.2,1138.0L2616.6,1138.0L2616.6,1135.3L2621.0,1135.3L2621.0,1143.2L2625.4,1143.2L2625.4,1141.4L2629.8,1141.4L2629.8,1147.3L2634.2,1147.3L2634.2,1149.3L2638.6,1149.3L2638.6,1136.7L2643.0,1136.7L2643.0,1143.5L2647.4,1143.5L2647.4,1143.6L2651.8,1143.6L2651.8,1144.4L2656.2,1144.4L2656.2,1143.2L2660.6,1143.2L2660.6,1141.3L2665.0,1141.3L2665.0,1141.9L2669.4,1141.9L2669.4,1145.1L2673.8,1145.1L2673.8,1142.9L2678.2,1142.9L2678.2,1142.8L2682.6,1142.8L2682.6,1143.2L2687.0,1143.2L2687.0,1139.3L2691.4,1139.3L2691.4,1144.2L2695.8,1144.2L2695.8,1138.6L2700.2,1138.6L2700.2,1149.5L2704.6,1149.5L2704.6,1137.4L2709.0,1137.4L2709.0,1143.2L2713.4,1143.2L2713.4,1134.7L2717.8,1134.7L2717.8,1148.9L2722.2,1148.9L2722.2,1144.4L2726.6,1144.4L2726.6,1143.1L2731.0,1143.1L2731.0,1138.6L2735.4,1138.6L2735.4,1151.7L2739.8,1151.7L2739.8,1136.1L2744.2,1136.1L2744.2,1146.1L2748.6,1146.1L2748.6,1143.5L2753.0,1143.5L2753.0,1147.5L2757.4,1147.5L2757.4,1147.1L2761.8,1147.1L2761.8,1147.9L2766.2,1147.9L2766.2,1151.2L2770.6,1151.2L2770.6,1149.7L2775.0,1149.7L2775.0,1132.9L2779.4,1132.9L2779.4,1143.5L2783.8,1143.5L2783.8,1141.9L2788.2,1141.9L2788.2,1148.3L2792.6,1148.3L2792.6,1149.9L2797.0,1149.9L2797.0,1143.7L2801.4,1143.7L2801.4,1150.2L2805.8,1150.2L2805.8,1147.4L2810.2,1147.4L2810.2,1149.3L2814.6,1149.3L2814.6,1152.8L2819.0,1152.8L2819.0,1147.2L2823.4,1147.2L2823.4,1149.3L2827.8,1149.3L2827.8,1146.2L2832.2,1146.2L2832.2,1153.1L2836.6,1153.1L2836.6,1151.1L2841.0,1151.1L2841.0,1145.5L2845.4,1145.5L2845.4,1148.0L2849.8,1148.0L2849.8,1153.5L2854.2,1153.5L2854.2,1151.9L2858.6,1151.9L2858.6,1150.9L2863.0,1150.9L2863.0,1158.9L2867.4,1158.9L2867.4,1151.1L2871.8,1151.1L2871.8,1145.3L2876.2,1145.3L2876.2,1142.6L2880.6,1142.6L2880.6,1152.3L2885.0,1152.3L2885.0,1150.3L2889.4,1150.3L2889.4,1154.1L2893.8,1154.1L2893.8,1149.7L2898.2,1149.7L2898.2,1151.4L2902.6,1151.4L2902.6,1151.1L2907.0,1151.1L2907.0,1151.7L2911.4,1151.7L2911.4,1153.5L2915.8,1153.5L2915.8,1152.3L2920.2,1152.3L2920.2,1152.3L2924.6,1152.3L2924.6,1152.5L2929.0,1152.5L2929.0,1155.4L2933.4,1155.4L2933.4,1154.1L2937.8,1154.1L2937.8,1155.1L2942.2,1155.1L2942.2,1154.2L2946.6,1154.2L2946.6,1153.0L2951.0,1153.0L2951.0,1150.5L2955.4,1150.5L2955.4,1152.0L2959.8,1152.0L2959.8,1153.6L2964.2,1153.6L2964.2,1153.9L2968.6,1153.9L2968.6,1156.8L2973.0,1156.8L2973.0,1153.4L2977.4,1153.4L2977.4,1152.9L2981.8,1152.9L2981.8,1153.7L2986.2,1153.7L2986.2,1154.9L2990.6,1154.9L2990.6,1154.1L2995.0,1154.1L2995.0,1153.0L2999.4,1153.0L2999.4,1155.1L3003.8,1155.1L3003.8,1155.5L3008.2,1155.5L3008.2,1156.8L3012.6,1156.8L3012.6,1153.5L3017.0,1153.5L3017.0,1153.7L3021.4,1153.7L3021.4,1153.7L3025.8,1153.7L3025.8,1156.0L3030.2,1156.0L3030.2,1152.8L3034.6,1152.8L3034.6,1155.1L3039.0,1155.1L3039.0,1153.2L3043.4,1153.2L3043.4,1154.4L3047.8,1154.4L3047.8,1155.1L3052.2,1155.1L3052.2,1155.1L3056.6,1155.1L3056.6,1156.7L3061.0,1156.7L3061.0,1154.5L3065.4,1154.5L3065.4,1154.7L3069.8,1154.7L3069.8,1154.8L3074.2,1154.8L3074.2,1154.4L3078.6,1154.4L3078.6,1156.5L3083.0,1156.5L3083.0,1153.6L3087.4,1153.6L3087.4,1153.4L3091.8,1153.4L3091.8,1154.0L3096.2,1154.0L3096.2,1154.6L3100.6,1154.6L3100.6,1154.7L3105.0,1154.7L3105.0,1153.0L3109.4,1153.0L3109.4,1153.5L3113.8,1153.5L3113.8,1153.4L3118.2,1153.4L3118.2,1156.8L3122.6,1156.8L3122.6,1155.9L3127.0,1155.9L3127.0,1152.4L3131.4,1152.4L3131.4,1157.4L3135.8,1157.4L3135.8,1153.6L3140.2,1153.6L3140.2,1158.0L3144.6,1158.0L3144.6,1155.0L3149.0,1155.0L3149.0,1154.9L3153.4,1154.9L3153.4,1155.7L3157.8,1155.7L3157.8,1153.3L3162.2,1153.3L3162.2,1157.5L3166.6,1157.5L3166.6,1155.6L3171.0,1155.6L3171.0,1154.5L3175.4,1154.5L3175.4,1153.9L3179.8,1153.9L3179.8,1155.3L3184.2,1155.3L3184.2,1152.5L3188.6,1152.5L3188.6,1155.7L3193.0,1155.7L3193.0,1155.0L3197.4,1155.0L3197.4,1157.9L3201.8,1157.9L3201.8,1156.3L3206.2,1156.3L3206.2,1154.0L3210.6,1154.0L3210.6,1154.4L3215.0,1154.4L3215.0,1157.8L3219.4,1157.8L3219.4,1155.6L3223.8,1155.6L3223.8,1157.0L3228.2,1157.0L3228.2,1155.1L3232.6,1155.1L3232.6,1154.7L3237.0,1154.7L3237.0,1157.1L3241.4,1157.1L3241.4,1153.3L3245.8,1153.3L3245.8,1155.5L3250.2,1155.5L3250.2,1157.6L3254.6,1157.6L3254.6,1154.1L3259.0,1154.1L3259.0,1155.9L3263.4,1155.9L3263.4,1159.1L3267.8,1159.1L3267.8,1155.6L3272.2,1155.6L3272.2,1155.2L3276.6,1155.2L3276.6,1152.6L3281.0,1152.6L3281.0,1155.9L3285.4,1155.9L3285.4,1156.6L3289.8,1156.6L3289.8,1156.9L3294.2,1156.9L3294.2,1154.6L3298.6,1154.6L3298.6,1155.3L3303.0,1155.3L3303.0,1154.5L3307.4,1154.5L3307.4,1155.0L3311.8,1155.0L3311.8,1155.2L3316.2,1155.2L3316.2,1157.4L3320.6,1157.4L3320.6,1155.4L3325.0,1155.4L3325.0,1156.4L3329.4,1156.4L3329.4,1154.8L3333.8,1154.8L3333.8,1156.6L3338.2,1156.6L3338.2,1153.2L3342.6,1153.2L3342.6,1156.7L3347.0,1156.7L3347.0,1156.6L3351.4,1156.6L3351.4,1158.0L3355.8,1158.0L3355.8,1156.4L3360.2,1156.4L3360.2,1155.9L3364.6,1155.9L3364.6,1154.8L3369.0,1154.8L3369.0,1157.1L3373.4,1157.1L3373.4,1156.2L3377.8,1156.2L3377.8,1156.7L3382.2,1156.7L3382.2,1155.1L3386.6,1155.1L3386.6,1156.4L3391.0,1156.4L3391.0,1153.7L3395.4,1153.7L3395.4,1153.9L3399.8,1153.9L3399.8,1156.9L3404.2,1156.9L3404.2,1158.3L3408.6,1158.3L3408.6,1156.3L3413.0,1156.3L3413.0,1158.1L3417.4,1158.1L3417.4,1155.6L3421.8,1155.6L3421.8,1155.8L3426.2,1155.8L3426.2,1155.6L3430.6,1155.6L3430.6,1154.6L3435.0,1154.6L3435.0,1154.8L3439.4,1154.8L3439.4,1155.1L3443.8,1155.1L3443.8,1157.1L3448.2,1157.1L3448.2,1161.5Z" fill="#404040" fill-opacity="0.65" stroke="none"/>
<path d="M2101.8,1161.5L2101.8,1160.2L2106.2,1160.2L2106.2,1159.5L2110.6,1159.5L2110.6,1158.8L2115.0,1158.8L2115.0,1158.1L2119.4,1158.1L2119.4,1150.8L2123.8,1150.8L2123.8,1142.0L2128.2,1142.0L2128.2,1133.5L2132.6,1133.5L2132.6,1125.1L2137.0,1125.1L2137.0,1113.4L2141.4,1113.4L2141.4,1093.0L2145.8,1093.0L2145.8,1072.5L2150.2,1072.5L2150.2,1007.6L2154.6,1007.6L2154.6,934.4L2159.0,934.4L2159.0,797.1L2163.4,797.1L2163.4,686.0L2167.8,686.0L2167.8,483.0L2172.2,483.0L2172.2,483.0L2176.6,483.0L2176.6,442.0L2181.0,442.0L2181.0,442.0L2185.4,442.0L2185.4,245.0L2189.8,245.0L2189.8,225.0L2194.2,225.0L2194.2,225.0L2198.6,225.0L2198.6,504.0L2203.0,504.0L2203.0,623.0L2207.4,623.0L2207.4,623.0L2211.8,623.0L2211.8,444.0L2216.2,444.0L2216.2,444.0L2220.6,444.0L2220.6,500.0L2225.0,500.0L2225.0,600.0L2229.4,600.0L2229.4,680.0L2233.8,680.0L2233.8,756.0L2238.2,756.0L2238.2,836.9L2242.6,836.9L2242.6,858.2L2247.0,858.2L2247.0,945.8L2251.4,945.8L2251.4,963.3L2255.8,963.3L2255.8,935.6L2260.2,935.6L2260.2,964.6L2264.6,964.6L2264.6,982.0L2269.0,982.0L2269.0,971.7L2273.4,971.7L2273.4,978.1L2277.8,978.1L2277.8,1034.4L2282.2,1034.4L2282.2,1001.0L2286.6,1001.0L2286.6,991.9L2291.0,991.9L2291.0,1022.0L2295.4,1022.0L2295.4,980.8L2299.8,980.8L2299.8,923.0L2304.2,923.0L2304.2,1020.4L2308.6,1020.4L2308.6,1089.3L2313.0,1089.3L2313.0,1058.0L2317.4,1058.0L2317.4,1044.7L2321.8,1044.7L2321.8,1063.2L2326.2,1063.2L2326.2,1081.1L2330.6,1081.1L2330.6,1096.7L2335.0,1096.7L2335.0,1102.3L2339.4,1102.3L2339.4,1092.0L2343.8,1092.0L2343.8,1081.4L2348.2,1081.4L2348.2,1077.3L2352.6,1077.3L2352.6,1070.3L2357.0,1070.3L2357.0,1034.2L2361.4,1034.2L2361.4,1042.9L2365.8,1042.9L2365.8,1068.3L2370.2,1068.3L2370.2,1076.6L2374.6,1076.6L2374.6,1054.1L2379.0,1054.1L2379.0,1047.3L2383.4,1047.3L2383.4,1073.6L2387.8,1073.6L2387.8,1033.8L2392.2,1033.8L2392.2,1038.2L2396.6,1038.2L2396.6,1079.3L2401.0,1079.3L2401.0,1069.1L2405.4,1069.1L2405.4,1064.1L2409.8,1064.1L2409.8,1056.1L2414.2,1056.1L2414.2,1019.2L2418.6,1019.2L2418.6,1023.5L2423.0,1023.5L2423.0,999.4L2427.4,999.4L2427.4,982.1L2431.8,982.1L2431.8,970.8L2436.2,970.8L2436.2,991.4L2440.6,991.4L2440.6,987.9L2445.0,987.9L2445.0,1005.3L2449.4,1005.3L2449.4,973.1L2453.8,973.1L2453.8,1003.7L2458.2,1003.7L2458.2,995.2L2462.6,995.2L2462.6,985.6L2467.0,985.6L2467.0,992.5L2471.4,992.5L2471.4,1049.8L2475.8,1049.8L2475.8,995.0L2480.2,995.0L2480.2,937.0L2484.6,937.0L2484.6,937.0L2489.0,937.0L2489.0,970.9L2493.4,970.9L2493.4,1010.6L2497.8,1010.6L2497.8,1013.1L2502.2,1013.1L2502.2,1014.2L2506.6,1014.2L2506.6,1031.4L2511.0,1031.4L2511.0,1001.8L2515.4,1001.8L2515.4,1030.6L2519.8,1030.6L2519.8,1032.2L2524.2,1032.2L2524.2,1042.6L2528.6,1042.6L2528.6,1034.6L2533.0,1034.6L2533.0,1073.4L2537.4,1073.4L2537.4,1087.6L2541.8,1087.6L2541.8,1079.6L2546.2,1079.6L2546.2,1097.9L2550.6,1097.9L2550.6,1104.2L2555.0,1104.2L2555.0,1111.7L2559.4,1111.7L2559.4,1106.9L2563.8,1106.9L2563.8,1117.8L2568.2,1117.8L2568.2,1122.8L2572.6,1122.8L2572.6,1128.3L2577.0,1128.3L2577.0,1127.4L2581.4,1127.4L2581.4,1136.5L2585.8,1136.5L2585.8,1128.5L2590.2,1128.5L2590.2,1128.2L2594.6,1128.2L2594.6,1143.7L2599.0,1143.7L2599.0,1133.3L2603.4,1133.3L2603.4,1140.5L2607.8,1140.5L2607.8,1140.0L2612.2,1140.0L2612.2,1138.0L2616.6,1138.0L2616.6,1135.3L2621.0,1135.3L2621.0,1143.2L2625.4,1143.2L2625.4,1141.4L2629.8,1141.4L2629.8,1147.3L2634.2,1147.3L2634.2,1149.3L2638.6,1149.3L2638.6,1136.7L2643.0,1136.7L2643.0,1143.5L2647.4,1143.5L2647.4,1143.6L2651.8,1143.6L2651.8,1144.4L2656.2,1144.4L2656.2,1143.2L2660.6,1143.2L2660.6,1141.3L2665.0,1141.3L2665.0,1141.9L2669.4,1141.9L2669.4,1145.1L2673.8,1145.1L2673.8,1142.9L2678.2,1142.9L2678.2,1142.8L2682.6,1142.8L2682.6,1143.2L2687.0,1143.2L2687.0,1139.3L2691.4,1139.3L2691.4,1144.2L2695.8,1144.2L2695.8,1138.6L2700.2,1138.6L2700.2,1149.5L2704.6,1149.5L2704.6,1137.4L2709.0,1137.4L2709.0,1143.2L2713.4,1143.2L2713.4,1134.7L2717.8,1134.7L2717.8,1148.9L2722.2,1148.9L2722.2,1144.4L2726.6,1144.4L2726.6,1143.1L2731.0,1143.1L2731.0,1138.6L2735.4,1138.6L2735.4,1151.7L2739.8,1151.7L2739.8,1136.1L2744.2,1136.1L2744.2,1146.1L2748.6,1146.1L2748.6,1143.5L2753.0,1143.5L2753.0,1147.5L2757.4,1147.5L2757.4,1147.1L2761.8,1147.1L2761.8,1147.9L2766.2,1147.9L2766.2,1151.2L2770.6,1151.2L2770.6,1149.7L2775.0,1149.7L2775.0,1132.9L2779.4,1132.9L2779.4,1143.5L2783.8,1143.5L2783.8,1141.9L2788.2,1141.9L2788.2,1148.3L2792.6,1148.3L2792.6,1149.9L2797.0,1149.9L2797.0,1143.7L2801.4,1143.7L2801.4,1150.2L2805.8,1150.2L2805.8,1147.4L2810.2,1147.4L2810.2,1149.3L2814.6,1149.3L2814.6,1152.8L2819.0,1152.8L2819.0,1147.2L2823.4,1147.2L2823.4,1149.3L2827.8,1149.3L2827.8,1146.2L2832.2,1146.2L2832.2,1153.1L2836.6,1153.1L2836.6,1151.1L2841.0,1151.1L2841.0,1145.5L2845.4,1145.5L2845.4,1148.0L2849.8,1148.0L2849.8,1153.5L2854.2,1153.5L2854.2,1151.9L2858.6,1151.9L2858.6,1150.9L2863.0,1150.9L2863.0,1158.9L2867.4,1158.9L2867.4,1151.1L2871.8,1151.1L2871.8,1145.3L2876.2,1145.3L2876.2,1142.6L2880.6,1142.6L2880.6,1152.3L2885.0,1152.3L2885.0,1150.3L2889.4,1150.3L2889.4,1154.1L2893.8,1154.1L2893.8,1149.7L2898.2,1149.7L2898.2,1151.4L2902.6,1151.4L2902.6,1151.1L2907.0,1151.1L2907.0,1151.7L2911.4,1151.7L2911.4,1153.5L2915.8,1153.5L2915.8,1152.3L2920.2,1152.3L2920.2,1152.3L2924.6,1152.3L2924.6,1152.5L2929.0,1152.5L2929.0,1155.4L2933.4,1155.4L2933.4,1154.1L2937.8,1154.1L2937.8,1155.1L2942.2,1155.1L2942.2,1154.2L2946.6,1154.2L2946.6,1153.0L2951.0,1153.0L2951.0,1150.5L2955.4,1150.5L2955.4,1152.0L2959.8,1152.0L2959.8,1153.6L2964.2,1153.6L2964.2,1153.9L2968.6,1153.9L2968.6,1156.8L2973.0,1156.8L2973.0,1153.4L2977.4,1153.4L2977.4,1152.9L2981.8,1152.9L2981.8,1153.7L2986.2,1153.7L2986.2,1154.9L2990.6,1154.9L2990.6,1154.1L2995.0,1154.1L2995.0,1153.0L2999.4,1153.0L2999.4,1155.1L3003.8,1155.1L3003.8,1155.5L3008.2,1155.5L3008.2,1156.8L3012.6,1156.8L3012.6,1153.5L3017.0,1153.5L3017.0,1153.7L3021.4,1153.7L3021.4,1153.7L3025.8,1153.7L3025.8,1156.0L3030.2,1156.0L3030.2,1152.8L3034.6,1152.8L3034.6,1155.1L3039.0,1155.1L3039.0,1153.2L3043.4,1153.2L3043.4,1154.4L3047.8,1154.4L3047.8,1155.1L3052.2,1155.1L3052.2,1155.1L3056.6,1155.1L3056.6,1156.7L3061.0,1156.7L3061.0,1154.5L3065.4,1154.5L3065.4,1154.7L3069.8,1154.7L3069.8,1154.8L3074.2,1154.8L3074.2,1154.4L3078.6,1154.4L3078.6,1156.5L3083.0,1156.5L3083.0,1153.6L3087.4,1153.6L3087.4,1153.4L3091.8,1153.4L3091.8,1154.0L3096.2,1154.0L3096.2,1154.6L3100.6,1154.6L3100.6,1154.7L3105.0,1154.7L3105.0,1153.0L3109.4,1153.0L3109.4,1153.5L3113.8,1153.5L3113.8,1153.4L3118.2,1153.4L3118.2,1156.8L3122.6,1156.8L3122.6,1155.9L3127.0,1155.9L3127.0,1152.4L3131.4,1152.4L3131.4,1157.4L3135.8,1157.4L3135.8,1153.6L3140.2,1153.6L3140.2,1158.0L3144.6,1158.0L3144.6,1155.0L3149.0,1155.0L3149.0,1154.9L3153.4,1154.9L3153.4,1155.7L3157.8,1155.7L3157.8,1153.3L3162.2,1153.3L3162.2,1157.5L3166.6,1157.5L3166.6,1155.6L3171.0,1155.6L3171.0,1154.5L3175.4,1154.5L3175.4,1153.9L3179.8,1153.9L3179.8,1155.3L3184.2,1155.3L3184.2,1152.5L3188.6,1152.5L3188.6,1155.7L3193.0,1155.7L3193.0,1155.0L3197.4,1155.0L3197.4,1157.9L3201.8,1157.9L3201.8,1156.3L3206.2,1156.3L3206.2,1154.0L3210.6,1154.0L3210.6,1154.4L3215.0,1154.4L3215.0,1157.8L3219.4,1157.8L3219.4,1155.6L3223.8,1155.6L3223.8,1157.0L3228.2,1157.0L3228.2,1155.1L3232.6,1155.1L3232.6,1154.7L3237.0,1154.7L3237.0,1157.1L3241.4,1157.1L3241.4,1153.3L3245.8,1153.3L3245.8,1155.5L3250.2,1155.5L3250.2,1157.6L3254.6,1157.6L3254.6,1154.1L3259.0,1154.1L3259.0,1155.9L3263.4,1155.9L3263.4,1159.1L3267.8,1159.1L3267.8,1155.6L3272.2,1155.6L3272.2,1155.2L3276.6,1155.2L3276.6,1152.6L3281.0,1152.6L3281.0,1155.9L3285.4,1155.9L3285.4,1156.6L3289.8,1156.6L3289.8,1156.9L3294.2,1156.9L3294.2,1154.6L3298.6,1154.6L3298.6,1155.3L3303.0,1155.3L3303.0,1154.5L3307.4,1154.5L3307.4,1155.0L3311.8,1155.0L3311.8,1155.2L3316.2,1155.2L3316.2,1157.4L3320.6,1157.4L3320.6,1155.4L3325.0,1155.4L3325.0,1156.4L3329.4,1156.4L3329.4,1154.8L3333.8,1154.8L3333.8,1156.6L3338.2,1156.6L3338.2,1153.2L3342.6,1153.2L3342.6,1156.7L3347.0,1156.7L3347.0,1156.6L3351.4,1156.6L3351.4,1158.0L3355.8,1158.0L3355.8,1156.4L3360.2,1156.4L3360.2,1155.9L3364.6,1155.9L3364.6,1154.8L3369.0,1154.8L3369.0,1157.1L3373.4,1157.1L3373.4,1156.2L3377.8,1156.2L3377.8,1156.7L3382.2,1156.7L3382.2,1155.1L3386.6,1155.1L3386.6,1156.4L3391.0,1156.4L3391.0,1153.7L3395.4,1153.7L3395.4,1153.9L3399.8,1153.9L3399.8,1156.9L3404.2,1156.9L3404.2,1158.3L3408.6,1158.3L3408.6,1156.3L3413.0,1156.3L3413.0,1158.1L3417.4,1158.1L3417.4,1155.6L3421.8,1155.6L3421.8,1155.8L3426.2,1155.8L3426.2,1155.6L3430.6,1155.6L3430.6,1154.6L3435.0,1154.6L3435.0,1154.8L3439.4,1154.8L3439.4,1155.1L3443.8,1155.1L3443.8,1157.1L3448.2,1157.1L3448.2,1161.5" fill="none" stroke="#404042" stroke-width="5.6" stroke-linejoin="miter"/>
<path d="M2101.8,1161.5L2101.8,1153.2L2106.2,1153.2L2106.2,1158.1L2110.6,1158.1L2110.6,1157.7L2115.0,1157.7L2115.0,1157.2L2119.4,1157.2L2119.4,1155.8L2123.8,1155.8L2123.8,1154.8L2128.2,1154.8L2128.2,1155.7L2132.6,1155.7L2132.6,1156.1L2137.0,1156.1L2137.0,1158.6L2141.4,1158.6L2141.4,1156.4L2145.8,1156.4L2145.8,1155.7L2150.2,1155.7L2150.2,1158.1L2154.6,1158.1L2154.6,1154.7L2159.0,1154.7L2159.0,1156.3L2163.4,1156.3L2163.4,1158.0L2167.8,1158.0L2167.8,1156.9L2172.2,1156.9L2172.2,1158.3L2176.6,1158.3L2176.6,1155.5L2181.0,1155.5L2181.0,1156.5L2185.4,1156.5L2185.4,1156.6L2189.8,1156.6L2189.8,1155.4L2194.2,1155.4L2194.2,1156.7L2198.6,1156.7L2198.6,1154.6L2203.0,1154.6L2203.0,1155.4L2207.4,1155.4L2207.4,1156.4L2211.8,1156.4L2211.8,1154.4L2216.2,1154.4L2216.2,1155.3L2220.6,1155.3L2220.6,1157.4L2225.0,1157.4L2225.0,1155.0L2229.4,1155.0L2229.4,1156.3L2233.8,1156.3L2233.8,1153.0L2238.2,1153.0L2238.2,1147.0L2242.6,1147.0L2242.6,1144.7L2247.0,1144.7L2247.0,1143.9L2251.4,1143.9L2251.4,1145.5L2255.8,1145.5L2255.8,1150.1L2260.2,1150.1L2260.2,1153.0L2264.6,1153.0L2264.6,1146.6L2269.0,1146.6L2269.0,1147.8L2273.4,1147.8L2273.4,1143.7L2277.8,1143.7L2277.8,1143.0L2282.2,1143.0L2282.2,1141.5L2286.6,1141.5L2286.6,1140.3L2291.0,1140.3L2291.0,1139.5L2295.4,1139.5L2295.4,1138.2L2299.8,1138.2L2299.8,1142.2L2304.2,1142.2L2304.2,1137.3L2308.6,1137.3L2308.6,1136.2L2313.0,1136.2L2313.0,1139.5L2317.4,1139.5L2317.4,1139.2L2321.8,1139.2L2321.8,1135.5L2326.2,1135.5L2326.2,1136.1L2330.6,1136.1L2330.6,1122.3L2335.0,1122.3L2335.0,1123.3L2339.4,1123.3L2339.4,1123.8L2343.8,1123.8L2343.8,1134.9L2348.2,1134.9L2348.2,1136.8L2352.6,1136.8L2352.6,1127.1L2357.0,1127.1L2357.0,1104.5L2361.4,1104.5L2361.4,1124.4L2365.8,1124.4L2365.8,1124.5L2370.2,1124.5L2370.2,1132.7L2374.6,1132.7L2374.6,1138.6L2379.0,1138.6L2379.0,1116.3L2383.4,1116.3L2383.4,1110.8L2387.8,1110.8L2387.8,1091.7L2392.2,1091.7L2392.2,1096.7L2396.6,1096.7L2396.6,1086.6L2401.0,1086.6L2401.0,1088.8L2405.4,1088.8L2405.4,1091.7L2409.8,1091.7L2409.8,1090.9L2414.2,1090.9L2414.2,1081.9L2418.6,1081.9L2418.6,1095.2L2423.0,1095.2L2423.0,1104.4L2427.4,1104.4L2427.4,1096.1L2431.8,1096.1L2431.8,1084.8L2436.2,1084.8L2436.2,1077.1L2440.6,1077.1L2440.6,994.4L2445.0,994.4L2445.0,1073.9L2449.4,1073.9L2449.4,1012.7L2453.8,1012.7L2453.8,1028.2L2458.2,1028.2L2458.2,1009.7L2462.6,1009.7L2462.6,1045.5L2467.0,1045.5L2467.0,1015.1L2471.4,1015.1L2471.4,1078.3L2475.8,1078.3L2475.8,1074.0L2480.2,1074.0L2480.2,1074.3L2484.6,1074.3L2484.6,1099.9L2489.0,1099.9L2489.0,1049.4L2493.4,1049.4L2493.4,1063.5L2497.8,1063.5L2497.8,1048.6L2502.2,1048.6L2502.2,1012.1L2506.6,1012.1L2506.6,996.1L2511.0,996.1L2511.0,1001.9L2515.4,1001.9L2515.4,1019.7L2519.8,1019.7L2519.8,1000.9L2524.2,1000.9L2524.2,970.7L2528.6,970.7L2528.6,953.9L2533.0,953.9L2533.0,991.1L2537.4,991.1L2537.4,1030.3L2541.8,1030.3L2541.8,1068.7L2546.2,1068.7L2546.2,1025.7L2550.6,1025.7L2550.6,1018.0L2555.0,1018.0L2555.0,1058.3L2559.4,1058.3L2559.4,1023.3L2563.8,1023.3L2563.8,1022.5L2568.2,1022.5L2568.2,1047.9L2572.6,1047.9L2572.6,1021.1L2577.0,1021.1L2577.0,1014.5L2581.4,1014.5L2581.4,1052.0L2585.8,1052.0L2585.8,1038.9L2590.2,1038.9L2590.2,1091.1L2594.6,1091.1L2594.6,984.2L2599.0,984.2L2599.0,1053.1L2603.4,1053.1L2603.4,978.8L2607.8,978.8L2607.8,1060.4L2612.2,1060.4L2612.2,1001.2L2616.6,1001.2L2616.6,1010.9L2621.0,1010.9L2621.0,1000.0L2625.4,1000.0L2625.4,1055.8L2629.8,1055.8L2629.8,1001.2L2634.2,1001.2L2634.2,1025.4L2638.6,1025.4L2638.6,1011.2L2643.0,1011.2L2643.0,1017.0L2647.4,1017.0L2647.4,1044.2L2651.8,1044.2L2651.8,1048.9L2656.2,1048.9L2656.2,1120.2L2660.6,1120.2L2660.6,1054.3L2665.0,1054.3L2665.0,1061.7L2669.4,1061.7L2669.4,1058.7L2673.8,1058.7L2673.8,968.9L2678.2,968.9L2678.2,1004.4L2682.6,1004.4L2682.6,1050.3L2687.0,1050.3L2687.0,1073.4L2691.4,1073.4L2691.4,1048.3L2695.8,1048.3L2695.8,1046.8L2700.2,1046.8L2700.2,993.0L2704.6,993.0L2704.6,1044.8L2709.0,1044.8L2709.0,1022.7L2713.4,1022.7L2713.4,1016.8L2717.8,1016.8L2717.8,1041.6L2722.2,1041.6L2722.2,1071.4L2726.6,1071.4L2726.6,1076.1L2731.0,1076.1L2731.0,991.7L2735.4,991.7L2735.4,1068.8L2739.8,1068.8L2739.8,1040.0L2744.2,1040.0L2744.2,1036.5L2748.6,1036.5L2748.6,1042.1L2753.0,1042.1L2753.0,1030.6L2757.4,1030.6L2757.4,1048.2L2761.8,1048.2L2761.8,1046.1L2766.2,1046.1L2766.2,1091.0L2770.6,1091.0L2770.6,994.0L2775.0,994.0L2775.0,994.0L2779.4,994.0L2779.4,1044.3L2783.8,1044.3L2783.8,1059.7L2788.2,1059.7L2788.2,1102.0L2792.6,1102.0L2792.6,1070.6L2797.0,1070.6L2797.0,1028.4L2801.4,1028.4L2801.4,1005.6L2805.8,1005.6L2805.8,1033.4L2810.2,1033.4L2810.2,1051.3L2814.6,1051.3L2814.6,1058.4L2819.0,1058.4L2819.0,997.6L2823.4,997.6L2823.4,1038.7L2827.8,1038.7L2827.8,1074.9L2832.2,1074.9L2832.2,1057.3L2836.6,1057.3L2836.6,1034.8L2841.0,1034.8L2841.0,1061.0L2845.4,1061.0L2845.4,1023.5L2849.8,1023.5L2849.8,1055.6L2854.2,1055.6L2854.2,1058.4L2858.6,1058.4L2858.6,1015.5L2863.0,1015.5L2863.0,1035.1L2867.4,1035.1L2867.4,1009.0L2871.8,1009.0L2871.8,1057.7L2876.2,1057.7L2876.2,1065.6L2880.6,1065.6L2880.6,1064.3L2885.0,1064.3L2885.0,1076.6L2889.4,1076.6L2889.4,1055.5L2893.8,1055.5L2893.8,1040.6L2898.2,1040.6L2898.2,1091.7L2902.6,1091.7L2902.6,1077.8L2907.0,1077.8L2907.0,1044.7L2911.4,1044.7L2911.4,1059.5L2915.8,1059.5L2915.8,1077.7L2920.2,1077.7L2920.2,1052.9L2924.6,1052.9L2924.6,1063.4L2929.0,1063.4L2929.0,1036.7L2933.4,1036.7L2933.4,1069.2L2937.8,1069.2L2937.8,1053.9L2942.2,1053.9L2942.2,1055.3L2946.6,1055.3L2946.6,1087.4L2951.0,1087.4L2951.0,1082.0L2955.4,1082.0L2955.4,1066.9L2959.8,1066.9L2959.8,1012.6L2964.2,1012.6L2964.2,1042.6L2968.6,1042.6L2968.6,1093.3L2973.0,1093.3L2973.0,1052.2L2977.4,1052.2L2977.4,1081.7L2981.8,1081.7L2981.8,1052.2L2986.2,1052.2L2986.2,1072.9L2990.6,1072.9L2990.6,1080.9L2995.0,1080.9L2995.0,989.0L2999.4,989.0L2999.4,1045.1L3003.8,1045.1L3003.8,1093.6L3008.2,1093.6L3008.2,1072.0L3012.6,1072.0L3012.6,1135.6L3017.0,1135.6L3017.0,1079.3L3021.4,1079.3L3021.4,1061.6L3025.8,1061.6L3025.8,1060.1L3030.2,1060.1L3030.2,1048.1L3034.6,1048.1L3034.6,1082.3L3039.0,1082.3L3039.0,1058.0L3043.4,1058.0L3043.4,1082.9L3047.8,1082.9L3047.8,1091.3L3052.2,1091.3L3052.2,1058.9L3056.6,1058.9L3056.6,1066.6L3061.0,1066.6L3061.0,1096.9L3065.4,1096.9L3065.4,1078.9L3069.8,1078.9L3069.8,1098.3L3074.2,1098.3L3074.2,1110.8L3078.6,1110.8L3078.6,1101.6L3083.0,1101.6L3083.0,1114.5L3087.4,1114.5L3087.4,1064.5L3091.8,1064.5L3091.8,1100.9L3096.2,1100.9L3096.2,1101.5L3100.6,1101.5L3100.6,1061.3L3105.0,1061.3L3105.0,1072.3L3109.4,1072.3L3109.4,1030.7L3113.8,1030.7L3113.8,1084.5L3118.2,1084.5L3118.2,1098.9L3122.6,1098.9L3122.6,1079.6L3127.0,1079.6L3127.0,1087.8L3131.4,1087.8L3131.4,1081.1L3135.8,1081.1L3135.8,1092.0L3140.2,1092.0L3140.2,1069.6L3144.6,1069.6L3144.6,1071.3L3149.0,1071.3L3149.0,1063.0L3153.4,1063.0L3153.4,1068.9L3157.8,1068.9L3157.8,1085.1L3162.2,1085.1L3162.2,1104.4L3166.6,1104.4L3166.6,1067.9L3171.0,1067.9L3171.0,1058.0L3175.4,1058.0L3175.4,1090.3L3179.8,1090.3L3179.8,1066.5L3184.2,1066.5L3184.2,1091.0L3188.6,1091.0L3188.6,1120.2L3193.0,1120.2L3193.0,1090.9L3197.4,1090.9L3197.4,1091.9L3201.8,1091.9L3201.8,1061.2L3206.2,1061.2L3206.2,1107.9L3210.6,1107.9L3210.6,1074.3L3215.0,1074.3L3215.0,1089.9L3219.4,1089.9L3219.4,1110.5L3223.8,1110.5L3223.8,1076.1L3228.2,1076.1L3228.2,1100.3L3232.6,1100.3L3232.6,1101.2L3237.0,1101.2L3237.0,1083.4L3241.4,1083.4L3241.4,1128.3L3245.8,1128.3L3245.8,1094.7L3250.2,1094.7L3250.2,1107.2L3254.6,1107.2L3254.6,1115.1L3259.0,1115.1L3259.0,1115.5L3263.4,1115.5L3263.4,1108.1L3267.8,1108.1L3267.8,1100.4L3272.2,1100.4L3272.2,1110.1L3276.6,1110.1L3276.6,1107.3L3281.0,1107.3L3281.0,1110.5L3285.4,1110.5L3285.4,1117.1L3289.8,1117.1L3289.8,1116.3L3294.2,1116.3L3294.2,1118.2L3298.6,1118.2L3298.6,1104.6L3303.0,1104.6L3303.0,1116.0L3307.4,1116.0L3307.4,1122.1L3311.8,1122.1L3311.8,1122.4L3316.2,1122.4L3316.2,1117.8L3320.6,1117.8L3320.6,1125.8L3325.0,1125.8L3325.0,1110.6L3329.4,1110.6L3329.4,1114.3L3333.8,1114.3L3333.8,1109.9L3338.2,1109.9L3338.2,1132.3L3342.6,1132.3L3342.6,1118.3L3347.0,1118.3L3347.0,1123.6L3351.4,1123.6L3351.4,1102.5L3355.8,1102.5L3355.8,1115.0L3360.2,1115.0L3360.2,1099.3L3364.6,1099.3L3364.6,1111.0L3369.0,1111.0L3369.0,1091.4L3373.4,1091.4L3373.4,1083.0L3377.8,1083.0L3377.8,1110.8L3382.2,1110.8L3382.2,1099.9L3386.6,1099.9L3386.6,1125.2L3391.0,1125.2L3391.0,1101.3L3395.4,1101.3L3395.4,1144.5L3399.8,1144.5L3399.8,1125.8L3404.2,1125.8L3404.2,1115.8L3408.6,1115.8L3408.6,1107.3L3413.0,1107.3L3413.0,1107.5L3417.4,1107.5L3417.4,1126.2L3421.8,1126.2L3421.8,1108.1L3426.2,1108.1L3426.2,1121.0L3430.6,1121.0L3430.6,1112.8L3435.0,1112.8L3435.0,1100.6L3439.4,1100.6L3439.4,1118.5L3443.8,1118.5L3443.8,1115.8L3448.2,1115.8L3448.2,1161.5Z" fill="#0064B7" fill-opacity="0.65" stroke="none"/>
<path d="M2101.8,1161.5L2101.8,1153.2L2106.2,1153.2L2106.2,1158.1L2110.6,1158.1L2110.6,1157.7L2115.0,1157.7L2115.0,1157.2L2119.4,1157.2L2119.4,1155.8L2123.8,1155.8L2123.8,1154.8L2128.2,1154.8L2128.2,1155.7L2132.6,1155.7L2132.6,1156.1L2137.0,1156.1L2137.0,1158.6L2141.4,1158.6L2141.4,1156.4L2145.8,1156.4L2145.8,1155.7L2150.2,1155.7L2150.2,1158.1L2154.6,1158.1L2154.6,1154.7L2159.0,1154.7L2159.0,1156.3L2163.4,1156.3L2163.4,1158.0L2167.8,1158.0L2167.8,1156.9L2172.2,1156.9L2172.2,1158.3L2176.6,1158.3L2176.6,1155.5L2181.0,1155.5L2181.0,1156.5L2185.4,1156.5L2185.4,1156.6L2189.8,1156.6L2189.8,1155.4L2194.2,1155.4L2194.2,1156.7L2198.6,1156.7L2198.6,1154.6L2203.0,1154.6L2203.0,1155.4L2207.4,1155.4L2207.4,1156.4L2211.8,1156.4L2211.8,1154.4L2216.2,1154.4L2216.2,1155.3L2220.6,1155.3L2220.6,1157.4L2225.0,1157.4L2225.0,1155.0L2229.4,1155.0L2229.4,1156.3L2233.8,1156.3L2233.8,1153.0L2238.2,1153.0L2238.2,1147.0L2242.6,1147.0L2242.6,1144.7L2247.0,1144.7L2247.0,1143.9L2251.4,1143.9L2251.4,1145.5L2255.8,1145.5L2255.8,1150.1L2260.2,1150.1L2260.2,1153.0L2264.6,1153.0L2264.6,1146.6L2269.0,1146.6L2269.0,1147.8L2273.4,1147.8L2273.4,1143.7L2277.8,1143.7L2277.8,1143.0L2282.2,1143.0L2282.2,1141.5L2286.6,1141.5L2286.6,1140.3L2291.0,1140.3L2291.0,1139.5L2295.4,1139.5L2295.4,1138.2L2299.8,1138.2L2299.8,1142.2L2304.2,1142.2L2304.2,1137.3L2308.6,1137.3L2308.6,1136.2L2313.0,1136.2L2313.0,1139.5L2317.4,1139.5L2317.4,1139.2L2321.8,1139.2L2321.8,1135.5L2326.2,1135.5L2326.2,1136.1L2330.6,1136.1L2330.6,1122.3L2335.0,1122.3L2335.0,1123.3L2339.4,1123.3L2339.4,1123.8L2343.8,1123.8L2343.8,1134.9L2348.2,1134.9L2348.2,1136.8L2352.6,1136.8L2352.6,1127.1L2357.0,1127.1L2357.0,1104.5L2361.4,1104.5L2361.4,1124.4L2365.8,1124.4L2365.8,1124.5L2370.2,1124.5L2370.2,1132.7L2374.6,1132.7L2374.6,1138.6L2379.0,1138.6L2379.0,1116.3L2383.4,1116.3L2383.4,1110.8L2387.8,1110.8L2387.8,1091.7L2392.2,1091.7L2392.2,1096.7L2396.6,1096.7L2396.6,1086.6L2401.0,1086.6L2401.0,1088.8L2405.4,1088.8L2405.4,1091.7L2409.8,1091.7L2409.8,1090.9L2414.2,1090.9L2414.2,1081.9L2418.6,1081.9L2418.6,1095.2L2423.0,1095.2L2423.0,1104.4L2427.4,1104.4L2427.4,1096.1L2431.8,1096.1L2431.8,1084.8L2436.2,1084.8L2436.2,1077.1L2440.6,1077.1L2440.6,994.4L2445.0,994.4L2445.0,1073.9L2449.4,1073.9L2449.4,1012.7L2453.8,1012.7L2453.8,1028.2L2458.2,1028.2L2458.2,1009.7L2462.6,1009.7L2462.6,1045.5L2467.0,1045.5L2467.0,1015.1L2471.4,1015.1L2471.4,1078.3L2475.8,1078.3L2475.8,1074.0L2480.2,1074.0L2480.2,1074.3L2484.6,1074.3L2484.6,1099.9L2489.0,1099.9L2489.0,1049.4L2493.4,1049.4L2493.4,1063.5L2497.8,1063.5L2497.8,1048.6L2502.2,1048.6L2502.2,1012.1L2506.6,1012.1L2506.6,996.1L2511.0,996.1L2511.0,1001.9L2515.4,1001.9L2515.4,1019.7L2519.8,1019.7L2519.8,1000.9L2524.2,1000.9L2524.2,970.7L2528.6,970.7L2528.6,953.9L2533.0,953.9L2533.0,991.1L2537.4,991.1L2537.4,1030.3L2541.8,1030.3L2541.8,1068.7L2546.2,1068.7L2546.2,1025.7L2550.6,1025.7L2550.6,1018.0L2555.0,1018.0L2555.0,1058.3L2559.4,1058.3L2559.4,1023.3L2563.8,1023.3L2563.8,1022.5L2568.2,1022.5L2568.2,1047.9L2572.6,1047.9L2572.6,1021.1L2577.0,1021.1L2577.0,1014.5L2581.4,1014.5L2581.4,1052.0L2585.8,1052.0L2585.8,1038.9L2590.2,1038.9L2590.2,1091.1L2594.6,1091.1L2594.6,984.2L2599.0,984.2L2599.0,1053.1L2603.4,1053.1L2603.4,978.8L2607.8,978.8L2607.8,1060.4L2612.2,1060.4L2612.2,1001.2L2616.6,1001.2L2616.6,1010.9L2621.0,1010.9L2621.0,1000.0L2625.4,1000.0L2625.4,1055.8L2629.8,1055.8L2629.8,1001.2L2634.2,1001.2L2634.2,1025.4L2638.6,1025.4L2638.6,1011.2L2643.0,1011.2L2643.0,1017.0L2647.4,1017.0L2647.4,1044.2L2651.8,1044.2L2651.8,1048.9L2656.2,1048.9L2656.2,1120.2L2660.6,1120.2L2660.6,1054.3L2665.0,1054.3L2665.0,1061.7L2669.4,1061.7L2669.4,1058.7L2673.8,1058.7L2673.8,968.9L2678.2,968.9L2678.2,1004.4L2682.6,1004.4L2682.6,1050.3L2687.0,1050.3L2687.0,1073.4L2691.4,1073.4L2691.4,1048.3L2695.8,1048.3L2695.8,1046.8L2700.2,1046.8L2700.2,993.0L2704.6,993.0L2704.6,1044.8L2709.0,1044.8L2709.0,1022.7L2713.4,1022.7L2713.4,1016.8L2717.8,1016.8L2717.8,1041.6L2722.2,1041.6L2722.2,1071.4L2726.6,1071.4L2726.6,1076.1L2731.0,1076.1L2731.0,991.7L2735.4,991.7L2735.4,1068.8L2739.8,1068.8L2739.8,1040.0L2744.2,1040.0L2744.2,1036.5L2748.6,1036.5L2748.6,1042.1L2753.0,1042.1L2753.0,1030.6L2757.4,1030.6L2757.4,1048.2L2761.8,1048.2L2761.8,1046.1L2766.2,1046.1L2766.2,1091.0L2770.6,1091.0L2770.6,994.0L2775.0,994.0L2775.0,994.0L2779.4,994.0L2779.4,1044.3L2783.8,1044.3L2783.8,1059.7L2788.2,1059.7L2788.2,1102.0L2792.6,1102.0L2792.6,1070.6L2797.0,1070.6L2797.0,1028.4L2801.4,1028.4L2801.4,1005.6L2805.8,1005.6L2805.8,1033.4L2810.2,1033.4L2810.2,1051.3L2814.6,1051.3L2814.6,1058.4L2819.0,1058.4L2819.0,997.6L2823.4,997.6L2823.4,1038.7L2827.8,1038.7L2827.8,1074.9L2832.2,1074.9L2832.2,1057.3L2836.6,1057.3L2836.6,1034.8L2841.0,1034.8L2841.0,1061.0L2845.4,1061.0L2845.4,1023.5L2849.8,1023.5L2849.8,1055.6L2854.2,1055.6L2854.2,1058.4L2858.6,1058.4L2858.6,1015.5L2863.0,1015.5L2863.0,1035.1L2867.4,1035.1L2867.4,1009.0L2871.8,1009.0L2871.8,1057.7L2876.2,1057.7L2876.2,1065.6L2880.6,1065.6L2880.6,1064.3L2885.0,1064.3L2885.0,1076.6L2889.4,1076.6L2889.4,1055.5L2893.8,1055.5L2893.8,1040.6L2898.2,1040.6L2898.2,1091.7L2902.6,1091.7L2902.6,1077.8L2907.0,1077.8L2907.0,1044.7L2911.4,1044.7L2911.4,1059.5L2915.8,1059.5L2915.8,1077.7L2920.2,1077.7L2920.2,1052.9L2924.6,1052.9L2924.6,1063.4L2929.0,1063.4L2929.0,1036.7L2933.4,1036.7L2933.4,1069.2L2937.8,1069.2L2937.8,1053.9L2942.2,1053.9L2942.2,1055.3L2946.6,1055.3L2946.6,1087.4L2951.0,1087.4L2951.0,1082.0L2955.4,1082.0L2955.4,1066.9L2959.8,1066.9L2959.8,1012.6L2964.2,1012.6L2964.2,1042.6L2968.6,1042.6L2968.6,1093.3L2973.0,1093.3L2973.0,1052.2L2977.4,1052.2L2977.4,1081.7L2981.8,1081.7L2981.8,1052.2L2986.2,1052.2L2986.2,1072.9L2990.6,1072.9L2990.6,1080.9L2995.0,1080.9L2995.0,989.0L2999.4,989.0L2999.4,1045.1L3003.8,1045.1L3003.8,1093.6L3008.2,1093.6L3008.2,1072.0L3012.6,1072.0L3012.6,1135.6L3017.0,1135.6L3017.0,1079.3L3021.4,1079.3L3021.4,1061.6L3025.8,1061.6L3025.8,1060.1L3030.2,1060.1L3030.2,1048.1L3034.6,1048.1L3034.6,1082.3L3039.0,1082.3L3039.0,1058.0L3043.4,1058.0L3043.4,1082.9L3047.8,1082.9L3047.8,1091.3L3052.2,1091.3L3052.2,1058.9L3056.6,1058.9L3056.6,1066.6L3061.0,1066.6L3061.0,1096.9L3065.4,1096.9L3065.4,1078.9L3069.8,1078.9L3069.8,1098.3L3074.2,1098.3L3074.2,1110.8L3078.6,1110.8L3078.6,1101.6L3083.0,1101.6L3083.0,1114.5L3087.4,1114.5L3087.4,1064.5L3091.8,1064.5L3091.8,1100.9L3096.2,1100.9L3096.2,1101.5L3100.6,1101.5L3100.6,1061.3L3105.0,1061.3L3105.0,1072.3L3109.4,1072.3L3109.4,1030.7L3113.8,1030.7L3113.8,1084.5L3118.2,1084.5L3118.2,1098.9L3122.6,1098.9L3122.6,1079.6L3127.0,1079.6L3127.0,1087.8L3131.4,1087.8L3131.4,1081.1L3135.8,1081.1L3135.8,1092.0L3140.2,1092.0L3140.2,1069.6L3144.6,1069.6L3144.6,1071.3L3149.0,1071.3L3149.0,1063.0L3153.4,1063.0L3153.4,1068.9L3157.8,1068.9L3157.8,1085.1L3162.2,1085.1L3162.2,1104.4L3166.6,1104.4L3166.6,1067.9L3171.0,1067.9L3171.0,1058.0L3175.4,1058.0L3175.4,1090.3L3179.8,1090.3L3179.8,1066.5L3184.2,1066.5L3184.2,1091.0L3188.6,1091.0L3188.6,1120.2L3193.0,1120.2L3193.0,1090.9L3197.4,1090.9L3197.4,1091.9L3201.8,1091.9L3201.8,1061.2L3206.2,1061.2L3206.2,1107.9L3210.6,1107.9L3210.6,1074.3L3215.0,1074.3L3215.0,1089.9L3219.4,1089.9L3219.4,1110.5L3223.8,1110.5L3223.8,1076.1L3228.2,1076.1L3228.2,1100.3L3232.6,1100.3L3232.6,1101.2L3237.0,1101.2L3237.0,1083.4L3241.4,1083.4L3241.4,1128.3L3245.8,1128.3L3245.8,1094.7L3250.2,1094.7L3250.2,1107.2L3254.6,1107.2L3254.6,1115.1L3259.0,1115.1L3259.0,1115.5L3263.4,1115.5L3263.4,1108.1L3267.8,1108.1L3267.8,1100.4L3272.2,1100.4L3272.2,1110.1L3276.6,1110.1L3276.6,1107.3L3281.0,1107.3L3281.0,1110.5L3285.4,1110.5L3285.4,1117.1L3289.8,1117.1L3289.8,1116.3L3294.2,1116.3L3294.2,1118.2L3298.6,1118.2L3298.6,1104.6L3303.0,1104.6L3303.0,1116.0L3307.4,1116.0L3307.4,1122.1L3311.8,1122.1L3311.8,1122.4L3316.2,1122.4L3316.2,1117.8L3320.6,1117.8L3320.6,1125.8L3325.0,1125.8L3325.0,1110.6L3329.4,1110.6L3329.4,1114.3L3333.8,1114.3L3333.8,1109.9L3338.2,1109.9L3338.2,1132.3L3342.6,1132.3L3342.6,1118.3L3347.0,1118.3L3347.0,1123.6L3351.4,1123.6L3351.4,1102.5L3355.8,1102.5L3355.8,1115.0L3360.2,1115.0L3360.2,1099.3L3364.6,1099.3L3364.6,1111.0L3369.0,1111.0L3369.0,1091.4L3373.4,1091.4L3373.4,1083.0L3377.8,1083.0L3377.8,1110.8L3382.2,1110.8L3382.2,1099.9L3386.6,1099.9L3386.6,1125.2L3391.0,1125.2L3391.0,1101.3L3395.4,1101.3L3395.4,1144.5L3399.8,1144.5L3399.8,1125.8L3404.2,1125.8L3404.2,1115.8L3408.6,1115.8L3408.6,1107.3L3413.0,1107.3L3413.0,1107.5L3417.4,1107.5L3417.4,1126.2L3421.8,1126.2L3421.8,1108.1L3426.2,1108.1L3426.2,1121.0L3430.6,1121.0L3430.6,1112.8L3435.0,1112.8L3435.0,1100.6L3439.4,1100.6L3439.4,1118.5L3443.8,1118.5L3443.8,1115.8L3448.2,1115.8L3448.2,1161.5" fill="none" stroke="#0F5DB5" stroke-width="5.6" stroke-linejoin="miter"/>
</g>
<rect x="2101.8" y="81.9" width="1344.7999999999997" height="1079.6" fill="none" stroke="#2a2a2a" stroke-width="1.6"/>
<line x1="2550.1" y1="81.9" x2="2550.1" y2="95.9" stroke="#2a2a2a" stroke-width="1.5" />
<line x1="2998.3" y1="81.9" x2="2998.3" y2="95.9" stroke="#2a2a2a" stroke-width="1.5" />
<text transform="translate(1836.00,169.50) scale(1.0450,1.0000)" x="-5.67" y="0" fill="#000" stroke="#000" stroke-width="0.9" style='font-family:"Liberation Sans", sans-serif;font-size:91.5px;font-kerning:none;'>(b)</text>
<text transform="translate(1982.00,107.70) scale(0.9913,1.0000)" x="-4.53" y="0" fill="#202020" stroke="#202020" stroke-width="0.9" style='font-family:"Liberation Sans", sans-serif;font-size:90px;font-kerning:none;'>25</text>
<text transform="translate(2031.00,1186.00) scale(1.0460,1.0000)" x="-3.52" y="0" fill="#202020" stroke="#202020" stroke-width="0.9" style='font-family:"Liberation Sans", sans-serif;font-size:90px;font-kerning:none;'>0</text>
<text transform="translate(2080.29,1260.00) scale(1.0000,1.0000)" x="-3.52" y="0" fill="#202020" stroke="#202020" stroke-width="0.9" style='font-family:"Liberation Sans", sans-serif;font-size:90px;font-kerning:none;'>0</text>
<text transform="translate(2491.02,1260.00) scale(1.0000,1.0000)" x="-3.52" y="0" fill="#202020" stroke="#202020" stroke-width="0.9" style='font-family:"Liberation Sans", sans-serif;font-size:90px;font-kerning:none;'>0.2</text>
<text transform="translate(2939.28,1260.00) scale(1.0000,1.0000)" x="-3.52" y="0" fill="#202020" stroke="#202020" stroke-width="0.9" style='font-family:"Liberation Sans", sans-serif;font-size:90px;font-kerning:none;'>0.4</text>
<text transform="translate(3387.54,1260.00) scale(1.0000,1.0000)" x="-3.52" y="0" fill="#202020" stroke="#202020" stroke-width="0.9" style='font-family:"Liberation Sans", sans-serif;font-size:90px;font-kerning:none;'>0.6</text>
<text transform="translate(1947.7,788) rotate(-90) translate(0.00,0.00) scale(1.0451,1.0000)" x="-8.12" y="0" fill="#202020" stroke="#202020" stroke-width="0.9" style='font-family:"Liberation Sans", sans-serif;font-size:99px;font-kerning:none;'>Density</text>
<text transform="translate(2301.00,1328.36) scale(0.9742,1.0141)" x="-3.03" y="0" fill="#1a1a1a" style='font-family:"Liberation Serif", serif;font-size:100.0px;font-kerning:none;font-style:italic;'>d</text>
<text transform="translate(2350.50,1329.45) scale(0.9464,0.9655)" x="-0.05" y="0" fill="#1a1a1a" style='font-family:"Liberation Serif", serif;font-size:100.0px;font-kerning:none;font-style:italic;'>g</text>
<text transform="translate(2397.00,1343.98) scale(0.6865,0.6009)" x="-2.98" y="0" fill="#1a1a1a" style='font-family:"Liberation Serif", serif;font-size:100.0px;font-kerning:none;font-style:italic;'>a</text>
<line x1="2286.0" y1="1372.6" x2="2448.0" y2="1372.6" stroke="#1a1a1a" stroke-width="3" />
<text transform="translate(2290.00,1468.56) scale(0.9446,1.0169)" x="-3.03" y="0" fill="#1a1a1a" style='font-family:"Liberation Serif", serif;font-size:100.0px;font-kerning:none;font-style:italic;'>d</text>
<text transform="translate(2343.00,1468.70) scale(1.1007,1.0034)" x="0.54" y="0" fill="#1a1a1a" style='font-family:"Liberation Serif", serif;font-size:100.0px;font-kerning:none;font-style:italic;'>R</text>
<text transform="translate(2414.60,1483.93) scale(0.7327,0.5822)" x="-1.22" y="0" fill="#1a1a1a" style='font-family:"Liberation Serif", serif;font-size:100.0px;font-kerning:none;font-style:italic;'>s</text>
<text transform="translate(2503.00,1398.93) scale(0.8566,1.1304)" x="-4.39" y="0" fill="#1a1a1a" style='font-family:"Liberation Serif", serif;font-size:100.0px;font-kerning:none;'>(</text>
<text transform="translate(2541.00,1398.30) scale(0.7669,1.0195)" x="-8.79" y="0" fill="#1a1a1a" style='font-family:"Liberation Serif", serif;font-size:100.0px;font-kerning:none;'>1</text>
<text transform="translate(2577.50,1398.50) scale(1.0500,1.0255)" x="-3.81" y="0" fill="#1a1a1a" style='font-family:"Liberation Serif", serif;font-size:100.0px;font-kerning:none;'>0</text>
<text transform="translate(2634.60,1361.29) scale(1.4621,1.0000)" x="-2.79" y="0" fill="#1a1a1a" style='font-family:"Liberation Serif", serif;font-size:56px;font-kerning:none;'>−</text>
<text transform="translate(2683.80,1362.02) scale(0.6536,0.6995)" x="-4.79" y="0" fill="#1a1a1a" style='font-family:"Liberation Serif", serif;font-size:100.0px;font-kerning:none;'>3</text>
<text transform="translate(2755.50,1398.50) scale(1.1832,0.9444)" x="-3.61" y="0" fill="#1a1a1a" style='font-family:"Liberation Serif", serif;font-size:100.0px;font-kerning:none;font-style:italic;'>m</text>
<text transform="translate(2843.00,1398.37) scale(1.0240,0.9523)" x="-1.22" y="0" fill="#1a1a1a" style='font-family:"Liberation Serif", serif;font-size:100.0px;font-kerning:none;font-style:italic;'>s</text>
<text transform="translate(2889.00,1361.29) scale(1.4698,1.0000)" x="-2.79" y="0" fill="#1a1a1a" style='font-family:"Liberation Serif", serif;font-size:56px;font-kerning:none;'>−</text>
<text transform="translate(2943.00,1361.70) scale(0.5965,0.6968)" x="-8.79" y="0" fill="#1a1a1a" style='font-family:"Liberation Serif", serif;font-size:100.0px;font-kerning:none;'>1</text>
<text transform="translate(2981.00,1421.50) scale(1.3245,1.5323)" x="-0.00" y="0" fill="#1a1a1a" style='font-family:"Liberation Serif", serif;font-size:100.0px;font-kerning:none;'>/</text>
<text transform="translate(3033.70,1398.19) scale(1.0916,1.0658)" x="-6.59" y="0" fill="#1a1a1a" style='font-family:"Liberation Serif", serif;font-size:100.0px;font-kerning:none;font-style:italic;'>W</text>
<text transform="translate(3133.70,1398.50) scale(1.2313,0.9444)" x="-3.61" y="0" fill="#1a1a1a" style='font-family:"Liberation Serif", serif;font-size:100.0px;font-kerning:none;font-style:italic;'>m</text>
<text transform="translate(3219.00,1361.29) scale(1.5350,1.0000)" x="-2.79" y="0" fill="#1a1a1a" style='font-family:"Liberation Serif", serif;font-size:56px;font-kerning:none;'>−</text>
<text transform="translate(3268.60,1361.70) scale(0.7084,0.6947)" x="-4.39" y="0" fill="#1a1a1a" style='font-family:"Liberation Serif", serif;font-size:100.0px;font-kerning:none;'>2</text>
<text transform="translate(3311.00,1398.93) scale(0.9344,1.1304)" x="-3.22" y="0" fill="#1a1a1a" style='font-family:"Liberation Serif", serif;font-size:100.0px;font-kerning:none;'>)</text>
</g>
<g id="panel-c">
<line x1="509.4" y1="2383.2" x2="509.4" y2="2196.6" stroke="#1c1c1c" stroke-width="1.4" stroke-dasharray="11.8 7.76"/>
<line x1="509.4" y1="2509.4" x2="509.4" y2="2697.8" stroke="#1c1c1c" stroke-width="1.4" stroke-dasharray="11.8 7.76"/>
<line x1="503.0" y1="2196.6" x2="515.8" y2="2196.6" stroke="#1c1c1c" stroke-width="1.6" />
<line x1="503.0" y1="2697.8" x2="515.8" y2="2697.8" stroke="#1c1c1c" stroke-width="1.6" />
<rect x="496.4" y="2383.2" width="26.0" height="126.2" fill="#DC6A3E" stroke="#222" stroke-width="1.4"/>
<line x1="497.4" y1="2447.3" x2="521.4" y2="2447.3" stroke="#E81123" stroke-width="1.5" />
<circle cx="509.4" cy="2108.9" r="0.9" fill="#E81123" fill-opacity="0.28"/>
<circle cx="509.4" cy="2083.2" r="0.9" fill="#E81123" fill-opacity="0.28"/>
<circle cx="509.4" cy="2070.8" r="0.9" fill="#E81123" fill-opacity="0.28"/>
<circle cx="509.4" cy="2034.0" r="0.9" fill="#E81123" fill-opacity="0.28"/>
<circle cx="509.4" cy="2083.6" r="0.9" fill="#E81123" fill-opacity="0.28"/>
<line x1="562.2" y1="2313.0" x2="562.2" y2="2023.6" stroke="#1c1c1c" stroke-width="1.4" stroke-dasharray="11.8 7.76"/>
<line x1="562.2" y1="2567.3" x2="562.2" y2="2813.6" stroke="#1c1c1c" stroke-width="1.4" stroke-dasharray="11.8 7.76"/>
<line x1="555.8" y1="2023.6" x2="568.6" y2="2023.6" stroke="#1c1c1c" stroke-width="1.6" />
<line x1="555.8" y1="2813.6" x2="568.6" y2="2813.6" stroke="#1c1c1c" stroke-width="1.6" />
<rect x="549.2" y="2313.0" width="26.0" height="254.3" fill="#666666" stroke="#222" stroke-width="1.4"/>
<line x1="550.2" y1="2405.0" x2="574.2" y2="2405.0" stroke="#E81123" stroke-width="1.5" />
<circle cx="562.2" cy="1866.2" r="0.9" fill="#E81123" fill-opacity="0.28"/>
<circle cx="562.2" cy="2015.0" r="0.9" fill="#E81123" fill-opacity="0.28"/>
<circle cx="562.2" cy="1965.6" r="0.9" fill="#E81123" fill-opacity="0.28"/>
<circle cx="562.2" cy="1860.7" r="0.9" fill="#E81123" fill-opacity="0.28"/>
<circle cx="562.2" cy="1930.5" r="0.9" fill="#E81123" fill-opacity="0.28"/>
<line x1="614.9" y1="2722.3" x2="614.9" y2="2620.6" stroke="#1c1c1c" stroke-width="1.4" stroke-dasharray="11.8 7.76"/>
<line x1="614.9" y1="2790.6" x2="614.9" y2="2816.3" stroke="#1c1c1c" stroke-width="1.4" stroke-dasharray="11.8 7.76"/>
<line x1="608.5" y1="2620.6" x2="621.3" y2="2620.6" stroke="#1c1c1c" stroke-width="1.6" />
<line x1="608.5" y1="2816.3" x2="621.3" y2="2816.3" stroke="#1c1c1c" stroke-width="1.6" />
<rect x="601.9" y="2722.3" width="26.0" height="68.3" fill="#2E7BC4" stroke="#222" stroke-width="1.4"/>
<line x1="602.9" y1="2765.0" x2="626.9" y2="2765.0" stroke="#E81123" stroke-width="1.5" />
<circle cx="614.9" cy="2485.7" r="0.9" fill="#E81123" fill-opacity="0.28"/>
<circle cx="614.9" cy="2608.0" r="0.9" fill="#E81123" fill-opacity="0.28"/>
<circle cx="614.9" cy="2567.9" r="0.9" fill="#E81123" fill-opacity="0.28"/>
<circle cx="614.9" cy="2596.6" r="0.9" fill="#E81123" fill-opacity="0.28"/>
<circle cx="614.9" cy="2556.0" r="0.9" fill="#E81123" fill-opacity="0.28"/>
<circle cx="614.9" cy="2550.9" r="0.9" fill="#E81123" fill-opacity="0.28"/>
<circle cx="614.9" cy="2612.5" r="0.9" fill="#E81123" fill-opacity="0.28"/>
<circle cx="614.9" cy="2599.6" r="0.9" fill="#E81123" fill-opacity="0.28"/>
<circle cx="614.9" cy="2593.1" r="0.9" fill="#E81123" fill-opacity="0.28"/>
<circle cx="614.9" cy="2482.2" r="0.9" fill="#E81123" fill-opacity="0.28"/>
<circle cx="614.9" cy="2514.7" r="0.9" fill="#E81123" fill-opacity="0.28"/>
<circle cx="614.9" cy="2604.6" r="0.9" fill="#E81123" fill-opacity="0.28"/>
<circle cx="614.9" cy="2508.2" r="0.9" fill="#E81123" fill-opacity="0.28"/>
<circle cx="614.9" cy="2606.2" r="0.9" fill="#E81123" fill-opacity="0.28"/>
<circle cx="614.9" cy="2543.2" r="0.9" fill="#E81123" fill-opacity="0.28"/>
<circle cx="614.9" cy="2607.1" r="0.9" fill="#E81123" fill-opacity="0.28"/>
<line x1="720.5" y1="2434.2" x2="720.5" y2="2224.6" stroke="#1c1c1c" stroke-width="1.4" stroke-dasharray="11.8 7.76"/>
<line x1="720.5" y1="2588.0" x2="720.5" y2="2812.4" stroke="#1c1c1c" stroke-width="1.4" stroke-dasharray="11.8 7.76"/>
<line x1="714.1" y1="2224.6" x2="726.9" y2="2224.6" stroke="#1c1c1c" stroke-width="1.6" />
<line x1="714.1" y1="2812.4" x2="726.9" y2="2812.4" stroke="#1c1c1c" stroke-width="1.6" />
<rect x="707.5" y="2434.2" width="26.0" height="153.8" fill="#DC6A3E" stroke="#222" stroke-width="1.4"/>
<line x1="708.5" y1="2510.6" x2="732.5" y2="2510.6" stroke="#E81123" stroke-width="1.5" />
<circle cx="720.5" cy="2216.6" r="0.9" fill="#E81123" fill-opacity="0.28"/>
<circle cx="720.5" cy="2080.2" r="0.9" fill="#E81123" fill-opacity="0.28"/>
<circle cx="720.5" cy="2202.7" r="0.9" fill="#E81123" fill-opacity="0.28"/>
<circle cx="720.5" cy="2202.0" r="0.9" fill="#E81123" fill-opacity="0.28"/>
<circle cx="720.5" cy="2051.4" r="0.9" fill="#E81123" fill-opacity="0.28"/>
<line x1="773.2" y1="2434.2" x2="773.2" y2="2085.0" stroke="#1c1c1c" stroke-width="1.4" stroke-dasharray="11.8 7.76"/>
<line x1="773.2" y1="2671.7" x2="773.2" y2="2816.3" stroke="#1c1c1c" stroke-width="1.4" stroke-dasharray="11.8 7.76"/>
<line x1="766.8" y1="2085.0" x2="779.6" y2="2085.0" stroke="#1c1c1c" stroke-width="1.6" />
<line x1="766.8" y1="2816.3" x2="779.6" y2="2816.3" stroke="#1c1c1c" stroke-width="1.6" />
<rect x="760.2" y="2434.2" width="26.0" height="237.5" fill="#666666" stroke="#222" stroke-width="1.4"/>
<line x1="761.2" y1="2636.0" x2="785.2" y2="2636.0" stroke="#E81123" stroke-width="1.5" />
<circle cx="773.2" cy="1940.4" r="0.9" fill="#E81123" fill-opacity="0.28"/>
<circle cx="773.2" cy="2053.6" r="0.9" fill="#E81123" fill-opacity="0.28"/>
<circle cx="773.2" cy="1917.4" r="0.9" fill="#E81123" fill-opacity="0.28"/>
<circle cx="773.2" cy="2013.7" r="0.9" fill="#E81123" fill-opacity="0.28"/>
<circle cx="773.2" cy="1985.7" r="0.9" fill="#E81123" fill-opacity="0.28"/>
<line x1="826.0" y1="2729.6" x2="826.0" y2="2649.8" stroke="#1c1c1c" stroke-width="1.4" stroke-dasharray="11.8 7.76"/>
<line x1="826.0" y1="2784.4" x2="826.0" y2="2816.3" stroke="#1c1c1c" stroke-width="1.4" stroke-dasharray="11.8 7.76"/>
<line x1="819.6" y1="2649.8" x2="832.4" y2="2649.8" stroke="#1c1c1c" stroke-width="1.6" />
<line x1="819.6" y1="2816.3" x2="832.4" y2="2816.3" stroke="#1c1c1c" stroke-width="1.6" />
<rect x="813.0" y="2729.6" width="26.0" height="54.8" fill="#2E7BC4" stroke="#222" stroke-width="1.4"/>
<line x1="814.0" y1="2758.7" x2="838.0" y2="2758.7" stroke="#E81123" stroke-width="1.5" />
<circle cx="826.0" cy="2629.9" r="0.9" fill="#E81123" fill-opacity="0.28"/>
<circle cx="826.0" cy="2505.7" r="0.9" fill="#E81123" fill-opacity="0.28"/>
<circle cx="826.0" cy="2558.8" r="0.9" fill="#E81123" fill-opacity="0.28"/>
<circle cx="826.0" cy="2499.7" r="0.9" fill="#E81123" fill-opacity="0.28"/>
<circle cx="826.0" cy="2516.5" r="0.9" fill="#E81123" fill-opacity="0.28"/>
<circle cx="826.0" cy="2620.1" r="0.9" fill="#E81123" fill-opacity="0.28"/>
<circle cx="826.0" cy="2612.4" r="0.9" fill="#E81123" fill-opacity="0.28"/>
<circle cx="826.0" cy="2633.3" r="0.9" fill="#E81123" fill-opacity="0.28"/>
<circle cx="826.0" cy="2634.9" r="0.9" fill="#E81123" fill-opacity="0.28"/>
<circle cx="826.0" cy="2639.9" r="0.9" fill="#E81123" fill-opacity="0.28"/>
<circle cx="826.0" cy="2619.8" r="0.9" fill="#E81123" fill-opacity="0.28"/>
<circle cx="826.0" cy="2575.0" r="0.9" fill="#E81123" fill-opacity="0.28"/>
<circle cx="826.0" cy="2641.8" r="0.9" fill="#E81123" fill-opacity="0.28"/>
<circle cx="826.0" cy="2561.3" r="0.9" fill="#E81123" fill-opacity="0.28"/>
<circle cx="826.0" cy="2615.4" r="0.9" fill="#E81123" fill-opacity="0.28"/>
<circle cx="826.0" cy="2618.8" r="0.9" fill="#E81123" fill-opacity="0.28"/>
<line x1="931.5" y1="2501.4" x2="931.5" y2="2271.2" stroke="#1c1c1c" stroke-width="1.4" stroke-dasharray="11.8 7.76"/>
<line x1="931.5" y1="2658.3" x2="931.5" y2="2813.6" stroke="#1c1c1c" stroke-width="1.4" stroke-dasharray="11.8 7.76"/>
<line x1="925.1" y1="2271.2" x2="937.9" y2="2271.2" stroke="#1c1c1c" stroke-width="1.6" />
<line x1="925.1" y1="2813.6" x2="937.9" y2="2813.6" stroke="#1c1c1c" stroke-width="1.6" />
<rect x="918.5" y="2501.4" width="26.0" height="156.9" fill="#DC6A3E" stroke="#222" stroke-width="1.4"/>
<line x1="919.5" y1="2583.4" x2="943.5" y2="2583.4" stroke="#E81123" stroke-width="1.5" />
<circle cx="931.5" cy="2139.8" r="0.9" fill="#E81123" fill-opacity="0.28"/>
<circle cx="931.5" cy="2210.5" r="0.9" fill="#E81123" fill-opacity="0.28"/>
<circle cx="931.5" cy="2236.3" r="0.9" fill="#E81123" fill-opacity="0.28"/>
<circle cx="931.5" cy="2210.5" r="0.9" fill="#E81123" fill-opacity="0.28"/>
<circle cx="931.5" cy="2166.1" r="0.9" fill="#E81123" fill-opacity="0.28"/>
<line x1="984.3" y1="2492.9" x2="984.3" y2="2231.0" stroke="#1c1c1c" stroke-width="1.4" stroke-dasharray="11.8 7.76"/>
<line x1="984.3" y1="2679.3" x2="984.3" y2="2816.3" stroke="#1c1c1c" stroke-width="1.4" stroke-dasharray="11.8 7.76"/>
<line x1="977.9" y1="2231.0" x2="990.7" y2="2231.0" stroke="#1c1c1c" stroke-width="1.6" />
<line x1="977.9" y1="2816.3" x2="990.7" y2="2816.3" stroke="#1c1c1c" stroke-width="1.6" />
<rect x="971.3" y="2492.9" width="26.0" height="186.4" fill="#666666" stroke="#222" stroke-width="1.4"/>
<line x1="972.3" y1="2616.0" x2="996.3" y2="2616.0" stroke="#E81123" stroke-width="1.5" />
<circle cx="984.3" cy="2221.3" r="0.9" fill="#E81123" fill-opacity="0.28"/>
<circle cx="984.3" cy="2059.7" r="0.9" fill="#E81123" fill-opacity="0.28"/>
<circle cx="984.3" cy="2222.6" r="0.9" fill="#E81123" fill-opacity="0.28"/>
<circle cx="984.3" cy="2115.8" r="0.9" fill="#E81123" fill-opacity="0.28"/>
<circle cx="984.3" cy="2093.2" r="0.9" fill="#E81123" fill-opacity="0.28"/>
<line x1="1037.1" y1="2744.2" x2="1037.1" y2="2675.5" stroke="#1c1c1c" stroke-width="1.4" stroke-dasharray="11.8 7.76"/>
<line x1="1037.1" y1="2790.6" x2="1037.1" y2="2816.3" stroke="#1c1c1c" stroke-width="1.4" stroke-dasharray="11.8 7.76"/>
<line x1="1030.7" y1="2675.5" x2="1043.5" y2="2675.5" stroke="#1c1c1c" stroke-width="1.6" />
<line x1="1030.7" y1="2816.3" x2="1043.5" y2="2816.3" stroke="#1c1c1c" stroke-width="1.6" />
<rect x="1024.1" y="2744.2" width="26.0" height="46.4" fill="#2E7BC4" stroke="#222" stroke-width="1.4"/>
<line x1="1025.1" y1="2765.7" x2="1049.1" y2="2765.7" stroke="#E81123" stroke-width="1.5" />
<circle cx="1037.1" cy="2667.3" r="0.9" fill="#E81123" fill-opacity="0.28"/>
<circle cx="1037.1" cy="2565.1" r="0.9" fill="#E81123" fill-opacity="0.28"/>
<circle cx="1037.1" cy="2637.4" r="0.9" fill="#E81123" fill-opacity="0.28"/>
<circle cx="1037.1" cy="2605.0" r="0.9" fill="#E81123" fill-opacity="0.28"/>
<circle cx="1037.1" cy="2667.4" r="0.9" fill="#E81123" fill-opacity="0.28"/>
<circle cx="1037.1" cy="2666.4" r="0.9" fill="#E81123" fill-opacity="0.28"/>
<circle cx="1037.1" cy="2657.8" r="0.9" fill="#E81123" fill-opacity="0.28"/>
<circle cx="1037.1" cy="2528.1" r="0.9" fill="#E81123" fill-opacity="0.28"/>
<circle cx="1037.1" cy="2656.4" r="0.9" fill="#E81123" fill-opacity="0.28"/>
<circle cx="1037.1" cy="2571.7" r="0.9" fill="#E81123" fill-opacity="0.28"/>
<circle cx="1037.1" cy="2534.0" r="0.9" fill="#E81123" fill-opacity="0.28"/>
<circle cx="1037.1" cy="2531.2" r="0.9" fill="#E81123" fill-opacity="0.28"/>
<circle cx="1037.1" cy="2640.3" r="0.9" fill="#E81123" fill-opacity="0.28"/>
<circle cx="1037.1" cy="2638.9" r="0.9" fill="#E81123" fill-opacity="0.28"/>
<circle cx="1037.1" cy="2614.0" r="0.9" fill="#E81123" fill-opacity="0.28"/>
<circle cx="1037.1" cy="2567.6" r="0.9" fill="#E81123" fill-opacity="0.28"/>
<line x1="1142.6" y1="2539.3" x2="1142.6" y2="2283.5" stroke="#1c1c1c" stroke-width="1.4" stroke-dasharray="11.8 7.76"/>
<line x1="1142.6" y1="2730.4" x2="1142.6" y2="2816.3" stroke="#1c1c1c" stroke-width="1.4" stroke-dasharray="11.8 7.76"/>
<line x1="1136.2" y1="2283.5" x2="1149.0" y2="2283.5" stroke="#1c1c1c" stroke-width="1.6" />
<line x1="1136.2" y1="2816.3" x2="1149.0" y2="2816.3" stroke="#1c1c1c" stroke-width="1.6" />
<rect x="1129.6" y="2539.3" width="26.0" height="191.1" fill="#DC6A3E" stroke="#222" stroke-width="1.4"/>
<line x1="1130.6" y1="2625.6" x2="1154.6" y2="2625.6" stroke="#E81123" stroke-width="1.5" />
<circle cx="1142.6" cy="2270.7" r="0.9" fill="#E81123" fill-opacity="0.28"/>
<circle cx="1142.6" cy="2168.6" r="0.9" fill="#E81123" fill-opacity="0.28"/>
<circle cx="1142.6" cy="2157.2" r="0.9" fill="#E81123" fill-opacity="0.28"/>
<circle cx="1142.6" cy="2142.0" r="0.9" fill="#E81123" fill-opacity="0.28"/>
<circle cx="1142.6" cy="2274.6" r="0.9" fill="#E81123" fill-opacity="0.28"/>
<line x1="1195.4" y1="2484.5" x2="1195.4" y2="2247.8" stroke="#1c1c1c" stroke-width="1.4" stroke-dasharray="11.8 7.76"/>
<line x1="1195.4" y1="2664.4" x2="1195.4" y2="2815.5" stroke="#1c1c1c" stroke-width="1.4" stroke-dasharray="11.8 7.76"/>
<line x1="1189.0" y1="2247.8" x2="1201.8" y2="2247.8" stroke="#1c1c1c" stroke-width="1.6" />
<line x1="1189.0" y1="2815.5" x2="1201.8" y2="2815.5" stroke="#1c1c1c" stroke-width="1.6" />
<rect x="1182.4" y="2484.5" width="26.0" height="179.9" fill="#666666" stroke="#222" stroke-width="1.4"/>
<line x1="1183.4" y1="2552.8" x2="1207.4" y2="2552.8" stroke="#E81123" stroke-width="1.5" />
<circle cx="1195.4" cy="2084.3" r="0.9" fill="#E81123" fill-opacity="0.28"/>
<circle cx="1195.4" cy="2236.1" r="0.9" fill="#E81123" fill-opacity="0.28"/>
<circle cx="1195.4" cy="2209.4" r="0.9" fill="#E81123" fill-opacity="0.28"/>
<circle cx="1195.4" cy="2162.5" r="0.9" fill="#E81123" fill-opacity="0.28"/>
<circle cx="1195.4" cy="2091.5" r="0.9" fill="#E81123" fill-opacity="0.28"/>
<line x1="1248.1" y1="2749.2" x2="1248.1" y2="2684.0" stroke="#1c1c1c" stroke-width="1.4" stroke-dasharray="11.8 7.76"/>
<line x1="1248.1" y1="2792.9" x2="1248.1" y2="2816.3" stroke="#1c1c1c" stroke-width="1.4" stroke-dasharray="11.8 7.76"/>
<line x1="1241.7" y1="2684.0" x2="1254.5" y2="2684.0" stroke="#1c1c1c" stroke-width="1.6" />
<line x1="1241.7" y1="2816.3" x2="1254.5" y2="2816.3" stroke="#1c1c1c" stroke-width="1.6" />
<rect x="1235.1" y="2749.2" width="26.0" height="43.7" fill="#2E7BC4" stroke="#222" stroke-width="1.4"/>
<line x1="1236.1" y1="2772.2" x2="1260.1" y2="2772.2" stroke="#E81123" stroke-width="1.5" />
<circle cx="1248.1" cy="2649.3" r="0.9" fill="#E81123" fill-opacity="0.28"/>
<circle cx="1248.1" cy="2543.8" r="0.9" fill="#E81123" fill-opacity="0.28"/>
<circle cx="1248.1" cy="2619.2" r="0.9" fill="#E81123" fill-opacity="0.28"/>
<circle cx="1248.1" cy="2652.7" r="0.9" fill="#E81123" fill-opacity="0.28"/>
<circle cx="1248.1" cy="2652.2" r="0.9" fill="#E81123" fill-opacity="0.28"/>
<circle cx="1248.1" cy="2666.6" r="0.9" fill="#E81123" fill-opacity="0.28"/>
<circle cx="1248.1" cy="2673.5" r="0.9" fill="#E81123" fill-opacity="0.28"/>
<circle cx="1248.1" cy="2668.9" r="0.9" fill="#E81123" fill-opacity="0.28"/>
<circle cx="1248.1" cy="2593.3" r="0.9" fill="#E81123" fill-opacity="0.28"/>
<circle cx="1248.1" cy="2526.8" r="0.9" fill="#E81123" fill-opacity="0.28"/>
<circle cx="1248.1" cy="2667.9" r="0.9" fill="#E81123" fill-opacity="0.28"/>
<circle cx="1248.1" cy="2674.8" r="0.9" fill="#E81123" fill-opacity="0.28"/>
<circle cx="1248.1" cy="2529.2" r="0.9" fill="#E81123" fill-opacity="0.28"/>
<circle cx="1248.1" cy="2621.1" r="0.9" fill="#E81123" fill-opacity="0.28"/>
<circle cx="1248.1" cy="2640.6" r="0.9" fill="#E81123" fill-opacity="0.28"/>
<circle cx="1248.1" cy="2661.0" r="0.9" fill="#E81123" fill-opacity="0.28"/>
<line x1="1353.7" y1="2560.4" x2="1353.7" y2="2325.3" stroke="#1c1c1c" stroke-width="1.4" stroke-dasharray="11.8 7.76"/>
<line x1="1353.7" y1="2721.9" x2="1353.7" y2="2815.5" stroke="#1c1c1c" stroke-width="1.4" stroke-dasharray="11.8 7.76"/>
<line x1="1347.3" y1="2325.3" x2="1360.1" y2="2325.3" stroke="#1c1c1c" stroke-width="1.6" />
<line x1="1347.3" y1="2815.5" x2="1360.1" y2="2815.5" stroke="#1c1c1c" stroke-width="1.6" />
<rect x="1340.7" y="2560.4" width="26.0" height="161.5" fill="#DC6A3E" stroke="#222" stroke-width="1.4"/>
<line x1="1341.7" y1="2634.1" x2="1365.7" y2="2634.1" stroke="#E81123" stroke-width="1.5" />
<circle cx="1353.7" cy="2243.4" r="0.9" fill="#E81123" fill-opacity="0.28"/>
<circle cx="1353.7" cy="2192.0" r="0.9" fill="#E81123" fill-opacity="0.28"/>
<circle cx="1353.7" cy="2269.0" r="0.9" fill="#E81123" fill-opacity="0.28"/>
<circle cx="1353.7" cy="2274.6" r="0.9" fill="#E81123" fill-opacity="0.28"/>
<circle cx="1353.7" cy="2315.6" r="0.9" fill="#E81123" fill-opacity="0.28"/>
<line x1="1406.4" y1="2502.5" x2="1406.4" y2="2293.5" stroke="#1c1c1c" stroke-width="1.4" stroke-dasharray="11.8 7.76"/>
<line x1="1406.4" y1="2676.7" x2="1406.4" y2="2815.5" stroke="#1c1c1c" stroke-width="1.4" stroke-dasharray="11.8 7.76"/>
<line x1="1400.0" y1="2293.5" x2="1412.8" y2="2293.5" stroke="#1c1c1c" stroke-width="1.6" />
<line x1="1400.0" y1="2815.5" x2="1412.8" y2="2815.5" stroke="#1c1c1c" stroke-width="1.6" />
<rect x="1393.4" y="2502.5" width="26.0" height="174.2" fill="#666666" stroke="#222" stroke-width="1.4"/>
<line x1="1394.4" y1="2614.1" x2="1418.4" y2="2614.1" stroke="#E81123" stroke-width="1.5" />
<circle cx="1406.4" cy="2137.7" r="0.9" fill="#E81123" fill-opacity="0.28"/>
<circle cx="1406.4" cy="2284.8" r="0.9" fill="#E81123" fill-opacity="0.28"/>
<circle cx="1406.4" cy="2230.6" r="0.9" fill="#E81123" fill-opacity="0.28"/>
<circle cx="1406.4" cy="2157.3" r="0.9" fill="#E81123" fill-opacity="0.28"/>
<circle cx="1406.4" cy="2279.0" r="0.9" fill="#E81123" fill-opacity="0.28"/>
<line x1="1459.2" y1="2755.3" x2="1459.2" y2="2695.0" stroke="#1c1c1c" stroke-width="1.4" stroke-dasharray="11.8 7.76"/>
<line x1="1459.2" y1="2795.2" x2="1459.2" y2="2816.3" stroke="#1c1c1c" stroke-width="1.4" stroke-dasharray="11.8 7.76"/>
<line x1="1452.8" y1="2695.0" x2="1465.6" y2="2695.0" stroke="#1c1c1c" stroke-width="1.6" />
<line x1="1452.8" y1="2816.3" x2="1465.6" y2="2816.3" stroke="#1c1c1c" stroke-width="1.6" />
<rect x="1446.2" y="2755.3" width="26.0" height="39.9" fill="#2E7BC4" stroke="#222" stroke-width="1.4"/>
<line x1="1447.2" y1="2778.0" x2="1471.2" y2="2778.0" stroke="#E81123" stroke-width="1.5" />
<circle cx="1459.2" cy="2596.0" r="0.9" fill="#E81123" fill-opacity="0.28"/>
<circle cx="1459.2" cy="2548.9" r="0.9" fill="#E81123" fill-opacity="0.28"/>
<circle cx="1459.2" cy="2615.3" r="0.9" fill="#E81123" fill-opacity="0.28"/>
<circle cx="1459.2" cy="2584.5" r="0.9" fill="#E81123" fill-opacity="0.28"/>
<circle cx="1459.2" cy="2682.8" r="0.9" fill="#E81123" fill-opacity="0.28"/>
<circle cx="1459.2" cy="2647.5" r="0.9" fill="#E81123" fill-opacity="0.28"/>
<circle cx="1459.2" cy="2679.8" r="0.9" fill="#E81123" fill-opacity="0.28"/>
<circle cx="1459.2" cy="2572.5" r="0.9" fill="#E81123" fill-opacity="0.28"/>
<circle cx="1459.2" cy="2665.7" r="0.9" fill="#E81123" fill-opacity="0.28"/>
<circle cx="1459.2" cy="2644.7" r="0.9" fill="#E81123" fill-opacity="0.28"/>
<circle cx="1459.2" cy="2537.2" r="0.9" fill="#E81123" fill-opacity="0.28"/>
<circle cx="1459.2" cy="2570.9" r="0.9" fill="#E81123" fill-opacity="0.28"/>
<circle cx="1459.2" cy="2542.7" r="0.9" fill="#E81123" fill-opacity="0.28"/>
<circle cx="1459.2" cy="2644.7" r="0.9" fill="#E81123" fill-opacity="0.28"/>
<circle cx="1459.2" cy="2639.4" r="0.9" fill="#E81123" fill-opacity="0.28"/>
<circle cx="1459.2" cy="2596.4" r="0.9" fill="#E81123" fill-opacity="0.28"/>
<line x1="1564.8" y1="2572.7" x2="1564.8" y2="2376.7" stroke="#1c1c1c" stroke-width="1.4" stroke-dasharray="11.8 7.76"/>
<line x1="1564.8" y1="2720.8" x2="1564.8" y2="2816.3" stroke="#1c1c1c" stroke-width="1.4" stroke-dasharray="11.8 7.76"/>
<line x1="1558.4" y1="2376.7" x2="1571.2" y2="2376.7" stroke="#1c1c1c" stroke-width="1.6" />
<line x1="1558.4" y1="2816.3" x2="1571.2" y2="2816.3" stroke="#1c1c1c" stroke-width="1.6" />
<rect x="1551.8" y="2572.7" width="26.0" height="148.1" fill="#DC6A3E" stroke="#222" stroke-width="1.4"/>
<line x1="1552.8" y1="2642.9" x2="1576.8" y2="2642.9" stroke="#E81123" stroke-width="1.5" />
<circle cx="1564.8" cy="2316.3" r="0.9" fill="#E81123" fill-opacity="0.28"/>
<circle cx="1564.8" cy="2345.1" r="0.9" fill="#E81123" fill-opacity="0.28"/>
<circle cx="1564.8" cy="2328.9" r="0.9" fill="#E81123" fill-opacity="0.28"/>
<circle cx="1564.8" cy="2360.8" r="0.9" fill="#E81123" fill-opacity="0.28"/>
<circle cx="1564.8" cy="2333.0" r="0.9" fill="#E81123" fill-opacity="0.28"/>
<line x1="1617.5" y1="2540.5" x2="1617.5" y2="2370.6" stroke="#1c1c1c" stroke-width="1.4" stroke-dasharray="11.8 7.76"/>
<line x1="1617.5" y1="2678.2" x2="1617.5" y2="2816.3" stroke="#1c1c1c" stroke-width="1.4" stroke-dasharray="11.8 7.76"/>
<line x1="1611.1" y1="2370.6" x2="1623.9" y2="2370.6" stroke="#1c1c1c" stroke-width="1.6" />
<line x1="1611.1" y1="2816.3" x2="1623.9" y2="2816.3" stroke="#1c1c1c" stroke-width="1.6" />
<rect x="1604.5" y="2540.5" width="26.0" height="137.7" fill="#666666" stroke="#222" stroke-width="1.4"/>
<line x1="1605.5" y1="2621.0" x2="1629.5" y2="2621.0" stroke="#E81123" stroke-width="1.5" />
<circle cx="1617.5" cy="2195.7" r="0.9" fill="#E81123" fill-opacity="0.28"/>
<circle cx="1617.5" cy="2203.4" r="0.9" fill="#E81123" fill-opacity="0.28"/>
<circle cx="1617.5" cy="2282.1" r="0.9" fill="#E81123" fill-opacity="0.28"/>
<circle cx="1617.5" cy="2306.6" r="0.9" fill="#E81123" fill-opacity="0.28"/>
<circle cx="1617.5" cy="2332.6" r="0.9" fill="#E81123" fill-opacity="0.28"/>
<line x1="1670.3" y1="2758.7" x2="1670.3" y2="2701.2" stroke="#1c1c1c" stroke-width="1.4" stroke-dasharray="11.8 7.76"/>
<line x1="1670.3" y1="2798.3" x2="1670.3" y2="2816.3" stroke="#1c1c1c" stroke-width="1.4" stroke-dasharray="11.8 7.76"/>
<line x1="1663.9" y1="2701.2" x2="1676.7" y2="2701.2" stroke="#1c1c1c" stroke-width="1.6" />
<line x1="1663.9" y1="2816.3" x2="1676.7" y2="2816.3" stroke="#1c1c1c" stroke-width="1.6" />
<rect x="1657.3" y="2758.7" width="26.0" height="39.6" fill="#2E7BC4" stroke="#222" stroke-width="1.4"/>
<line x1="1658.3" y1="2780.0" x2="1682.3" y2="2780.0" stroke="#E81123" stroke-width="1.5" />
<circle cx="1670.3" cy="2690.1" r="0.9" fill="#E81123" fill-opacity="0.28"/>
<circle cx="1670.3" cy="2674.5" r="0.9" fill="#E81123" fill-opacity="0.28"/>
<circle cx="1670.3" cy="2592.0" r="0.9" fill="#E81123" fill-opacity="0.28"/>
<circle cx="1670.3" cy="2573.7" r="0.9" fill="#E81123" fill-opacity="0.28"/>
<circle cx="1670.3" cy="2663.8" r="0.9" fill="#E81123" fill-opacity="0.28"/>
<circle cx="1670.3" cy="2591.2" r="0.9" fill="#E81123" fill-opacity="0.28"/>
<circle cx="1670.3" cy="2593.5" r="0.9" fill="#E81123" fill-opacity="0.28"/>
<circle cx="1670.3" cy="2609.5" r="0.9" fill="#E81123" fill-opacity="0.28"/>
<circle cx="1670.3" cy="2615.3" r="0.9" fill="#E81123" fill-opacity="0.28"/>
<circle cx="1670.3" cy="2596.6" r="0.9" fill="#E81123" fill-opacity="0.28"/>
<circle cx="1670.3" cy="2663.5" r="0.9" fill="#E81123" fill-opacity="0.28"/>
<circle cx="1670.3" cy="2607.6" r="0.9" fill="#E81123" fill-opacity="0.28"/>
<circle cx="1670.3" cy="2673.5" r="0.9" fill="#E81123" fill-opacity="0.28"/>
<circle cx="1670.3" cy="2646.0" r="0.9" fill="#E81123" fill-opacity="0.28"/>
<circle cx="1670.3" cy="2594.5" r="0.9" fill="#E81123" fill-opacity="0.28"/>
<circle cx="1670.3" cy="2610.2" r="0.9" fill="#E81123" fill-opacity="0.28"/>
<line x1="1775.8" y1="2604.5" x2="1775.8" y2="2414.7" stroke="#1c1c1c" stroke-width="1.4" stroke-dasharray="11.8 7.76"/>
<line x1="1775.8" y1="2733.4" x2="1775.8" y2="2816.3" stroke="#1c1c1c" stroke-width="1.4" stroke-dasharray="11.8 7.76"/>
<line x1="1769.4" y1="2414.7" x2="1782.2" y2="2414.7" stroke="#1c1c1c" stroke-width="1.6" />
<line x1="1769.4" y1="2816.3" x2="1782.2" y2="2816.3" stroke="#1c1c1c" stroke-width="1.6" />
<rect x="1762.8" y="2604.5" width="26.0" height="128.9" fill="#DC6A3E" stroke="#222" stroke-width="1.4"/>
<line x1="1763.8" y1="2679.7" x2="1787.8" y2="2679.7" stroke="#E81123" stroke-width="1.5" />
<circle cx="1775.8" cy="2382.7" r="0.9" fill="#E81123" fill-opacity="0.28"/>
<circle cx="1775.8" cy="2251.3" r="0.9" fill="#E81123" fill-opacity="0.28"/>
<circle cx="1775.8" cy="2321.4" r="0.9" fill="#E81123" fill-opacity="0.28"/>
<circle cx="1775.8" cy="2335.5" r="0.9" fill="#E81123" fill-opacity="0.28"/>
<circle cx="1775.8" cy="2406.6" r="0.9" fill="#E81123" fill-opacity="0.28"/>
<line x1="1828.6" y1="2554.3" x2="1828.6" y2="2410.0" stroke="#1c1c1c" stroke-width="1.4" stroke-dasharray="11.8 7.76"/>
<line x1="1828.6" y1="2695.0" x2="1828.6" y2="2813.6" stroke="#1c1c1c" stroke-width="1.4" stroke-dasharray="11.8 7.76"/>
<line x1="1822.2" y1="2410.0" x2="1835.0" y2="2410.0" stroke="#1c1c1c" stroke-width="1.6" />
<line x1="1822.2" y1="2813.6" x2="1835.0" y2="2813.6" stroke="#1c1c1c" stroke-width="1.6" />
<rect x="1815.6" y="2554.3" width="26.0" height="140.7" fill="#666666" stroke="#222" stroke-width="1.4"/>
<line x1="1816.6" y1="2637.9" x2="1840.6" y2="2637.9" stroke="#E81123" stroke-width="1.5" />
<circle cx="1828.6" cy="2337.3" r="0.9" fill="#E81123" fill-opacity="0.28"/>
<circle cx="1828.6" cy="2383.4" r="0.9" fill="#E81123" fill-opacity="0.28"/>
<circle cx="1828.6" cy="2312.1" r="0.9" fill="#E81123" fill-opacity="0.28"/>
<circle cx="1828.6" cy="2352.4" r="0.9" fill="#E81123" fill-opacity="0.28"/>
<circle cx="1828.6" cy="2279.0" r="0.9" fill="#E81123" fill-opacity="0.28"/>
<line x1="1881.4" y1="2779.4" x2="1881.4" y2="2750.3" stroke="#1c1c1c" stroke-width="1.4" stroke-dasharray="11.8 7.76"/>
<line x1="1881.4" y1="2805.2" x2="1881.4" y2="2816.3" stroke="#1c1c1c" stroke-width="1.4" stroke-dasharray="11.8 7.76"/>
<line x1="1875.0" y1="2750.3" x2="1887.8" y2="2750.3" stroke="#1c1c1c" stroke-width="1.6" />
<line x1="1875.0" y1="2816.3" x2="1887.8" y2="2816.3" stroke="#1c1c1c" stroke-width="1.6" />
<rect x="1868.4" y="2779.4" width="26.0" height="25.8" fill="#2E7BC4" stroke="#222" stroke-width="1.4"/>
<line x1="1869.4" y1="2792.0" x2="1893.4" y2="2792.0" stroke="#E81123" stroke-width="1.5" />
<circle cx="1881.4" cy="2667.5" r="0.9" fill="#E81123" fill-opacity="0.28"/>
<circle cx="1881.4" cy="2637.8" r="0.9" fill="#E81123" fill-opacity="0.28"/>
<circle cx="1881.4" cy="2714.6" r="0.9" fill="#E81123" fill-opacity="0.28"/>
<circle cx="1881.4" cy="2668.1" r="0.9" fill="#E81123" fill-opacity="0.28"/>
<circle cx="1881.4" cy="2650.1" r="0.9" fill="#E81123" fill-opacity="0.28"/>
<circle cx="1881.4" cy="2631.4" r="0.9" fill="#E81123" fill-opacity="0.28"/>
<circle cx="1881.4" cy="2714.3" r="0.9" fill="#E81123" fill-opacity="0.28"/>
<circle cx="1881.4" cy="2628.2" r="0.9" fill="#E81123" fill-opacity="0.28"/>
<circle cx="1881.4" cy="2622.3" r="0.9" fill="#E81123" fill-opacity="0.28"/>
<circle cx="1881.4" cy="2659.8" r="0.9" fill="#E81123" fill-opacity="0.28"/>
<circle cx="1881.4" cy="2598.0" r="0.9" fill="#E81123" fill-opacity="0.28"/>
<circle cx="1881.4" cy="2602.6" r="0.9" fill="#E81123" fill-opacity="0.28"/>
<circle cx="1881.4" cy="2689.9" r="0.9" fill="#E81123" fill-opacity="0.28"/>
<circle cx="1881.4" cy="2688.1" r="0.9" fill="#E81123" fill-opacity="0.28"/>
<circle cx="1881.4" cy="2733.8" r="0.9" fill="#E81123" fill-opacity="0.28"/>
<circle cx="1881.4" cy="2629.5" r="0.9" fill="#E81123" fill-opacity="0.28"/>
<line x1="1986.9" y1="2635.2" x2="1986.9" y2="2464.9" stroke="#1c1c1c" stroke-width="1.4" stroke-dasharray="11.8 7.76"/>
<line x1="1986.9" y1="2764.9" x2="1986.9" y2="2816.3" stroke="#1c1c1c" stroke-width="1.4" stroke-dasharray="11.8 7.76"/>
<line x1="1980.5" y1="2464.9" x2="1993.3" y2="2464.9" stroke="#1c1c1c" stroke-width="1.6" />
<line x1="1980.5" y1="2816.3" x2="1993.3" y2="2816.3" stroke="#1c1c1c" stroke-width="1.6" />
<rect x="1973.9" y="2635.2" width="26.0" height="129.7" fill="#DC6A3E" stroke="#222" stroke-width="1.4"/>
<line x1="1974.9" y1="2697.4" x2="1998.9" y2="2697.4" stroke="#E81123" stroke-width="1.5" />
<circle cx="1986.9" cy="2303.6" r="0.9" fill="#E81123" fill-opacity="0.28"/>
<circle cx="1986.9" cy="2404.8" r="0.9" fill="#E81123" fill-opacity="0.28"/>
<circle cx="1986.9" cy="2362.7" r="0.9" fill="#E81123" fill-opacity="0.28"/>
<circle cx="1986.9" cy="2356.5" r="0.9" fill="#E81123" fill-opacity="0.28"/>
<circle cx="1986.9" cy="2354.1" r="0.9" fill="#E81123" fill-opacity="0.28"/>
<line x1="2039.7" y1="2575.0" x2="2039.7" y2="2366.7" stroke="#1c1c1c" stroke-width="1.4" stroke-dasharray="11.8 7.76"/>
<line x1="2039.7" y1="2736.5" x2="2039.7" y2="2815.5" stroke="#1c1c1c" stroke-width="1.4" stroke-dasharray="11.8 7.76"/>
<line x1="2033.3" y1="2366.7" x2="2046.1" y2="2366.7" stroke="#1c1c1c" stroke-width="1.6" />
<line x1="2033.3" y1="2815.5" x2="2046.1" y2="2815.5" stroke="#1c1c1c" stroke-width="1.6" />
<rect x="2026.7" y="2575.0" width="26.0" height="161.5" fill="#666666" stroke="#222" stroke-width="1.4"/>
<line x1="2027.7" y1="2682.4" x2="2051.7" y2="2682.4" stroke="#E81123" stroke-width="1.5" />
<circle cx="2039.7" cy="2348.5" r="0.9" fill="#E81123" fill-opacity="0.28"/>
<circle cx="2039.7" cy="2244.4" r="0.9" fill="#E81123" fill-opacity="0.28"/>
<circle cx="2039.7" cy="2287.4" r="0.9" fill="#E81123" fill-opacity="0.28"/>
<circle cx="2039.7" cy="2270.1" r="0.9" fill="#E81123" fill-opacity="0.28"/>
<circle cx="2039.7" cy="2316.1" r="0.9" fill="#E81123" fill-opacity="0.28"/>
<line x1="2092.4" y1="2785.6" x2="2092.4" y2="2757.6" stroke="#1c1c1c" stroke-width="1.4" stroke-dasharray="11.8 7.76"/>
<line x1="2092.4" y1="2806.3" x2="2092.4" y2="2816.3" stroke="#1c1c1c" stroke-width="1.4" stroke-dasharray="11.8 7.76"/>
<line x1="2086.0" y1="2757.6" x2="2098.8" y2="2757.6" stroke="#1c1c1c" stroke-width="1.6" />
<line x1="2086.0" y1="2816.3" x2="2098.8" y2="2816.3" stroke="#1c1c1c" stroke-width="1.6" />
<rect x="2079.4" y="2785.6" width="26.0" height="20.7" fill="#2E7BC4" stroke="#222" stroke-width="1.4"/>
<line x1="2080.4" y1="2796.7" x2="2104.4" y2="2796.7" stroke="#E81123" stroke-width="1.5" />
<circle cx="2092.4" cy="2679.1" r="0.9" fill="#E81123" fill-opacity="0.28"/>
<circle cx="2092.4" cy="2649.9" r="0.9" fill="#E81123" fill-opacity="0.28"/>
<circle cx="2092.4" cy="2676.7" r="0.9" fill="#E81123" fill-opacity="0.28"/>
<circle cx="2092.4" cy="2660.8" r="0.9" fill="#E81123" fill-opacity="0.28"/>
<circle cx="2092.4" cy="2749.1" r="0.9" fill="#E81123" fill-opacity="0.28"/>
<circle cx="2092.4" cy="2741.6" r="0.9" fill="#E81123" fill-opacity="0.28"/>
<circle cx="2092.4" cy="2709.1" r="0.9" fill="#E81123" fill-opacity="0.28"/>
<circle cx="2092.4" cy="2674.3" r="0.9" fill="#E81123" fill-opacity="0.28"/>
<circle cx="2092.4" cy="2736.4" r="0.9" fill="#E81123" fill-opacity="0.28"/>
<circle cx="2092.4" cy="2667.5" r="0.9" fill="#E81123" fill-opacity="0.28"/>
<circle cx="2092.4" cy="2677.8" r="0.9" fill="#E81123" fill-opacity="0.28"/>
<circle cx="2092.4" cy="2748.7" r="0.9" fill="#E81123" fill-opacity="0.28"/>
<circle cx="2092.4" cy="2704.5" r="0.9" fill="#E81123" fill-opacity="0.28"/>
<circle cx="2092.4" cy="2735.7" r="0.9" fill="#E81123" fill-opacity="0.28"/>
<circle cx="2092.4" cy="2748.2" r="0.9" fill="#E81123" fill-opacity="0.28"/>
<circle cx="2092.4" cy="2743.6" r="0.9" fill="#E81123" fill-opacity="0.28"/>
<line x1="2198.0" y1="2644.8" x2="2198.0" y2="2480.6" stroke="#1c1c1c" stroke-width="1.4" stroke-dasharray="11.8 7.76"/>
<line x1="2198.0" y1="2764.9" x2="2198.0" y2="2815.5" stroke="#1c1c1c" stroke-width="1.4" stroke-dasharray="11.8 7.76"/>
<line x1="2191.6" y1="2480.6" x2="2204.4" y2="2480.6" stroke="#1c1c1c" stroke-width="1.6" />
<line x1="2191.6" y1="2815.5" x2="2204.4" y2="2815.5" stroke="#1c1c1c" stroke-width="1.6" />
<rect x="2185.0" y="2644.8" width="26.0" height="120.1" fill="#DC6A3E" stroke="#222" stroke-width="1.4"/>
<line x1="2186.0" y1="2702.3" x2="2210.0" y2="2702.3" stroke="#E81123" stroke-width="1.5" />
<circle cx="2198.0" cy="2445.5" r="0.9" fill="#E81123" fill-opacity="0.28"/>
<circle cx="2198.0" cy="2461.5" r="0.9" fill="#E81123" fill-opacity="0.28"/>
<circle cx="2198.0" cy="2460.3" r="0.9" fill="#E81123" fill-opacity="0.28"/>
<circle cx="2198.0" cy="2471.8" r="0.9" fill="#E81123" fill-opacity="0.28"/>
<circle cx="2198.0" cy="2422.6" r="0.9" fill="#E81123" fill-opacity="0.28"/>
<line x1="2250.7" y1="2567.3" x2="2250.7" y2="2299.6" stroke="#1c1c1c" stroke-width="1.4" stroke-dasharray="11.8 7.76"/>
<line x1="2250.7" y1="2798.2" x2="2250.7" y2="2816.3" stroke="#1c1c1c" stroke-width="1.4" stroke-dasharray="11.8 7.76"/>
<line x1="2244.3" y1="2299.6" x2="2257.1" y2="2299.6" stroke="#1c1c1c" stroke-width="1.6" />
<line x1="2244.3" y1="2816.3" x2="2257.1" y2="2816.3" stroke="#1c1c1c" stroke-width="1.6" />
<rect x="2237.7" y="2567.3" width="26.0" height="230.9" fill="#666666" stroke="#222" stroke-width="1.4"/>
<line x1="2238.7" y1="2701.6" x2="2262.7" y2="2701.6" stroke="#E81123" stroke-width="1.5" />
<circle cx="2250.7" cy="2255.4" r="0.9" fill="#E81123" fill-opacity="0.28"/>
<circle cx="2250.7" cy="2214.2" r="0.9" fill="#E81123" fill-opacity="0.28"/>
<circle cx="2250.7" cy="2218.5" r="0.9" fill="#E81123" fill-opacity="0.28"/>
<circle cx="2250.7" cy="2274.5" r="0.9" fill="#E81123" fill-opacity="0.28"/>
<circle cx="2250.7" cy="2147.2" r="0.9" fill="#E81123" fill-opacity="0.28"/>
<line x1="2303.5" y1="2739.6" x2="2303.5" y2="2732.7" stroke="#1c1c1c" stroke-width="1.4" stroke-dasharray="11.8 7.76"/>
<line x1="2303.5" y1="2795.5" x2="2303.5" y2="2798.2" stroke="#1c1c1c" stroke-width="1.4" stroke-dasharray="11.8 7.76"/>
<line x1="2297.1" y1="2732.7" x2="2309.9" y2="2732.7" stroke="#1c1c1c" stroke-width="1.6" />
<line x1="2297.1" y1="2798.2" x2="2309.9" y2="2798.2" stroke="#1c1c1c" stroke-width="1.6" />
<rect x="2290.5" y="2739.6" width="26.0" height="55.9" fill="#2E7BC4" stroke="#222" stroke-width="1.4"/>
<line x1="2291.5" y1="2770.2" x2="2315.5" y2="2770.2" stroke="#E81123" stroke-width="1.5" />
<circle cx="2303.5" cy="2724.7" r="0.9" fill="#E81123" fill-opacity="0.28"/>
<circle cx="2303.5" cy="2689.3" r="0.9" fill="#E81123" fill-opacity="0.28"/>
<circle cx="2303.5" cy="2705.3" r="0.9" fill="#E81123" fill-opacity="0.28"/>
<circle cx="2303.5" cy="2688.7" r="0.9" fill="#E81123" fill-opacity="0.28"/>
<circle cx="2303.5" cy="2720.0" r="0.9" fill="#E81123" fill-opacity="0.28"/>
<circle cx="2303.5" cy="2613.1" r="0.9" fill="#E81123" fill-opacity="0.28"/>
<circle cx="2303.5" cy="2693.6" r="0.9" fill="#E81123" fill-opacity="0.28"/>
<circle cx="2303.5" cy="2724.0" r="0.9" fill="#E81123" fill-opacity="0.28"/>
<circle cx="2303.5" cy="2656.0" r="0.9" fill="#E81123" fill-opacity="0.28"/>
<circle cx="2303.5" cy="2721.2" r="0.9" fill="#E81123" fill-opacity="0.28"/>
<circle cx="2303.5" cy="2667.9" r="0.9" fill="#E81123" fill-opacity="0.28"/>
<circle cx="2303.5" cy="2698.1" r="0.9" fill="#E81123" fill-opacity="0.28"/>
<circle cx="2303.5" cy="2661.8" r="0.9" fill="#E81123" fill-opacity="0.28"/>
<circle cx="2303.5" cy="2584.6" r="0.9" fill="#E81123" fill-opacity="0.28"/>
<circle cx="2303.5" cy="2615.8" r="0.9" fill="#E81123" fill-opacity="0.28"/>
<circle cx="2303.5" cy="2687.4" r="0.9" fill="#E81123" fill-opacity="0.28"/>
<circle cx="509.4" cy="2702.0" r="0.8" fill="#E81123" fill-opacity="0.28"/>
<circle cx="509.4" cy="2706.4" r="0.8" fill="#E81123" fill-opacity="0.28"/>
<circle cx="509.4" cy="2710.8" r="0.8" fill="#E81123" fill-opacity="0.28"/>
<circle cx="509.4" cy="2715.2" r="0.8" fill="#E81123" fill-opacity="0.28"/>
<circle cx="509.4" cy="2719.6" r="0.8" fill="#E81123" fill-opacity="0.28"/>
<circle cx="509.4" cy="2724.0" r="0.8" fill="#E81123" fill-opacity="0.28"/>
<circle cx="509.4" cy="2728.4" r="0.8" fill="#E81123" fill-opacity="0.28"/>
<circle cx="509.4" cy="2732.8" r="0.8" fill="#E81123" fill-opacity="0.28"/>
<circle cx="509.4" cy="2737.2" r="0.8" fill="#E81123" fill-opacity="0.28"/>
<circle cx="509.4" cy="2741.6" r="0.8" fill="#E81123" fill-opacity="0.28"/>
<circle cx="509.4" cy="2746.0" r="0.8" fill="#E81123" fill-opacity="0.28"/>
<circle cx="509.4" cy="2750.4" r="0.8" fill="#E81123" fill-opacity="0.28"/>
<circle cx="509.4" cy="2754.8" r="0.8" fill="#E81123" fill-opacity="0.28"/>
<circle cx="509.4" cy="2759.2" r="0.8" fill="#E81123" fill-opacity="0.28"/>
<circle cx="509.4" cy="2763.6" r="0.8" fill="#E81123" fill-opacity="0.28"/>
<circle cx="509.4" cy="2768.0" r="0.8" fill="#E81123" fill-opacity="0.28"/>
<circle cx="509.4" cy="2772.4" r="0.8" fill="#E81123" fill-opacity="0.28"/>
<circle cx="509.4" cy="2776.8" r="0.8" fill="#E81123" fill-opacity="0.28"/>
<circle cx="509.4" cy="2781.2" r="0.8" fill="#E81123" fill-opacity="0.28"/>
<circle cx="509.4" cy="2785.6" r="0.8" fill="#E81123" fill-opacity="0.28"/>
<circle cx="509.4" cy="2790.0" r="0.8" fill="#E81123" fill-opacity="0.28"/>
<circle cx="509.4" cy="2794.4" r="0.8" fill="#E81123" fill-opacity="0.28"/>
<line x1="456.6" y1="2509.3" x2="2355.3" y2="2725.8" stroke="#424242" stroke-width="4.6" />
<line x1="456.6" y1="2491.8" x2="2355.3" y2="2759.3" stroke="#D0460F" stroke-width="4.6" />
<line x1="456.6" y1="2764.5" x2="2355.3" y2="2792.6" stroke="#1266B8" stroke-width="5.0" />
<rect x="351.1" y="1618.5" width="2110.7000000000003" height="1294.6999999999998" fill="none" stroke="#363636" stroke-width="1.4"/>
<line x1="562.2" y1="1618.5" x2="562.2" y2="1640.0" stroke="#363636" stroke-width="1.3" />
<line x1="562.2" y1="2913.2" x2="562.2" y2="2891.7" stroke="#363636" stroke-width="1.3" />
<line x1="773.2" y1="1618.5" x2="773.2" y2="1640.0" stroke="#363636" stroke-width="1.3" />
<line x1="773.2" y1="2913.2" x2="773.2" y2="2891.7" stroke="#363636" stroke-width="1.3" />
<line x1="984.3" y1="1618.5" x2="984.3" y2="1640.0" stroke="#363636" stroke-width="1.3" />
<line x1="984.3" y1="2913.2" x2="984.3" y2="2891.7" stroke="#363636" stroke-width="1.3" />
<line x1="1195.4" y1="1618.5" x2="1195.4" y2="1640.0" stroke="#363636" stroke-width="1.3" />
<line x1="1195.4" y1="2913.2" x2="1195.4" y2="2891.7" stroke="#363636" stroke-width="1.3" />
<line x1="1406.4" y1="1618.5" x2="1406.4" y2="1640.0" stroke="#363636" stroke-width="1.3" />
<line x1="1406.4" y1="2913.2" x2="1406.4" y2="2891.7" stroke="#363636" stroke-width="1.3" />
<line x1="1617.5" y1="1618.5" x2="1617.5" y2="1640.0" stroke="#363636" stroke-width="1.3" />
<line x1="1617.5" y1="2913.2" x2="1617.5" y2="2891.7" stroke="#363636" stroke-width="1.3" />
<line x1="1828.6" y1="1618.5" x2="1828.6" y2="1640.0" stroke="#363636" stroke-width="1.3" />
<line x1="1828.6" y1="2913.2" x2="1828.6" y2="2891.7" stroke="#363636" stroke-width="1.3" />
<line x1="2039.7" y1="1618.5" x2="2039.7" y2="1640.0" stroke="#363636" stroke-width="1.3" />
<line x1="2039.7" y1="2913.2" x2="2039.7" y2="2891.7" stroke="#363636" stroke-width="1.3" />
<line x1="2250.7" y1="1618.5" x2="2250.7" y2="1640.0" stroke="#363636" stroke-width="1.3" />
<line x1="2250.7" y1="2913.2" x2="2250.7" y2="2891.7" stroke="#363636" stroke-width="1.3" />
<line x1="351.1" y1="2816.3" x2="372.6" y2="2816.3" stroke="#363636" stroke-width="1.3" />
<line x1="2461.8" y1="2816.3" x2="2440.3" y2="2816.3" stroke="#363636" stroke-width="1.3" />
<line x1="351.1" y1="2577.0" x2="372.6" y2="2577.0" stroke="#363636" stroke-width="1.3" />
<line x1="2461.8" y1="2577.0" x2="2440.3" y2="2577.0" stroke="#363636" stroke-width="1.3" />
<line x1="351.1" y1="2337.7" x2="372.6" y2="2337.7" stroke="#363636" stroke-width="1.3" />
<line x1="2461.8" y1="2337.7" x2="2440.3" y2="2337.7" stroke="#363636" stroke-width="1.3" />
<line x1="351.1" y1="2098.4" x2="372.6" y2="2098.4" stroke="#363636" stroke-width="1.3" />
<line x1="2461.8" y1="2098.4" x2="2440.3" y2="2098.4" stroke="#363636" stroke-width="1.3" />
<line x1="351.1" y1="1859.1" x2="372.6" y2="1859.1" stroke="#363636" stroke-width="1.3" />
<line x1="2461.8" y1="1859.1" x2="2440.3" y2="1859.1" stroke="#363636" stroke-width="1.3" />
<text transform="translate(282.02,2841.60) scale(0.9638,1.0000)" x="-3.46" y="0" fill="#202020" stroke="#202020" stroke-width="0.9" style='font-family:"Liberation Sans", sans-serif;font-size:88.5px;font-kerning:none;'>0</text>
<text transform="translate(282.36,2602.30) scale(0.9638,1.0000)" x="-3.54" y="0" fill="#202020" stroke="#202020" stroke-width="0.9" style='font-family:"Liberation Sans", sans-serif;font-size:88.5px;font-kerning:none;'>5</text>
<text transform="translate(237.75,2363.00) scale(0.9638,1.0000)" x="-6.74" y="0" fill="#202020" stroke="#202020" stroke-width="0.9" style='font-family:"Liberation Sans", sans-serif;font-size:88.5px;font-kerning:none;'>10</text>
<text transform="translate(238.00,2123.70) scale(0.9638,1.0000)" x="-6.74" y="0" fill="#202020" stroke="#202020" stroke-width="0.9" style='font-family:"Liberation Sans", sans-serif;font-size:88.5px;font-kerning:none;'>15</text>
<text transform="translate(235.54,1884.40) scale(0.9638,1.0000)" x="-4.45" y="0" fill="#202020" stroke="#202020" stroke-width="0.9" style='font-family:"Liberation Sans", sans-serif;font-size:88.5px;font-kerning:none;'>20</text>
<text transform="translate(235.79,1645.10) scale(0.9638,1.0000)" x="-4.45" y="0" fill="#202020" stroke="#202020" stroke-width="0.9" style='font-family:"Liberation Sans", sans-serif;font-size:88.5px;font-kerning:none;'>25</text>
<text transform="translate(501.24,3004.20) scale(1.0000,1.0000)" x="-3.45" y="0" fill="#202020" stroke="#202020" stroke-width="0.9" style='font-family:"Liberation Sans", sans-serif;font-size:88.3px;font-kerning:none;'>0.1</text>
<text transform="translate(715.31,3004.20) scale(1.0000,1.0000)" x="-3.45" y="0" fill="#202020" stroke="#202020" stroke-width="0.9" style='font-family:"Liberation Sans", sans-serif;font-size:88.3px;font-kerning:none;'>0.2</text>
<text transform="translate(926.38,3004.20) scale(1.0000,1.0000)" x="-3.45" y="0" fill="#202020" stroke="#202020" stroke-width="0.9" style='font-family:"Liberation Sans", sans-serif;font-size:88.3px;font-kerning:none;'>0.3</text>
<text transform="translate(1137.45,3004.20) scale(1.0000,1.0000)" x="-3.45" y="0" fill="#202020" stroke="#202020" stroke-width="0.9" style='font-family:"Liberation Sans", sans-serif;font-size:88.3px;font-kerning:none;'>0.4</text>
<text transform="translate(1348.52,3004.20) scale(1.0000,1.0000)" x="-3.45" y="0" fill="#202020" stroke="#202020" stroke-width="0.9" style='font-family:"Liberation Sans", sans-serif;font-size:88.3px;font-kerning:none;'>0.5</text>
<text transform="translate(1559.59,3004.20) scale(1.0000,1.0000)" x="-3.45" y="0" fill="#202020" stroke="#202020" stroke-width="0.9" style='font-family:"Liberation Sans", sans-serif;font-size:88.3px;font-kerning:none;'>0.6</text>
<text transform="translate(1770.66,3004.20) scale(1.0000,1.0000)" x="-3.45" y="0" fill="#202020" stroke="#202020" stroke-width="0.9" style='font-family:"Liberation Sans", sans-serif;font-size:88.3px;font-kerning:none;'>0.7</text>
<text transform="translate(1981.73,3004.20) scale(1.0000,1.0000)" x="-3.45" y="0" fill="#202020" stroke="#202020" stroke-width="0.9" style='font-family:"Liberation Sans", sans-serif;font-size:88.3px;font-kerning:none;'>0.8</text>
<text transform="translate(2192.80,3004.20) scale(1.0000,1.0000)" x="-3.45" y="0" fill="#202020" stroke="#202020" stroke-width="0.9" style='font-family:"Liberation Sans", sans-serif;font-size:88.3px;font-kerning:none;'>0.9</text>
<text transform="translate(25.20,1655.30) scale(1.0244,1.0000)" x="-5.80" y="0" fill="#000" stroke="#000" stroke-width="0.9" style='font-family:"Liberation Sans", sans-serif;font-size:93.5px;font-kerning:none;'>(c)</text>
<text transform="translate(905.00,3127.80) scale(1.0128,1.0000)" x="-7.46" y="0" fill="#000" stroke="#000" stroke-width="0.9" style='font-family:"Liberation Sans", sans-serif;font-size:91px;font-kerning:none;'>Evaporative fraction</text>
<text transform="translate(1804.80,3135.06) scale(0.9072,1.0775)" x="-4.39" y="0" fill="#1a1a1a" style='font-family:"Liberation Serif", serif;font-size:100.0px;font-kerning:none;'>(</text>
<text transform="translate(1839.00,3132.60) scale(1.2833,0.9629)" x="-1.12" y="0" fill="#1a1a1a" style='font-family:"Liberation Serif", serif;font-size:100.0px;font-kerning:none;font-style:italic;'>f</text>
<text transform="translate(1884.70,3146.98) scale(0.6605,0.6383)" x="-3.08" y="0" fill="#1a1a1a" style='font-family:"Liberation Serif", serif;font-size:100.0px;font-kerning:none;font-style:italic;'>e</text>
<text transform="translate(1922.40,3135.06) scale(0.8877,1.0775)" x="-3.22" y="0" fill="#1a1a1a" style='font-family:"Liberation Serif", serif;font-size:100.0px;font-kerning:none;'>)</text>
<line x1="0" y1="76.2" x2="308.8" y2="76.2" stroke="#1a1a1a" stroke-width="3.8" transform="translate(0,2485.1) rotate(-90)"/>
<text transform="translate(0,2485.1) rotate(-90) translate(1.30,155.90) scale(1.1968,1.0141)" x="-6.54" y="0" fill="#1a1a1a" style='font-family:"Liberation Serif", serif;font-size:100.0px;font-kerning:none;font-style:italic;'>T</text>
<text transform="translate(0,2485.1) rotate(-90) translate(60.30,170.87) scale(0.7067,0.6425)" x="-1.22" y="0" fill="#1a1a1a" style='font-family:"Liberation Serif", serif;font-size:100.0px;font-kerning:none;font-style:italic;'>s</text>
<text transform="translate(0,2485.1) rotate(-90) translate(122.60,157.96) scale(1.5715,1.0000)" x="-3.98" y="0" fill="#1a1a1a" style='font-family:"Liberation Serif", serif;font-size:80px;font-kerning:none;'>−</text>
<text transform="translate(0,2485.1) rotate(-90) translate(213.60,155.60) scale(1.1877,1.0110)" x="-6.54" y="0" fill="#1a1a1a" style='font-family:"Liberation Serif", serif;font-size:100.0px;font-kerning:none;font-style:italic;'>T</text>
<text transform="translate(0,2485.1) rotate(-90) translate(270.80,171.15) scale(0.7235,0.6383)" x="-2.98" y="0" fill="#1a1a1a" style='font-family:"Liberation Serif", serif;font-size:100.0px;font-kerning:none;font-style:italic;'>a</text>
<text transform="translate(0,2485.1) rotate(-90) translate(350.50,157.20) scale(0.8449,1.0709)" x="-4.39" y="0" fill="#1a1a1a" style='font-family:"Liberation Serif", serif;font-size:100.0px;font-kerning:none;'>(</text>
<text transform="translate(0,2485.1) rotate(-90) translate(382.50,155.90) scale(1.1362,1.0232)" x="1.17" y="0" fill="#1a1a1a" style='font-family:"Liberation Serif", serif;font-size:100.0px;font-kerning:none;font-style:italic;'>K</text>
<text transform="translate(0,2485.1) rotate(-90) translate(474.10,157.20) scale(0.8449,1.0709)" x="-3.22" y="0" fill="#1a1a1a" style='font-family:"Liberation Serif", serif;font-size:100.0px;font-kerning:none;'>)</text>
<line x1="872.6" y1="1703.6" x2="1121.5" y2="1703.6" stroke="#C8441A" stroke-width="3" />
<text transform="translate(873.60,1766.80) scale(0.9294,0.7682)" x="-6.54" y="0" fill="#C8441A" style='font-family:"Liberation Serif", serif;font-size:100.0px;font-kerning:none;font-style:italic;'>T</text>
<text transform="translate(919.40,1779.04) scale(0.6231,0.4678)" x="-1.22" y="0" fill="#C8441A" style='font-family:"Liberation Serif", serif;font-size:100.0px;font-kerning:none;font-style:italic;'>s</text>
<text transform="translate(968.00,1766.59) scale(1.7469,1.0000)" x="-3.09" y="0" fill="#C8441A" style='font-family:"Liberation Serif", serif;font-size:62px;font-kerning:none;'>−</text>
<text transform="translate(1045.00,1766.80) scale(0.9458,0.7682)" x="-6.54" y="0" fill="#C8441A" style='font-family:"Liberation Serif", serif;font-size:100.0px;font-kerning:none;font-style:italic;'>T</text>
<text transform="translate(1093.00,1779.02) scale(0.6010,0.4678)" x="-2.98" y="0" fill="#C8441A" style='font-family:"Liberation Serif", serif;font-size:100.0px;font-kerning:none;font-style:italic;'>a</text>
<text transform="translate(1146.90,1766.59) scale(1.8648,1.0000)" x="-3.09" y="0" fill="#C8441A" style='font-family:"Liberation Serif", serif;font-size:62px;font-kerning:none;'>=</text>
<text transform="translate(1232.00,1766.59) scale(1.6845,1.0000)" x="-3.09" y="0" fill="#C8441A" style='font-family:"Liberation Serif", serif;font-size:62px;font-kerning:none;'>−</text>
<text transform="translate(1283.63,1767.30) scale(1.0437,1.0)" x="0" y="0" fill="#C8441A" style='font-family:"Liberation Serif", serif;font-size:78.0px;font-kerning:none;'>7.50</text>
<text transform="translate(1448.50,1782.18) scale(0.7314,0.8045)" x="-4.88" y="0" fill="#C8441A" style='font-family:"Liberation Serif", serif;font-size:100.0px;font-kerning:none;'>*</text>
<text transform="translate(1504.00,1765.98) scale(1.0476,0.7525)" x="-1.12" y="0" fill="#C8441A" style='font-family:"Liberation Serif", serif;font-size:100.0px;font-kerning:none;font-style:italic;'>f</text>
<text transform="translate(1540.80,1779.04) scale(0.5683,0.4678)" x="-3.08" y="0" fill="#C8441A" style='font-family:"Liberation Serif", serif;font-size:100.0px;font-kerning:none;font-style:italic;'>e</text>
<text transform="translate(1590.50,1784.06) scale(1.1282,1.1163)" x="-4.98" y="0" fill="#C8441A" style='font-family:"Liberation Serif", serif;font-size:100.0px;font-kerning:none;'>+</text>
<text transform="translate(1663.63,1767.30) scale(1.0437,1.0)" x="0" y="0" fill="#C8441A" style='font-family:"Liberation Serif", serif;font-size:78.0px;font-kerning:none;'>7.66</text>
<text transform="translate(1810.00,1767.93) scale(0.8058,0.9150)" x="-3.81" y="0" fill="#C8441A" style='font-family:"Liberation Serif", serif;font-size:100.0px;font-kerning:none;'>,</text>
<text transform="translate(1853.00,1767.00) scale(0.9387,0.6897)" x="-4.05" y="0" fill="#C8441A" style='font-family:"Liberation Serif", serif;font-size:100.0px;font-kerning:none;font-style:italic;'>r</text>
<text transform="translate(1889.70,1739.60) scale(0.6062,0.4320)" x="-4.39" y="0" fill="#C8441A" style='font-family:"Liberation Serif", serif;font-size:100.0px;font-kerning:none;'>2</text>
<text transform="translate(1945.00,1766.59) scale(1.8717,1.0000)" x="-3.09" y="0" fill="#C8441A" style='font-family:"Liberation Serif", serif;font-size:62px;font-kerning:none;'>=</text>
<text transform="translate(2026.90,1767.30) scale(1.0437,1.0)" x="0" y="0" fill="#C8441A" style='font-family:"Liberation Serif", serif;font-size:78.0px;font-kerning:none;'>0.40</text>
<line x1="870.1" y1="1854.1" x2="1119.0" y2="1854.1" stroke="#444444" stroke-width="3" />
<text transform="translate(871.10,1917.30) scale(0.9294,0.7682)" x="-6.54" y="0" fill="#444444" style='font-family:"Liberation Serif", serif;font-size:100.0px;font-kerning:none;font-style:italic;'>T</text>
<text transform="translate(916.90,1929.54) scale(0.6231,0.4678)" x="-1.22" y="0" fill="#444444" style='font-family:"Liberation Serif", serif;font-size:100.0px;font-kerning:none;font-style:italic;'>s</text>
<text transform="translate(965.50,1917.09) scale(1.7469,1.0000)" x="-3.09" y="0" fill="#444444" style='font-family:"Liberation Serif", serif;font-size:62px;font-kerning:none;'>−</text>
<text transform="translate(1042.50,1917.30) scale(0.9458,0.7682)" x="-6.54" y="0" fill="#444444" style='font-family:"Liberation Serif", serif;font-size:100.0px;font-kerning:none;font-style:italic;'>T</text>
<text transform="translate(1090.50,1929.52) scale(0.6010,0.4678)" x="-2.98" y="0" fill="#444444" style='font-family:"Liberation Serif", serif;font-size:100.0px;font-kerning:none;font-style:italic;'>a</text>
<text transform="translate(1144.40,1917.09) scale(1.8648,1.0000)" x="-3.09" y="0" fill="#444444" style='font-family:"Liberation Serif", serif;font-size:62px;font-kerning:none;'>=</text>
<text transform="translate(1229.50,1917.09) scale(1.6845,1.0000)" x="-3.09" y="0" fill="#444444" style='font-family:"Liberation Serif", serif;font-size:62px;font-kerning:none;'>−</text>
<text transform="translate(1281.13,1917.80) scale(1.0437,1.0)" x="0" y="0" fill="#444444" style='font-family:"Liberation Serif", serif;font-size:78.0px;font-kerning:none;'>6.49</text>
<text transform="translate(1446.00,1932.68) scale(0.7314,0.8045)" x="-4.88" y="0" fill="#444444" style='font-family:"Liberation Serif", serif;font-size:100.0px;font-kerning:none;'>*</text>
<text transform="translate(1501.50,1916.48) scale(1.0476,0.7525)" x="-1.12" y="0" fill="#444444" style='font-family:"Liberation Serif", serif;font-size:100.0px;font-kerning:none;font-style:italic;'>f</text>
<text transform="translate(1538.30,1929.54) scale(0.5683,0.4678)" x="-3.08" y="0" fill="#444444" style='font-family:"Liberation Serif", serif;font-size:100.0px;font-kerning:none;font-style:italic;'>e</text>
<text transform="translate(1588.00,1934.56) scale(1.1282,1.1163)" x="-4.98" y="0" fill="#444444" style='font-family:"Liberation Serif", serif;font-size:100.0px;font-kerning:none;'>+</text>
<text transform="translate(1661.13,1917.80) scale(1.0437,1.0)" x="0" y="0" fill="#444444" style='font-family:"Liberation Serif", serif;font-size:78.0px;font-kerning:none;'>7.45</text>
<text transform="translate(1807.50,1918.43) scale(0.8058,0.9150)" x="-3.81" y="0" fill="#444444" style='font-family:"Liberation Serif", serif;font-size:100.0px;font-kerning:none;'>,</text>
<text transform="translate(1850.50,1917.50) scale(0.9387,0.6897)" x="-4.05" y="0" fill="#444444" style='font-family:"Liberation Serif", serif;font-size:100.0px;font-kerning:none;font-style:italic;'>r</text>
<text transform="translate(1887.20,1890.10) scale(0.6062,0.4320)" x="-4.39" y="0" fill="#444444" style='font-family:"Liberation Serif", serif;font-size:100.0px;font-kerning:none;'>2</text>
<text transform="translate(1942.50,1917.09) scale(1.8717,1.0000)" x="-3.09" y="0" fill="#444444" style='font-family:"Liberation Serif", serif;font-size:62px;font-kerning:none;'>=</text>
<text transform="translate(2024.40,1917.80) scale(1.0437,1.0)" x="0" y="0" fill="#444444" style='font-family:"Liberation Serif", serif;font-size:78.0px;font-kerning:none;'>0.17</text>
<line x1="867.6" y1="2020.7" x2="1116.5" y2="2020.7" stroke="#1561B3" stroke-width="3" />
<text transform="translate(868.60,2083.90) scale(0.9294,0.7682)" x="-6.54" y="0" fill="#1561B3" style='font-family:"Liberation Serif", serif;font-size:100.0px;font-kerning:none;font-style:italic;'>T</text>
<text transform="translate(914.40,2096.14) scale(0.6231,0.4678)" x="-1.22" y="0" fill="#1561B3" style='font-family:"Liberation Serif", serif;font-size:100.0px;font-kerning:none;font-style:italic;'>s</text>
<text transform="translate(963.00,2083.69) scale(1.7469,1.0000)" x="-3.09" y="0" fill="#1561B3" style='font-family:"Liberation Serif", serif;font-size:62px;font-kerning:none;'>−</text>
<text transform="translate(1040.00,2083.90) scale(0.9458,0.7682)" x="-6.54" y="0" fill="#1561B3" style='font-family:"Liberation Serif", serif;font-size:100.0px;font-kerning:none;font-style:italic;'>T</text>
<text transform="translate(1088.00,2096.12) scale(0.6010,0.4678)" x="-2.98" y="0" fill="#1561B3" style='font-family:"Liberation Serif", serif;font-size:100.0px;font-kerning:none;font-style:italic;'>a</text>
<text transform="translate(1141.90,2083.69) scale(1.8648,1.0000)" x="-3.09" y="0" fill="#1561B3" style='font-family:"Liberation Serif", serif;font-size:62px;font-kerning:none;'>=</text>
<text transform="translate(1227.00,2083.69) scale(1.6845,1.0000)" x="-3.09" y="0" fill="#1561B3" style='font-family:"Liberation Serif", serif;font-size:62px;font-kerning:none;'>−</text>
<text transform="translate(1278.63,2084.40) scale(1.0437,1.0)" x="0" y="0" fill="#1561B3" style='font-family:"Liberation Serif", serif;font-size:78.0px;font-kerning:none;'>1.06</text>
<text transform="translate(1443.50,2099.28) scale(0.7314,0.8045)" x="-4.88" y="0" fill="#1561B3" style='font-family:"Liberation Serif", serif;font-size:100.0px;font-kerning:none;'>*</text>
<text transform="translate(1499.00,2083.08) scale(1.0476,0.7525)" x="-1.12" y="0" fill="#1561B3" style='font-family:"Liberation Serif", serif;font-size:100.0px;font-kerning:none;font-style:italic;'>f</text>
<text transform="translate(1535.80,2096.14) scale(0.5683,0.4678)" x="-3.08" y="0" fill="#1561B3" style='font-family:"Liberation Serif", serif;font-size:100.0px;font-kerning:none;font-style:italic;'>e</text>
<text transform="translate(1585.50,2101.16) scale(1.1282,1.1163)" x="-4.98" y="0" fill="#1561B3" style='font-family:"Liberation Serif", serif;font-size:100.0px;font-kerning:none;'>+</text>
<text transform="translate(1658.63,2084.40) scale(1.0437,1.0)" x="0" y="0" fill="#1561B3" style='font-family:"Liberation Serif", serif;font-size:78.0px;font-kerning:none;'>1.45</text>
<text transform="translate(1805.00,2085.03) scale(0.8058,0.9150)" x="-3.81" y="0" fill="#1561B3" style='font-family:"Liberation Serif", serif;font-size:100.0px;font-kerning:none;'>,</text>
<text transform="translate(1848.00,2084.10) scale(0.9387,0.6897)" x="-4.05" y="0" fill="#1561B3" style='font-family:"Liberation Serif", serif;font-size:100.0px;font-kerning:none;font-style:italic;'>r</text>
<text transform="translate(1884.70,2056.70) scale(0.6062,0.4320)" x="-4.39" y="0" fill="#1561B3" style='font-family:"Liberation Serif", serif;font-size:100.0px;font-kerning:none;'>2</text>
<text transform="translate(1940.00,2083.69) scale(1.8717,1.0000)" x="-3.09" y="0" fill="#1561B3" style='font-family:"Liberation Serif", serif;font-size:62px;font-kerning:none;'>=</text>
<text transform="translate(2021.90,2084.40) scale(1.0437,1.0)" x="0" y="0" fill="#1561B3" style='font-family:"Liberation Serif", serif;font-size:78.0px;font-kerning:none;'>0.03</text>
<rect x="2699.3" y="1772.5" width="800.6999999999998" height="571.0" fill="#fff" stroke="#2a2a2a" stroke-width="1.8"/>
<rect x="2719.8" y="1808.3" width="111" height="137.6" fill="#DD8860"/>
<rect x="2719.8" y="1989.8" width="111" height="137.2" fill="#858585"/>
<rect x="2719.8" y="2170.5" width="111" height="137.5" fill="#6096D4"/>
<text transform="translate(2839.40,1901.40) scale(1.0140,1.0000)" x="-3.75" y="0" fill="#000" stroke="#000" stroke-width="0.9" style='font-family:"Liberation Sans", sans-serif;font-size:82.5px;font-kerning:none;'>Short vegetation</text>
<text transform="translate(2845.80,2081.70) scale(0.9946,1.0000)" x="-3.75" y="0" fill="#000" stroke="#000" stroke-width="0.9" style='font-family:"Liberation Sans", sans-serif;font-size:82.5px;font-kerning:none;'>Savanna</text>
<text transform="translate(2848.00,2261.90) scale(1.0025,1.0000)" x="-6.77" y="0" fill="#000" stroke="#000" stroke-width="0.9" style='font-family:"Liberation Sans", sans-serif;font-size:82.5px;font-kerning:none;'>Forest</text>
</g>
</svg>
</body></html>
